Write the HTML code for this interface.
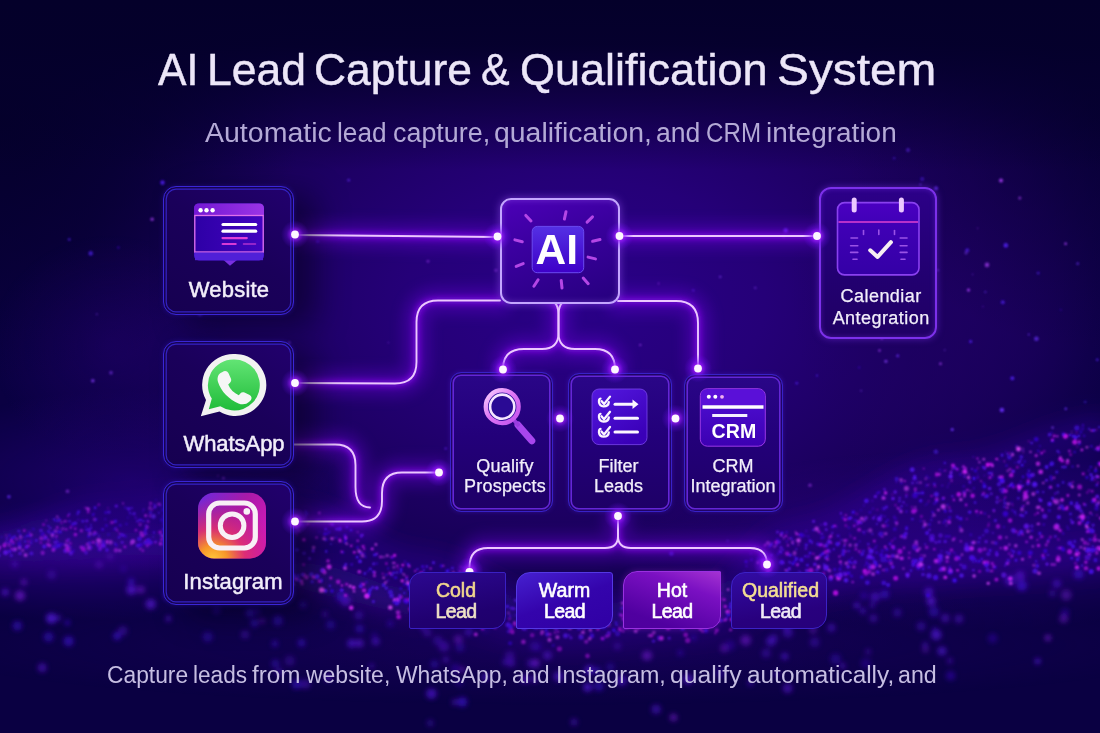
<!DOCTYPE html>
<html><head><meta charset="utf-8">
<style>
*{margin:0;padding:0;box-sizing:border-box}
html,body{width:1100px;height:733px;overflow:hidden;background:#0a0340}
body{position:relative;font-family:"Liberation Sans",sans-serif}
.bg{position:absolute;left:0;top:0;width:1100px;height:733px;
 background:
  linear-gradient(180deg, rgba(4,0,42,1) 0px, rgba(4,0,42,0.92) 45px, rgba(4,0,42,0.45) 110px, rgba(4,0,42,0) 170px),
  radial-gradient(ellipse 300px 260px at 0px 120px, rgba(4,0,40,0.85), rgba(4,0,40,0.5) 50%, rgba(4,0,40,0) 100%),
  radial-gradient(ellipse 260px 240px at 1100px 110px, rgba(6,0,44,0.6), rgba(6,0,44,0) 100%),
  radial-gradient(ellipse 170px 260px at 960px 270px, rgba(30,0,98,0.85), rgba(30,0,98,0.45) 55%, rgba(30,0,98,0) 100%),
  radial-gradient(ellipse 600px 400px at 585px 300px, #2a0088 0%, #250078 30%, #1b005e 58%, rgba(16,0,76,0.5) 85%, rgba(10,0,66,0) 100%),
  #0a0042;
}
.bottom{position:absolute;left:0;top:0;width:1100px;height:733px;background:radial-gradient(ellipse 120px 110px at 110px 345px, rgba(40,0,120,0.35), rgba(40,0,120,0) 100%), radial-gradient(ellipse 650px 60px at 560px 645px, rgba(34,0,110,0.45), rgba(34,0,110,0) 100%), radial-gradient(ellipse 240px 90px at 130px 480px, rgba(50,0,150,0.45), rgba(50,0,150,0) 100%), radial-gradient(ellipse 260px 60px at 90px 560px, rgba(60,0,170,0.45), rgba(60,0,170,0) 100%), radial-gradient(ellipse 330px 90px at 960px 540px, rgba(70,0,180,0.35), rgba(70,0,180,0) 100%)}
svg.layer{position:absolute;left:0;top:0}
.t{position:absolute;white-space:nowrap;line-height:1;transform-origin:0 0}
.title{top:47px;font-size:45px;color:#ece6f8;-webkit-text-stroke:0.45px #ece6f8}
.sub{top:119.7px;font-size:27px;color:#b4aad6}
.foot{top:664px;font-size:23.3px;color:#c6bee2}
.node{position:absolute;border-radius:13px}
.ln{border:1.2px solid #3a26d6;background:linear-gradient(215deg,#22006e 0%,#1a005a 45%,#160050 100%);
 box-shadow: inset 0 0 0 1.6px rgba(20,0,70,0.9), inset 0 0 0 2.8px #3422c4, 0 0 5px rgba(60,30,220,0.3), 22px 10px 30px rgba(6,0,34,0.6);}
.mn{border-radius:11px;border:1.2px solid #3822c8;background:linear-gradient(180deg,#2a0688 0%,#23007a 45%,#1e0066 100%);
 box-shadow: inset 0 0 0 1.4px rgba(24,0,90,0.9), inset 0 0 0 3px #6426d6, 0 0 5px rgba(90,40,230,0.3);}
.lbl{position:absolute;left:0;width:100%;text-align:center;color:#f2eefa;line-height:1;-webkit-text-stroke:0.5px #f2eefa}
.pill{position:absolute;top:572px;height:57px;text-align:center;font-size:19.5px;line-height:21.2px;padding-top:6.8px;color:#fff;-webkit-text-stroke:0.6px currentColor}
.pill span{letter-spacing:-0.6px}
</style></head><body>
<div class="bg"></div>
<svg class="layer" width="1100" height="733" viewBox="0 0 1100 733">
<defs>
 <filter id="b1" x="-50%" y="-50%" width="200%" height="200%"><feGaussianBlur stdDeviation="0.9"/></filter>
 <filter id="b3" x="-50%" y="-50%" width="200%" height="200%"><feGaussianBlur stdDeviation="2.5"/></filter>
 <filter id="b8" x="-10%" y="-50%" width="120%" height="200%"><feGaussianBlur stdDeviation="12"/></filter>
 <radialGradient id="wg" cx="0.5" cy="0.5" r="0.5"><stop offset="0" stop-color="#8a30ff" stop-opacity="0.25"/><stop offset="1" stop-color="#8a30ff" stop-opacity="0"/></radialGradient>
</defs>
<g filter="url(#b8)" stroke-linecap="round">
 <path d="M-10,538.0 L10,535.3806832917145 L30,528.3543477145312 L50,519.1518051684908 L70,510.6947978899028 L90,505.6683659353608 L110,504.8042260651806 L130,503.3511410091699 L150,501.0 L170,498.6488589908301 L190,497.1957739348194 L210,497.3181326440815 L230,499.6793958600989 L250,503.5 L270,507.3206041399011 L290,509.6818673559185 L310,510.85185434277327 L330,517.3223304703363 L350,528.529523872437 L370,541.470476127563 L390,552.6776695296637 L410,559.1481456572267 L430,560.6538091079138 L450,565.6585081661502 L470,574.521390041543 L490,585.2120753057447 L510,595.281456801451 L530,602.4227605771972 L550,605.0 L570,604.7838636441065 L590,604.1728265158971 L610,603.2725424859374 L630,602.2386788418308 L650,601.25 L670,600.4774575140626 L690,600.0546309981655 L710,597.8892417275068 L730,582.5 L750,558.9223137816574 L770,538.1884444908358 L790,530.0 L810,527.5260848066168 L830,520.4809703885628 L850,509.9372115518654 L870,497.5 L890,485.0627884481346 L910,474.5190296114372 L930,467.47391519338316 L950,465.0 L970,463.4395304164814 L990,458.9956890143242 L1010,452.34501036348433 L1030,444.5 L1050,436.65498963651567 L1070,430.0043109856758 L1090,425.5604695835186 L1110,424.0 L1110,558.0 L1090,558.6349858686752 L1070,560.3383399479925 L1050,562.5692593530931 L1030,564.6194429357812 L1010,565.837971894458 L990,566.171302192967 L970,567.4427516169764 L950,569.5 L930,571.5572483830236 L910,572.828697807033 L890,573.293660902229 L870,575.4732884862451 L850,579.0 L830,582.5267115137549 L810,584.7063390977709 L790,585.9788696740969 L770,593.2442949541505 L750,605.0 L730,616.7557050458495 L710,624.0211303259031 L690,625.1253604390909 L670,626.0908425876598 L650,627.8305813044122 L630,630.0 L610,632.1694186955878 L590,633.9091574123402 L570,634.8746395609091 L550,634.6239186827273 L530,631.7274722370205 L510,626.5082560867634 L490,620.0 L470,613.4917439132366 L450,608.2725277629795 L430,605.3760813172727 L410,604.5399986549024 L390,601.0459415460184 L370,594.994057108884 L350,588.005942891116 L330,581.9540584539816 L310,578.4600013450976 L290,577.5863105510001 L270,574.4002194607225 L250,568.6590816954397 L230,561.5 L210,554.3409183045603 L190,548.5997805392775 L170,545.4136894489999 L150,545.0425672507903 L130,545.374457160676 L110,545.9934134090519 L90,546.8158425248198 L70,547.7306708986582 L50,548.6143458894413 L30,549.3475222930516 L10,549.8311805735109 L-10,550.0 Z" fill="#3a10c8" opacity="0.18"/>
 <path d="M-10,550.0 L10,549.8311805735109 L30,549.3475222930516 L50,548.6143458894413 L70,547.7306708986582 L90,546.8158425248198 L110,545.9934134090519 L130,545.374457160676 L150,545.0425672507903 L170,545.4136894489999 L190,548.5997805392775 L210,554.3409183045603 L230,561.5 L250,568.6590816954397 L270,574.4002194607225 L290,577.5863105510001 L310,578.4600013450976 L330,581.9540584539816 L350,588.005942891116 L370,594.994057108884 L390,601.0459415460184 L410,604.5399986549024 L430,605.3760813172727 L450,608.2725277629795 L470,613.4917439132366 L490,620.0 L510,626.5082560867634 L530,631.7274722370205 L550,634.6239186827273 L570,634.8746395609091 L590,633.9091574123402 L610,632.1694186955878 L630,630.0 L650,627.8305813044122 L670,626.0908425876598 L690,625.1253604390909 L710,624.0211303259031 L730,616.7557050458495 L750,605.0 L770,593.2442949541505 L790,585.9788696740969 L810,584.7063390977709 L830,582.5267115137549 L850,579.0 L870,575.4732884862451 L890,573.293660902229 L910,572.828697807033 L930,571.5572483830236 L950,569.5 L970,567.4427516169764 L990,566.171302192967 L1010,565.837971894458 L1030,564.6194429357812 L1050,562.5692593530931 L1070,560.3383399479925 L1090,558.6349858686752 L1110,558.0" fill="none" stroke="#4a14d0" stroke-width="30" opacity="0.25"/>
 <path d="M-10,538.0 L10,535.3806832917145 L30,528.3543477145312 L50,519.1518051684908 L70,510.6947978899028 L90,505.6683659353608 L110,504.8042260651806 L130,503.3511410091699 L150,501.0 L170,498.6488589908301 L190,497.1957739348194 L210,497.3181326440815 L230,499.6793958600989 L250,503.5 L270,507.3206041399011 L290,509.6818673559185 L310,510.85185434277327 L330,517.3223304703363 L350,528.529523872437 L370,541.470476127563 L390,552.6776695296637 L410,559.1481456572267 L430,560.6538091079138 L450,565.6585081661502 L470,574.521390041543 L490,585.2120753057447 L510,595.281456801451 L530,602.4227605771972 L550,605.0 L570,604.7838636441065 L590,604.1728265158971 L610,603.2725424859374 L630,602.2386788418308 L650,601.25 L670,600.4774575140626 L690,600.0546309981655 L710,597.8892417275068 L730,582.5 L750,558.9223137816574 L770,538.1884444908358 L790,530.0 L810,527.5260848066168 L830,520.4809703885628 L850,509.9372115518654 L870,497.5 L890,485.0627884481346 L910,474.5190296114372 L930,467.47391519338316 L950,465.0 L970,463.4395304164814 L990,458.9956890143242 L1010,452.34501036348433 L1030,444.5 L1050,436.65498963651567 L1070,430.0043109856758 L1090,425.5604695835186 L1110,424.0" fill="none" stroke="#4a18d0" stroke-width="12" opacity="0.35"/>
 <path d="M-10,560 L80,556 L160,555 L240,565 L320,588 L420,612" fill="none" stroke="#8010d0" stroke-width="12" opacity="0.2"/>
</g>
<g filter="url(#b3)"><circle cx="1078.6" cy="574.0" r="5.1" fill="#3a0cc8" opacity="0.70"/>
<circle cx="511.1" cy="662.8" r="4.1" fill="#6018e0" opacity="0.61"/>
<circle cx="14.8" cy="564.2" r="3.1" fill="#6018e0" opacity="0.55"/>
<circle cx="168.4" cy="618.7" r="2.9" fill="#6018e0" opacity="0.63"/>
<circle cx="185.0" cy="590.1" r="5.1" fill="#5a18e8" opacity="0.67"/>
<circle cx="1010.0" cy="580.3" r="5.4" fill="#5a18e8" opacity="0.58"/>
<circle cx="617.4" cy="646.2" r="3.6" fill="#6018e0" opacity="0.51"/>
<circle cx="462.4" cy="669.6" r="2.6" fill="#8a20e8" opacity="0.64"/>
<circle cx="303.0" cy="604.7" r="3.6" fill="#3a0cc8" opacity="0.55"/>
<circle cx="256.8" cy="611.3" r="3.8" fill="#3a0cc8" opacity="0.37"/>
<circle cx="1063.7" cy="618.7" r="4.4" fill="#8a20e8" opacity="0.44"/>
<circle cx="646.2" cy="655.8" r="4.7" fill="#8a20e8" opacity="0.38"/>
<circle cx="454.7" cy="702.2" r="3.1" fill="#6018e0" opacity="0.47"/>
<circle cx="305.5" cy="683.9" r="5.0" fill="#6018e0" opacity="0.44"/>
<circle cx="109.9" cy="556.4" r="3.5" fill="#8a20e8" opacity="0.36"/>
<circle cx="589.3" cy="670.0" r="5.0" fill="#5a18e8" opacity="0.72"/>
<circle cx="131.1" cy="581.5" r="3.2" fill="#4010d8" opacity="0.70"/>
<circle cx="621.6" cy="680.4" r="5.4" fill="#5a18e8" opacity="0.59"/>
<circle cx="745.7" cy="640.3" r="5.4" fill="#8a20e8" opacity="0.63"/>
<circle cx="875.1" cy="597.1" r="4.8" fill="#5a18e8" opacity="0.54"/>
<circle cx="345.8" cy="600.8" r="5.4" fill="#6018e0" opacity="0.57"/>
<circle cx="245.0" cy="586.0" r="4.8" fill="#3a0cc8" opacity="0.50"/>
<circle cx="610.3" cy="667.0" r="4.3" fill="#4010d8" opacity="0.43"/>
<circle cx="934.8" cy="629.4" r="2.5" fill="#4010d8" opacity="0.47"/>
<circle cx="574.0" cy="722.0" r="3.5" fill="#6018e0" opacity="0.45"/>
<circle cx="835.6" cy="658.9" r="5.4" fill="#4010d8" opacity="0.42"/>
<circle cx="390.2" cy="623.8" r="3.2" fill="#3a0cc8" opacity="0.55"/>
<circle cx="597.0" cy="670.0" r="3.8" fill="#4010d8" opacity="0.57"/>
<circle cx="445.9" cy="659.8" r="3.2" fill="#6018e0" opacity="0.60"/>
<circle cx="359.6" cy="628.8" r="4.1" fill="#4010d8" opacity="0.62"/>
<circle cx="166.8" cy="596.5" r="2.7" fill="#5a18e8" opacity="0.49"/>
<circle cx="925.4" cy="649.6" r="3.5" fill="#8a20e8" opacity="0.37"/>
<circle cx="931.1" cy="601.3" r="4.6" fill="#6018e0" opacity="0.72"/>
<circle cx="773.4" cy="605.7" r="3.9" fill="#5a18e8" opacity="0.66"/>
<circle cx="783.3" cy="624.0" r="3.1" fill="#3a0cc8" opacity="0.53"/>
<circle cx="941.9" cy="651.0" r="4.6" fill="#5a18e8" opacity="0.65"/>
<circle cx="123.5" cy="568.8" r="2.9" fill="#4010d8" opacity="0.39"/>
<circle cx="117.1" cy="635.9" r="4.0" fill="#4010d8" opacity="0.68"/>
<circle cx="530.9" cy="663.0" r="4.1" fill="#6018e0" opacity="0.53"/>
<circle cx="203.8" cy="569.2" r="3.1" fill="#5a18e8" opacity="0.42"/>
<circle cx="872.2" cy="605.3" r="2.8" fill="#5a18e8" opacity="0.51"/>
<circle cx="1065.1" cy="612.5" r="4.1" fill="#3a0cc8" opacity="0.39"/>
<circle cx="509.8" cy="655.8" r="4.9" fill="#6018e0" opacity="0.49"/>
<circle cx="787.6" cy="688.3" r="4.9" fill="#6018e0" opacity="0.55"/>
<circle cx="786.8" cy="628.0" r="2.8" fill="#5a18e8" opacity="0.71"/>
<circle cx="770.3" cy="621.1" r="5.1" fill="#8a20e8" opacity="0.74"/>
<circle cx="928.7" cy="592.0" r="4.6" fill="#5a18e8" opacity="0.64"/>
<circle cx="534.3" cy="646.3" r="4.6" fill="#5a18e8" opacity="0.47"/>
<circle cx="296.6" cy="684.2" r="5.0" fill="#3a0cc8" opacity="0.67"/>
<circle cx="761.8" cy="624.6" r="2.8" fill="#8a20e8" opacity="0.42"/>
<circle cx="371.5" cy="666.1" r="2.5" fill="#5a18e8" opacity="0.60"/>
<circle cx="301.5" cy="642.9" r="3.8" fill="#4010d8" opacity="0.66"/>
<circle cx="884.7" cy="594.2" r="4.4" fill="#3a0cc8" opacity="0.68"/>
<circle cx="864.0" cy="595.8" r="3.9" fill="#3a0cc8" opacity="0.44"/>
<circle cx="647.5" cy="655.4" r="5.0" fill="#8a20e8" opacity="0.50"/>
<circle cx="330.5" cy="624.8" r="4.5" fill="#4010d8" opacity="0.47"/>
<circle cx="468.7" cy="632.3" r="3.5" fill="#5a18e8" opacity="0.69"/>
<circle cx="443.9" cy="646.5" r="5.4" fill="#6018e0" opacity="0.58"/>
<circle cx="175.0" cy="580.1" r="3.8" fill="#6018e0" opacity="0.67"/>
<circle cx="358.8" cy="615.4" r="4.3" fill="#5a18e8" opacity="0.42"/>
<circle cx="897.4" cy="612.7" r="4.2" fill="#5a18e8" opacity="0.40"/>
<circle cx="958.9" cy="618.9" r="4.5" fill="#6018e0" opacity="0.48"/>
<circle cx="814.6" cy="642.2" r="4.9" fill="#5a18e8" opacity="0.41"/>
<circle cx="680.3" cy="652.8" r="3.1" fill="#3a0cc8" opacity="0.62"/>
<circle cx="245.0" cy="634.4" r="4.0" fill="#6018e0" opacity="0.46"/>
<circle cx="23.9" cy="582.3" r="3.0" fill="#8a20e8" opacity="0.62"/>
<circle cx="693.5" cy="637.6" r="3.2" fill="#3a0cc8" opacity="0.62"/>
<circle cx="195.5" cy="568.1" r="2.8" fill="#4010d8" opacity="0.55"/>
<circle cx="921.1" cy="626.3" r="4.6" fill="#5a18e8" opacity="0.43"/>
<circle cx="587.6" cy="687.3" r="4.4" fill="#5a18e8" opacity="0.72"/>
<circle cx="341.0" cy="596.4" r="5.4" fill="#3a0cc8" opacity="0.61"/>
<circle cx="68.6" cy="641.1" r="5.2" fill="#3a0cc8" opacity="0.72"/>
<circle cx="813.7" cy="602.5" r="3.1" fill="#4010d8" opacity="0.47"/>
<circle cx="434.5" cy="664.3" r="4.0" fill="#3a0cc8" opacity="0.59"/>
<circle cx="20.0" cy="595.7" r="5.1" fill="#8a20e8" opacity="0.61"/>
<circle cx="925.2" cy="644.7" r="2.7" fill="#5a18e8" opacity="0.57"/>
<circle cx="351.5" cy="643.4" r="4.4" fill="#5a18e8" opacity="0.75"/>
<circle cx="262.4" cy="620.8" r="2.6" fill="#8a20e8" opacity="0.57"/>
<circle cx="1037.6" cy="661.2" r="2.9" fill="#5a18e8" opacity="0.71"/>
<circle cx="458.3" cy="639.5" r="4.5" fill="#8a20e8" opacity="0.58"/>
<circle cx="254.5" cy="623.0" r="4.2" fill="#3a0cc8" opacity="0.68"/>
<circle cx="766.1" cy="653.2" r="4.6" fill="#5a18e8" opacity="0.44"/>
<circle cx="273.4" cy="592.2" r="3.3" fill="#8a20e8" opacity="0.50"/>
<circle cx="724.3" cy="648.1" r="4.3" fill="#8a20e8" opacity="0.53"/>
<circle cx="868.1" cy="651.7" r="2.7" fill="#6018e0" opacity="0.53"/>
<circle cx="249.8" cy="612.8" r="4.3" fill="#3a0cc8" opacity="0.67"/>
<circle cx="207.7" cy="636.8" r="5.2" fill="#4010d8" opacity="0.45"/>
<circle cx="199.9" cy="567.6" r="2.8" fill="#5a18e8" opacity="0.65"/>
<circle cx="99.0" cy="564.4" r="3.5" fill="#8a20e8" opacity="0.46"/>
<circle cx="485.4" cy="630.0" r="3.0" fill="#4010d8" opacity="0.35"/>
<circle cx="437.8" cy="640.6" r="4.9" fill="#5a18e8" opacity="0.46"/>
<circle cx="1056.8" cy="583.8" r="4.3" fill="#5a18e8" opacity="0.51"/>
<circle cx="720.3" cy="673.1" r="4.8" fill="#3a0cc8" opacity="0.43"/>
<circle cx="873.3" cy="618.3" r="4.0" fill="#6018e0" opacity="0.48"/>
<circle cx="866.0" cy="663.3" r="5.4" fill="#3a0cc8" opacity="0.38"/>
<circle cx="275.5" cy="663.6" r="4.2" fill="#4010d8" opacity="0.51"/>
<circle cx="374.3" cy="635.2" r="3.0" fill="#4010d8" opacity="0.38"/>
<circle cx="216.5" cy="610.2" r="3.9" fill="#4010d8" opacity="0.37"/>
<circle cx="787.8" cy="632.4" r="5.3" fill="#5a18e8" opacity="0.51"/>
<circle cx="933.9" cy="611.6" r="5.4" fill="#3a0cc8" opacity="0.56"/>
<circle cx="279.2" cy="671.6" r="3.9" fill="#5a18e8" opacity="0.42"/>
<circle cx="547.4" cy="655.3" r="4.6" fill="#6018e0" opacity="0.72"/>
<circle cx="784.7" cy="656.2" r="3.5" fill="#5a18e8" opacity="0.69"/>
<circle cx="150.7" cy="604.0" r="5.3" fill="#6018e0" opacity="0.67"/>
<circle cx="813.0" cy="629.8" r="3.6" fill="#8a20e8" opacity="0.49"/>
<circle cx="430.2" cy="722.9" r="3.5" fill="#5a18e8" opacity="0.35"/>
<circle cx="558.5" cy="676.5" r="5.1" fill="#5a18e8" opacity="0.65"/>
<circle cx="535.2" cy="663.8" r="5.1" fill="#6018e0" opacity="0.37"/>
<circle cx="48.6" cy="636.9" r="5.2" fill="#3a0cc8" opacity="0.58"/>
<circle cx="949.8" cy="660.8" r="2.8" fill="#6018e0" opacity="0.56"/>
<circle cx="58.2" cy="618.0" r="3.4" fill="#5a18e8" opacity="0.38"/>
<circle cx="427.4" cy="632.7" r="4.0" fill="#6018e0" opacity="0.49"/>
<circle cx="17.3" cy="625.8" r="4.9" fill="#3a0cc8" opacity="0.60"/>
<circle cx="328.2" cy="677.6" r="3.8" fill="#6018e0" opacity="0.60"/>
<circle cx="1052.4" cy="593.2" r="3.2" fill="#6018e0" opacity="0.42"/>
<circle cx="768.8" cy="605.0" r="3.9" fill="#6018e0" opacity="0.66"/>
<circle cx="455.3" cy="668.4" r="5.1" fill="#3a0cc8" opacity="0.46"/>
<circle cx="1047.9" cy="637.8" r="2.9" fill="#8a20e8" opacity="0.73"/>
<circle cx="485.3" cy="677.1" r="3.4" fill="#5a18e8" opacity="0.74"/>
<circle cx="776.6" cy="674.1" r="2.8" fill="#5a18e8" opacity="0.51"/>
<circle cx="535.9" cy="662.5" r="3.2" fill="#8a20e8" opacity="0.74"/>
<circle cx="324.9" cy="614.3" r="2.7" fill="#6018e0" opacity="0.55"/>
<circle cx="202.0" cy="576.8" r="4.7" fill="#8a20e8" opacity="0.56"/>
<circle cx="140.8" cy="589.6" r="3.9" fill="#8a20e8" opacity="0.53"/>
<circle cx="431.4" cy="693.6" r="5.3" fill="#5a18e8" opacity="0.62"/>
<circle cx="862.9" cy="610.9" r="2.9" fill="#5a18e8" opacity="0.63"/>
<circle cx="773.9" cy="637.9" r="4.6" fill="#5a18e8" opacity="0.41"/>
<circle cx="856.8" cy="605.4" r="2.8" fill="#5a18e8" opacity="0.75"/>
<circle cx="1021.8" cy="585.6" r="5.3" fill="#4010d8" opacity="0.70"/>
<circle cx="375.7" cy="641.3" r="3.9" fill="#5a18e8" opacity="0.69"/>
<circle cx="51.6" cy="574.8" r="4.7" fill="#6018e0" opacity="0.36"/>
<circle cx="802.8" cy="604.5" r="5.0" fill="#4010d8" opacity="0.53"/>
<circle cx="831.3" cy="627.7" r="4.2" fill="#5a18e8" opacity="0.54"/>
<circle cx="950.6" cy="675.8" r="4.7" fill="#3a0cc8" opacity="0.51"/>
<circle cx="277.9" cy="620.6" r="5.1" fill="#3a0cc8" opacity="0.65"/>
<circle cx="673.5" cy="717.5" r="3.8" fill="#8a20e8" opacity="0.51"/>
<circle cx="750.4" cy="682.9" r="2.9" fill="#5a18e8" opacity="0.50"/>
<circle cx="936.2" cy="634.7" r="5.3" fill="#5a18e8" opacity="0.71"/>
<circle cx="246.0" cy="595.6" r="3.1" fill="#5a18e8" opacity="0.42"/>
<circle cx="67.4" cy="622.7" r="2.6" fill="#3a0cc8" opacity="0.74"/>
<circle cx="730.1" cy="645.2" r="5.3" fill="#4010d8" opacity="0.40"/>
<circle cx="992.6" cy="638.3" r="4.8" fill="#4010d8" opacity="0.38"/>
<circle cx="460.0" cy="647.3" r="4.6" fill="#3a0cc8" opacity="0.57"/>
<circle cx="462.3" cy="701.9" r="5.0" fill="#3a0cc8" opacity="0.72"/>
<circle cx="42.2" cy="667.7" r="4.6" fill="#6018e0" opacity="0.53"/>
<circle cx="945.3" cy="618.1" r="4.4" fill="#6018e0" opacity="0.52"/>
<circle cx="534.2" cy="679.2" r="3.4" fill="#6018e0" opacity="0.56"/>
<circle cx="289.7" cy="660.9" r="5.1" fill="#6018e0" opacity="0.36"/>
<circle cx="423.0" cy="627.6" r="2.8" fill="#6018e0" opacity="0.69"/>
<circle cx="688.1" cy="679.3" r="5.0" fill="#6018e0" opacity="0.72"/>
<circle cx="537.9" cy="646.9" r="4.1" fill="#3a0cc8" opacity="0.52"/>
<circle cx="459.1" cy="682.3" r="4.2" fill="#3a0cc8" opacity="0.35"/>
<circle cx="770.8" cy="641.4" r="4.9" fill="#5a18e8" opacity="0.65"/>
<circle cx="131.3" cy="589.8" r="4.9" fill="#6018e0" opacity="0.74"/>
<circle cx="51.3" cy="618.3" r="5.4" fill="#5a18e8" opacity="0.73"/>
<circle cx="274.9" cy="643.7" r="3.1" fill="#4010d8" opacity="0.66"/>
<circle cx="1020.1" cy="575.8" r="4.8" fill="#6018e0" opacity="0.63"/>
<circle cx="359.4" cy="643.3" r="4.3" fill="#6018e0" opacity="0.75"/>
<circle cx="1066.2" cy="594.9" r="5.3" fill="#8a20e8" opacity="0.40"/>
<circle cx="505.5" cy="661.9" r="3.5" fill="#5a18e8" opacity="0.50"/>
<circle cx="598.8" cy="686.0" r="5.3" fill="#3a0cc8" opacity="0.59"/>
<circle cx="122.8" cy="630.8" r="4.8" fill="#6018e0" opacity="0.40"/>
<circle cx="842.6" cy="666.0" r="3.0" fill="#6018e0" opacity="0.62"/>
<circle cx="656.1" cy="709.3" r="4.9" fill="#5a18e8" opacity="0.46"/>
<circle cx="5.2" cy="592.3" r="3.8" fill="#6018e0" opacity="0.63"/>
<circle cx="777.0" cy="625.0" r="3.6" fill="#4010d8" opacity="0.71"/>
<circle cx="525.2" cy="679.0" r="4.2" fill="#6018e0" opacity="0.67"/></g>
<g filter="url(#b1)"><circle cx="497.1" cy="608.1" r="1.41" fill="#5818ff" opacity="0.92"/>
<circle cx="523.1" cy="615.7" r="1.15" fill="#5818ff" opacity="0.64"/>
<circle cx="893.7" cy="547.9" r="1.89" fill="#4810f0" opacity="0.86"/>
<circle cx="686.7" cy="622.1" r="1.16" fill="#e028ff" opacity="0.84"/>
<circle cx="858.7" cy="522.2" r="1.04" fill="#d010f0" opacity="0.86"/>
<circle cx="502.6" cy="597.9" r="1.71" fill="#4a10f8" opacity="0.88"/>
<circle cx="345.0" cy="535.6" r="1.48" fill="#3c08f0" opacity="0.75"/>
<circle cx="1058.4" cy="539.5" r="1.11" fill="#d010f0" opacity="0.79"/>
<circle cx="1083.2" cy="473.7" r="1.57" fill="#d010f0" opacity="0.72"/>
<circle cx="11.8" cy="541.6" r="1.70" fill="#d010f0" opacity="0.60"/>
<circle cx="511.1" cy="608.2" r="1.37" fill="#5818ff" opacity="0.77"/>
<circle cx="421.0" cy="573.3" r="1.75" fill="#c010e8" opacity="1.00"/>
<circle cx="16.8" cy="539.0" r="1.29" fill="#e028ff" opacity="0.69"/>
<circle cx="281.7" cy="558.5" r="1.36" fill="#d010f0" opacity="0.63"/>
<circle cx="226.7" cy="537.1" r="1.55" fill="#e848ff" opacity="0.93"/>
<circle cx="145.7" cy="515.7" r="1.42" fill="#e028ff" opacity="0.93"/>
<circle cx="271.9" cy="516.4" r="0.94" fill="#6a18ff" opacity="0.84"/>
<circle cx="462.8" cy="567.8" r="0.77" fill="#5818ff" opacity="0.90"/>
<circle cx="429.7" cy="578.8" r="1.35" fill="#4a10f8" opacity="0.65"/>
<circle cx="527.0" cy="617.7" r="1.55" fill="#e028ff" opacity="0.97"/>
<circle cx="221.4" cy="498.5" r="0.76" fill="#c010e8" opacity="0.81"/>
<circle cx="1075.1" cy="438.8" r="0.85" fill="#3c08f0" opacity="0.86"/>
<circle cx="762.3" cy="573.1" r="0.98" fill="#3c08f0" opacity="0.99"/>
<circle cx="18.6" cy="543.1" r="1.42" fill="#3c08f0" opacity="0.65"/>
<circle cx="75.4" cy="523.3" r="1.74" fill="#5818ff" opacity="0.92"/>
<circle cx="1010.7" cy="485.1" r="1.46" fill="#6a18ff" opacity="0.98"/>
<circle cx="28.6" cy="541.5" r="1.26" fill="#d010f0" opacity="0.63"/>
<circle cx="704.7" cy="624.9" r="1.99" fill="#6a18ff" opacity="0.97"/>
<circle cx="765.5" cy="560.0" r="1.36" fill="#3c08f0" opacity="0.84"/>
<circle cx="528.9" cy="607.9" r="1.41" fill="#4810f0" opacity="0.86"/>
<circle cx="534.8" cy="628.1" r="1.69" fill="#3c08f0" opacity="0.86"/>
<circle cx="485.5" cy="614.9" r="1.43" fill="#5818ff" opacity="0.85"/>
<circle cx="887.1" cy="549.2" r="1.25" fill="#5818ff" opacity="0.65"/>
<circle cx="546.1" cy="630.3" r="1.87" fill="#3c08f0" opacity="0.93"/>
<circle cx="120.2" cy="525.2" r="1.25" fill="#3c08f0" opacity="0.89"/>
<circle cx="929.5" cy="524.6" r="1.27" fill="#3c08f0" opacity="0.95"/>
<circle cx="41.1" cy="538.4" r="1.74" fill="#e028ff" opacity="0.76"/>
<circle cx="205.8" cy="537.0" r="1.30" fill="#4a10f8" opacity="0.99"/>
<circle cx="123.0" cy="503.4" r="1.07" fill="#e028ff" opacity="0.68"/>
<circle cx="522.4" cy="603.2" r="0.77" fill="#4a10f8" opacity="0.67"/>
<circle cx="297.3" cy="528.0" r="1.39" fill="#6a18ff" opacity="0.94"/>
<circle cx="771.8" cy="543.2" r="1.15" fill="#6a18ff" opacity="0.65"/>
<circle cx="498.4" cy="610.6" r="1.50" fill="#3c08f0" opacity="0.79"/>
<circle cx="718.0" cy="596.3" r="1.42" fill="#4a10f8" opacity="0.69"/>
<circle cx="994.0" cy="566.6" r="1.90" fill="#d010f0" opacity="0.74"/>
<circle cx="86.9" cy="521.0" r="1.38" fill="#6a18ff" opacity="0.97"/>
<circle cx="237.3" cy="553.7" r="1.60" fill="#5818ff" opacity="0.79"/>
<circle cx="1104.8" cy="542.5" r="1.61" fill="#6a18ff" opacity="0.98"/>
<circle cx="541.8" cy="633.5" r="1.64" fill="#e028ff" opacity="0.81"/>
<circle cx="931.4" cy="520.1" r="1.23" fill="#4810f0" opacity="0.68"/>
<circle cx="939.4" cy="563.5" r="1.36" fill="#4810f0" opacity="0.60"/>
<circle cx="413.5" cy="580.6" r="0.98" fill="#4810f0" opacity="0.92"/>
<circle cx="619.8" cy="614.5" r="1.40" fill="#6a18ff" opacity="0.71"/>
<circle cx="520.2" cy="601.1" r="1.13" fill="#6a18ff" opacity="0.81"/>
<circle cx="115.6" cy="521.0" r="1.51" fill="#4a10f8" opacity="0.68"/>
<circle cx="247.3" cy="544.6" r="1.31" fill="#e848ff" opacity="0.64"/>
<circle cx="806.3" cy="531.0" r="0.92" fill="#6a18ff" opacity="0.61"/>
<circle cx="697.6" cy="619.7" r="1.65" fill="#4810f0" opacity="0.86"/>
<circle cx="582.9" cy="625.3" r="1.32" fill="#3c08f0" opacity="0.96"/>
<circle cx="345.6" cy="537.8" r="1.66" fill="#e028ff" opacity="0.96"/>
<circle cx="143.7" cy="509.3" r="0.88" fill="#6a18ff" opacity="0.82"/>
<circle cx="777.4" cy="539.7" r="1.34" fill="#4a10f8" opacity="0.68"/>
<circle cx="752.4" cy="599.7" r="1.60" fill="#4810f0" opacity="1.00"/>
<circle cx="919.6" cy="548.5" r="1.52" fill="#e848ff" opacity="0.66"/>
<circle cx="199.8" cy="509.1" r="1.61" fill="#d010f0" opacity="0.65"/>
<circle cx="750.9" cy="553.6" r="0.81" fill="#6a18ff" opacity="0.81"/>
<circle cx="472.4" cy="600.5" r="1.73" fill="#e848ff" opacity="0.74"/>
<circle cx="405.9" cy="600.2" r="1.70" fill="#d010f0" opacity="0.73"/>
<circle cx="89.2" cy="543.1" r="1.95" fill="#5818ff" opacity="0.80"/>
<circle cx="1085.8" cy="524.6" r="1.32" fill="#5818ff" opacity="0.93"/>
<circle cx="445.3" cy="604.8" r="1.83" fill="#6a18ff" opacity="0.68"/>
<circle cx="200.1" cy="535.7" r="1.35" fill="#c010e8" opacity="1.00"/>
<circle cx="997.0" cy="458.9" r="0.98" fill="#e848ff" opacity="0.83"/>
<circle cx="586.7" cy="620.2" r="1.76" fill="#4a10f8" opacity="0.90"/>
<circle cx="1082.9" cy="425.2" r="0.94" fill="#4a10f8" opacity="0.90"/>
<circle cx="714.3" cy="593.1" r="0.93" fill="#c010e8" opacity="0.82"/>
<circle cx="558.7" cy="626.4" r="1.75" fill="#4a10f8" opacity="0.82"/>
<circle cx="737.0" cy="607.5" r="1.52" fill="#6a18ff" opacity="0.79"/>
<circle cx="182.7" cy="518.2" r="1.77" fill="#4810f0" opacity="0.76"/>
<circle cx="341.8" cy="551.8" r="1.37" fill="#c010e8" opacity="0.87"/>
<circle cx="825.0" cy="523.9" r="1.28" fill="#6a18ff" opacity="0.62"/>
<circle cx="344.8" cy="542.2" r="1.39" fill="#3c08f0" opacity="0.63"/>
<circle cx="1000.2" cy="489.1" r="1.10" fill="#6a18ff" opacity="0.66"/>
<circle cx="1060.5" cy="457.6" r="1.43" fill="#e848ff" opacity="0.78"/>
<circle cx="221.1" cy="498.8" r="1.11" fill="#6a18ff" opacity="0.84"/>
<circle cx="704.9" cy="615.2" r="1.34" fill="#5818ff" opacity="0.98"/>
<circle cx="810.1" cy="541.7" r="1.50" fill="#3c08f0" opacity="0.71"/>
<circle cx="671.9" cy="621.3" r="1.67" fill="#c010e8" opacity="0.90"/>
<circle cx="205.7" cy="513.1" r="1.59" fill="#d010f0" opacity="0.60"/>
<circle cx="283.1" cy="509.3" r="0.74" fill="#c010e8" opacity="0.63"/>
<circle cx="91.0" cy="528.0" r="1.35" fill="#5818ff" opacity="0.74"/>
<circle cx="543.8" cy="606.3" r="1.53" fill="#6a18ff" opacity="0.92"/>
<circle cx="687.3" cy="619.0" r="1.30" fill="#3c08f0" opacity="0.66"/>
<circle cx="923.3" cy="527.2" r="1.23" fill="#5818ff" opacity="0.77"/>
<circle cx="404.9" cy="561.6" r="0.81" fill="#6a18ff" opacity="0.93"/>
<circle cx="509.5" cy="619.1" r="1.10" fill="#d010f0" opacity="0.88"/>
<circle cx="544.2" cy="623.6" r="1.26" fill="#3c08f0" opacity="0.75"/>
<circle cx="125.3" cy="536.0" r="1.54" fill="#3c08f0" opacity="0.78"/>
<circle cx="886.4" cy="506.9" r="1.66" fill="#5818ff" opacity="0.63"/>
<circle cx="914.7" cy="476.0" r="1.32" fill="#5818ff" opacity="0.90"/>
<circle cx="403.8" cy="574.5" r="1.02" fill="#e848ff" opacity="0.95"/>
<circle cx="307.4" cy="513.9" r="1.17" fill="#4810f0" opacity="0.72"/>
<circle cx="19.8" cy="543.5" r="1.38" fill="#3c08f0" opacity="0.63"/>
<circle cx="813.1" cy="579.1" r="1.22" fill="#5818ff" opacity="0.64"/>
<circle cx="901.0" cy="511.6" r="1.69" fill="#e848ff" opacity="0.76"/>
<circle cx="370.0" cy="590.1" r="1.79" fill="#4810f0" opacity="0.92"/>
<circle cx="75.4" cy="534.6" r="1.87" fill="#d010f0" opacity="0.92"/>
<circle cx="920.5" cy="560.0" r="2.00" fill="#4810f0" opacity="0.74"/>
<circle cx="6.3" cy="542.1" r="0.96" fill="#e848ff" opacity="0.87"/>
<circle cx="351.2" cy="545.8" r="1.34" fill="#d010f0" opacity="0.79"/>
<circle cx="806.2" cy="545.0" r="1.64" fill="#4a10f8" opacity="0.83"/>
<circle cx="1004.3" cy="461.2" r="0.81" fill="#e028ff" opacity="0.84"/>
<circle cx="661.0" cy="608.7" r="1.71" fill="#3c08f0" opacity="0.85"/>
<circle cx="1040.6" cy="500.4" r="1.71" fill="#6a18ff" opacity="0.97"/>
<circle cx="374.7" cy="572.5" r="1.14" fill="#e028ff" opacity="0.92"/>
<circle cx="422.3" cy="580.2" r="1.40" fill="#d010f0" opacity="0.86"/>
<circle cx="258.8" cy="503.2" r="1.42" fill="#4810f0" opacity="0.95"/>
<circle cx="456.5" cy="599.1" r="1.20" fill="#4810f0" opacity="0.65"/>
<circle cx="818.3" cy="557.5" r="1.50" fill="#e028ff" opacity="0.93"/>
<circle cx="934.3" cy="549.2" r="1.17" fill="#d010f0" opacity="0.96"/>
<circle cx="765.0" cy="545.2" r="1.18" fill="#e028ff" opacity="0.77"/>
<circle cx="1012.6" cy="454.7" r="1.47" fill="#e848ff" opacity="0.81"/>
<circle cx="169.9" cy="535.3" r="1.17" fill="#e848ff" opacity="0.87"/>
<circle cx="69.4" cy="514.5" r="0.85" fill="#6a18ff" opacity="0.90"/>
<circle cx="865.7" cy="501.6" r="1.38" fill="#3c08f0" opacity="0.83"/>
<circle cx="503.5" cy="594.0" r="1.59" fill="#5818ff" opacity="0.96"/>
<circle cx="163.9" cy="529.3" r="1.84" fill="#4810f0" opacity="0.87"/>
<circle cx="279.7" cy="516.9" r="1.43" fill="#3c08f0" opacity="0.83"/>
<circle cx="798.4" cy="544.8" r="0.96" fill="#e028ff" opacity="0.67"/>
<circle cx="441.5" cy="597.3" r="1.64" fill="#e028ff" opacity="0.61"/>
<circle cx="1091.0" cy="474.6" r="1.62" fill="#5818ff" opacity="0.86"/>
<circle cx="846.2" cy="563.2" r="1.44" fill="#e848ff" opacity="0.85"/>
<circle cx="801.9" cy="558.4" r="1.20" fill="#4810f0" opacity="0.61"/>
<circle cx="362.4" cy="556.0" r="1.42" fill="#e848ff" opacity="0.68"/>
<circle cx="364.4" cy="553.7" r="1.04" fill="#3c08f0" opacity="0.82"/>
<circle cx="386.3" cy="574.7" r="1.05" fill="#4810f0" opacity="1.00"/>
<circle cx="779.6" cy="584.1" r="1.76" fill="#5818ff" opacity="0.70"/>
<circle cx="634.9" cy="619.6" r="1.32" fill="#3c08f0" opacity="0.71"/>
<circle cx="975.1" cy="502.6" r="1.41" fill="#4a10f8" opacity="0.82"/>
<circle cx="288.4" cy="568.3" r="2.04" fill="#4810f0" opacity="0.66"/>
<circle cx="1031.7" cy="443.0" r="1.38" fill="#5818ff" opacity="0.67"/>
<circle cx="603.1" cy="602.8" r="0.75" fill="#e028ff" opacity="0.72"/>
<circle cx="740.1" cy="596.4" r="1.77" fill="#e028ff" opacity="0.76"/>
<circle cx="31.7" cy="540.0" r="1.04" fill="#3c08f0" opacity="0.81"/>
<circle cx="287.7" cy="542.2" r="0.99" fill="#5818ff" opacity="0.76"/>
<circle cx="547.3" cy="610.0" r="1.04" fill="#4810f0" opacity="0.90"/>
<circle cx="829.4" cy="551.5" r="1.68" fill="#6a18ff" opacity="0.65"/>
<circle cx="122.2" cy="542.4" r="1.46" fill="#6a18ff" opacity="0.96"/>
<circle cx="351.0" cy="530.1" r="1.37" fill="#3c08f0" opacity="0.95"/>
<circle cx="968.5" cy="477.5" r="1.55" fill="#e848ff" opacity="0.99"/>
<circle cx="523.0" cy="605.0" r="1.32" fill="#4a10f8" opacity="1.00"/>
<circle cx="806.2" cy="574.6" r="1.46" fill="#4810f0" opacity="0.92"/>
<circle cx="241.2" cy="541.8" r="1.14" fill="#4a10f8" opacity="0.95"/>
<circle cx="634.2" cy="610.5" r="1.16" fill="#4a10f8" opacity="0.73"/>
<circle cx="64.5" cy="544.6" r="1.46" fill="#4a10f8" opacity="0.72"/>
<circle cx="499.9" cy="596.3" r="1.12" fill="#e848ff" opacity="0.95"/>
<circle cx="220.0" cy="547.6" r="1.40" fill="#6a18ff" opacity="0.61"/>
<circle cx="700.3" cy="615.4" r="1.53" fill="#5818ff" opacity="0.68"/>
<circle cx="972.0" cy="469.1" r="1.00" fill="#6a18ff" opacity="0.89"/>
<circle cx="144.7" cy="532.3" r="1.87" fill="#4a10f8" opacity="0.67"/>
<circle cx="951.3" cy="472.5" r="1.39" fill="#3c08f0" opacity="0.92"/>
<circle cx="408.5" cy="584.8" r="1.80" fill="#5818ff" opacity="0.99"/>
<circle cx="989.0" cy="473.2" r="1.37" fill="#4a10f8" opacity="0.78"/>
<circle cx="581.4" cy="619.8" r="0.97" fill="#3c08f0" opacity="0.81"/>
<circle cx="465.0" cy="596.2" r="1.12" fill="#d010f0" opacity="0.67"/>
<circle cx="990.7" cy="571.0" r="1.22" fill="#e848ff" opacity="0.60"/>
<circle cx="984.6" cy="468.1" r="1.54" fill="#6a18ff" opacity="0.91"/>
<circle cx="568.6" cy="619.8" r="1.68" fill="#4810f0" opacity="0.90"/>
<circle cx="585.2" cy="620.5" r="1.36" fill="#4810f0" opacity="0.91"/>
<circle cx="868.1" cy="555.7" r="1.29" fill="#5818ff" opacity="0.94"/>
<circle cx="664.7" cy="607.8" r="0.85" fill="#5818ff" opacity="0.73"/>
<circle cx="670.2" cy="620.9" r="1.70" fill="#3c08f0" opacity="0.94"/>
<circle cx="29.3" cy="531.7" r="1.26" fill="#4810f0" opacity="0.66"/>
<circle cx="340.2" cy="527.2" r="0.99" fill="#4810f0" opacity="0.91"/>
<circle cx="844.5" cy="540.4" r="1.26" fill="#e848ff" opacity="0.88"/>
<circle cx="917.3" cy="544.8" r="1.13" fill="#c010e8" opacity="0.88"/>
<circle cx="776.2" cy="590.4" r="1.72" fill="#e848ff" opacity="0.81"/>
<circle cx="1089.1" cy="428.9" r="1.07" fill="#4a10f8" opacity="0.76"/>
<circle cx="325.9" cy="539.5" r="1.78" fill="#4810f0" opacity="0.69"/>
<circle cx="276.1" cy="541.6" r="1.16" fill="#5818ff" opacity="0.75"/>
<circle cx="369.1" cy="592.9" r="1.55" fill="#4a10f8" opacity="0.89"/>
<circle cx="624.8" cy="627.2" r="1.94" fill="#5818ff" opacity="0.79"/>
<circle cx="431.2" cy="594.0" r="1.30" fill="#e028ff" opacity="0.92"/>
<circle cx="887.6" cy="525.5" r="1.27" fill="#3c08f0" opacity="0.79"/>
<circle cx="539.1" cy="622.1" r="1.47" fill="#4a10f8" opacity="0.88"/>
<circle cx="397.7" cy="568.4" r="0.82" fill="#c010e8" opacity="0.80"/>
<circle cx="624.8" cy="619.5" r="1.05" fill="#3c08f0" opacity="0.65"/>
<circle cx="262.4" cy="561.0" r="1.21" fill="#6a18ff" opacity="0.78"/>
<circle cx="943.5" cy="498.1" r="1.46" fill="#e028ff" opacity="0.80"/>
<circle cx="203.4" cy="527.0" r="1.04" fill="#e848ff" opacity="0.77"/>
<circle cx="598.8" cy="606.0" r="1.40" fill="#5818ff" opacity="0.95"/>
<circle cx="921.4" cy="516.4" r="1.34" fill="#c010e8" opacity="0.69"/>
<circle cx="319.2" cy="531.8" r="0.86" fill="#4810f0" opacity="0.60"/>
<circle cx="840.4" cy="561.9" r="1.64" fill="#e028ff" opacity="0.82"/>
<circle cx="387.2" cy="555.7" r="1.45" fill="#e848ff" opacity="0.65"/>
<circle cx="542.1" cy="614.6" r="1.75" fill="#c010e8" opacity="0.69"/>
<circle cx="1022.3" cy="465.1" r="1.41" fill="#3c08f0" opacity="0.96"/>
<circle cx="887.7" cy="520.1" r="1.14" fill="#3c08f0" opacity="0.88"/>
<circle cx="20.6" cy="537.2" r="1.23" fill="#e848ff" opacity="0.94"/>
<circle cx="328.0" cy="560.9" r="1.83" fill="#d010f0" opacity="0.74"/>
<circle cx="984.9" cy="513.6" r="1.12" fill="#4810f0" opacity="0.74"/>
<circle cx="991.4" cy="463.9" r="1.34" fill="#d010f0" opacity="0.85"/>
<circle cx="684.1" cy="607.1" r="1.62" fill="#6a18ff" opacity="0.99"/>
<circle cx="422.3" cy="595.7" r="1.70" fill="#e848ff" opacity="0.74"/>
<circle cx="1079.4" cy="441.7" r="1.36" fill="#d010f0" opacity="0.97"/>
<circle cx="1082.6" cy="428.7" r="1.19" fill="#4810f0" opacity="0.63"/>
<circle cx="909.1" cy="557.8" r="1.37" fill="#d010f0" opacity="0.73"/>
<circle cx="789.7" cy="562.1" r="1.64" fill="#5818ff" opacity="0.66"/>
<circle cx="685.0" cy="608.6" r="1.17" fill="#4810f0" opacity="0.80"/>
<circle cx="712.3" cy="603.8" r="1.48" fill="#5818ff" opacity="0.95"/>
<circle cx="1093.0" cy="531.5" r="1.86" fill="#6a18ff" opacity="0.62"/>
<circle cx="685.0" cy="607.4" r="1.31" fill="#e848ff" opacity="0.80"/>
<circle cx="879.1" cy="518.2" r="1.51" fill="#c010e8" opacity="0.94"/>
<circle cx="222.4" cy="526.9" r="1.07" fill="#5818ff" opacity="0.85"/>
<circle cx="917.4" cy="550.6" r="1.69" fill="#e028ff" opacity="0.99"/>
<circle cx="518.7" cy="620.0" r="1.73" fill="#3c08f0" opacity="0.88"/>
<circle cx="460.4" cy="588.8" r="1.88" fill="#d010f0" opacity="0.95"/>
<circle cx="210.1" cy="517.4" r="1.33" fill="#6a18ff" opacity="0.73"/>
<circle cx="24.4" cy="537.3" r="1.22" fill="#3c08f0" opacity="0.69"/>
<circle cx="796.3" cy="548.9" r="1.00" fill="#5818ff" opacity="0.82"/>
<circle cx="883.2" cy="498.2" r="1.59" fill="#e848ff" opacity="0.77"/>
<circle cx="163.6" cy="539.9" r="1.37" fill="#3c08f0" opacity="0.85"/>
<circle cx="299.2" cy="519.1" r="1.02" fill="#d010f0" opacity="0.60"/>
<circle cx="839.3" cy="556.5" r="1.01" fill="#e028ff" opacity="1.00"/>
<circle cx="219.4" cy="545.7" r="1.85" fill="#d010f0" opacity="0.69"/>
<circle cx="679.5" cy="620.6" r="1.33" fill="#c010e8" opacity="0.95"/>
<circle cx="1098.7" cy="476.9" r="1.05" fill="#e028ff" opacity="0.82"/>
<circle cx="744.1" cy="571.6" r="0.83" fill="#4a10f8" opacity="0.81"/>
<circle cx="6.6" cy="538.6" r="1.25" fill="#6a18ff" opacity="0.76"/>
<circle cx="886.4" cy="555.9" r="1.79" fill="#4a10f8" opacity="0.97"/>
<circle cx="530.1" cy="621.7" r="1.67" fill="#e028ff" opacity="0.69"/>
<circle cx="426.1" cy="576.7" r="1.44" fill="#3c08f0" opacity="0.85"/>
<circle cx="494.3" cy="599.2" r="1.36" fill="#e028ff" opacity="0.90"/>
<circle cx="229.6" cy="544.3" r="1.54" fill="#5818ff" opacity="0.74"/>
<circle cx="167.7" cy="513.3" r="1.21" fill="#d010f0" opacity="0.73"/>
<circle cx="591.2" cy="632.6" r="1.36" fill="#3c08f0" opacity="0.63"/>
<circle cx="648.9" cy="613.9" r="1.80" fill="#5818ff" opacity="0.93"/>
<circle cx="72.6" cy="524.6" r="1.69" fill="#3c08f0" opacity="0.81"/>
<circle cx="6.2" cy="542.7" r="1.09" fill="#3c08f0" opacity="0.96"/>
<circle cx="945.6" cy="520.5" r="1.44" fill="#4a10f8" opacity="0.65"/>
<circle cx="814.9" cy="564.4" r="1.80" fill="#6a18ff" opacity="0.84"/>
<circle cx="630.8" cy="615.8" r="0.95" fill="#6a18ff" opacity="0.71"/>
<circle cx="46.2" cy="520.4" r="1.01" fill="#c010e8" opacity="0.68"/>
<circle cx="515.5" cy="615.3" r="0.99" fill="#6a18ff" opacity="0.64"/>
<circle cx="202.5" cy="547.3" r="1.26" fill="#c010e8" opacity="1.00"/>
<circle cx="67.0" cy="541.0" r="1.76" fill="#c010e8" opacity="0.78"/>
<circle cx="590.3" cy="629.8" r="1.70" fill="#e848ff" opacity="0.91"/>
<circle cx="539.7" cy="611.5" r="1.51" fill="#4810f0" opacity="0.99"/>
<circle cx="68.0" cy="545.9" r="1.47" fill="#5818ff" opacity="0.93"/>
<circle cx="125.3" cy="507.7" r="1.11" fill="#4810f0" opacity="0.79"/>
<circle cx="538.0" cy="603.8" r="1.01" fill="#5818ff" opacity="0.82"/>
<circle cx="1098.8" cy="463.6" r="1.59" fill="#3c08f0" opacity="0.86"/>
<circle cx="226.5" cy="508.7" r="1.30" fill="#c010e8" opacity="0.65"/>
<circle cx="1039.5" cy="507.1" r="1.30" fill="#d010f0" opacity="0.88"/>
<circle cx="812.2" cy="542.9" r="0.98" fill="#6a18ff" opacity="0.75"/>
<circle cx="675.1" cy="608.2" r="0.93" fill="#d010f0" opacity="0.74"/>
<circle cx="776.0" cy="542.2" r="1.57" fill="#d010f0" opacity="0.87"/>
<circle cx="500.0" cy="619.8" r="1.51" fill="#4810f0" opacity="0.69"/>
<circle cx="705.0" cy="605.4" r="1.44" fill="#d010f0" opacity="0.87"/>
<circle cx="266.6" cy="532.6" r="0.99" fill="#3c08f0" opacity="0.76"/>
<circle cx="303.9" cy="517.6" r="0.83" fill="#6a18ff" opacity="0.96"/>
<circle cx="93.1" cy="514.7" r="1.19" fill="#3c08f0" opacity="1.00"/>
<circle cx="900.4" cy="558.2" r="1.19" fill="#c010e8" opacity="0.79"/>
<circle cx="718.6" cy="592.6" r="0.92" fill="#e848ff" opacity="0.77"/>
<circle cx="250.2" cy="535.4" r="1.84" fill="#5818ff" opacity="0.81"/>
<circle cx="643.6" cy="613.8" r="1.66" fill="#4a10f8" opacity="0.90"/>
<circle cx="87.7" cy="508.7" r="1.43" fill="#e848ff" opacity="0.91"/>
<circle cx="127.9" cy="517.6" r="0.92" fill="#4a10f8" opacity="0.64"/>
<circle cx="453.4" cy="592.2" r="1.03" fill="#4810f0" opacity="0.65"/>
<circle cx="625.3" cy="604.2" r="0.82" fill="#3c08f0" opacity="0.74"/>
<circle cx="268.0" cy="535.2" r="1.50" fill="#d010f0" opacity="0.78"/>
<circle cx="939.3" cy="474.3" r="1.50" fill="#e028ff" opacity="0.76"/>
<circle cx="674.5" cy="624.2" r="1.13" fill="#d010f0" opacity="0.89"/>
<circle cx="786.0" cy="535.9" r="1.23" fill="#d010f0" opacity="0.80"/>
<circle cx="1007.4" cy="507.8" r="1.29" fill="#e028ff" opacity="0.70"/>
<circle cx="119.0" cy="537.4" r="1.45" fill="#4810f0" opacity="0.98"/>
<circle cx="625.4" cy="616.8" r="1.19" fill="#3c08f0" opacity="0.69"/>
<circle cx="88.7" cy="535.4" r="1.42" fill="#3c08f0" opacity="0.78"/>
<circle cx="50.0" cy="545.7" r="1.60" fill="#e028ff" opacity="0.87"/>
<circle cx="786.6" cy="532.3" r="1.03" fill="#4810f0" opacity="0.90"/>
<circle cx="536.0" cy="598.4" r="0.71" fill="#5818ff" opacity="0.75"/>
<circle cx="658.8" cy="612.4" r="1.12" fill="#4810f0" opacity="0.62"/>
<circle cx="198.9" cy="501.3" r="1.51" fill="#c010e8" opacity="0.92"/>
<circle cx="1042.5" cy="510.7" r="1.33" fill="#d010f0" opacity="0.63"/>
<circle cx="1087.4" cy="531.4" r="1.84" fill="#3c08f0" opacity="0.62"/>
<circle cx="842.6" cy="517.8" r="1.28" fill="#3c08f0" opacity="0.86"/>
<circle cx="19.8" cy="548.3" r="1.17" fill="#6a18ff" opacity="0.73"/>
<circle cx="689.2" cy="619.3" r="1.89" fill="#d010f0" opacity="0.78"/>
<circle cx="829.2" cy="537.5" r="0.96" fill="#d010f0" opacity="0.93"/>
<circle cx="1056.8" cy="472.0" r="1.59" fill="#4a10f8" opacity="0.76"/>
<circle cx="761.9" cy="580.6" r="1.09" fill="#e028ff" opacity="0.94"/>
<circle cx="131.9" cy="542.3" r="1.55" fill="#e848ff" opacity="0.97"/>
<circle cx="217.3" cy="533.9" r="1.75" fill="#6a18ff" opacity="0.64"/>
<circle cx="819.0" cy="531.8" r="1.29" fill="#c010e8" opacity="0.93"/>
<circle cx="718.0" cy="603.4" r="1.26" fill="#6a18ff" opacity="0.74"/>
<circle cx="643.0" cy="609.2" r="1.79" fill="#e848ff" opacity="0.69"/>
<circle cx="285.0" cy="554.1" r="1.10" fill="#6a18ff" opacity="0.70"/>
<circle cx="231.8" cy="554.5" r="1.20" fill="#e848ff" opacity="0.96"/>
<circle cx="500.9" cy="605.2" r="1.00" fill="#e028ff" opacity="0.61"/>
<circle cx="770.3" cy="570.1" r="1.45" fill="#e028ff" opacity="0.78"/>
<circle cx="1072.6" cy="466.6" r="0.99" fill="#4810f0" opacity="0.90"/>
<circle cx="377.0" cy="553.4" r="0.93" fill="#c010e8" opacity="0.88"/>
<circle cx="399.1" cy="599.9" r="1.94" fill="#3c08f0" opacity="0.64"/>
<circle cx="392.4" cy="557.5" r="1.56" fill="#3c08f0" opacity="0.70"/>
<circle cx="141.0" cy="519.9" r="1.16" fill="#6a18ff" opacity="0.66"/>
<circle cx="949.2" cy="553.7" r="1.66" fill="#5818ff" opacity="0.81"/>
<circle cx="727.5" cy="615.1" r="1.20" fill="#3c08f0" opacity="0.86"/>
<circle cx="597.2" cy="614.2" r="1.53" fill="#e028ff" opacity="0.98"/>
<circle cx="556.3" cy="619.1" r="1.81" fill="#d010f0" opacity="0.72"/>
<circle cx="-2.0" cy="550.5" r="2.03" fill="#c010e8" opacity="0.72"/>
<circle cx="963.0" cy="467.5" r="0.74" fill="#4810f0" opacity="0.82"/>
<circle cx="479.8" cy="602.1" r="1.09" fill="#4810f0" opacity="0.80"/>
<circle cx="214.2" cy="533.4" r="1.10" fill="#4810f0" opacity="0.98"/>
<circle cx="992.4" cy="465.6" r="1.54" fill="#e028ff" opacity="0.88"/>
<circle cx="1037.2" cy="565.9" r="1.96" fill="#4a10f8" opacity="0.84"/>
<circle cx="878.0" cy="572.3" r="1.71" fill="#3c08f0" opacity="0.97"/>
<circle cx="90.9" cy="524.9" r="1.03" fill="#4a10f8" opacity="0.77"/>
<circle cx="160.5" cy="505.6" r="1.31" fill="#4a10f8" opacity="0.60"/>
<circle cx="70.4" cy="543.4" r="1.45" fill="#c010e8" opacity="0.76"/>
<circle cx="992.4" cy="477.2" r="0.83" fill="#3c08f0" opacity="0.81"/>
<circle cx="385.6" cy="582.4" r="1.18" fill="#e848ff" opacity="0.79"/>
<circle cx="864.9" cy="519.9" r="1.05" fill="#3c08f0" opacity="0.84"/>
<circle cx="632.4" cy="618.4" r="1.02" fill="#5818ff" opacity="0.87"/>
<circle cx="872.3" cy="534.1" r="1.01" fill="#5818ff" opacity="0.78"/>
<circle cx="44.9" cy="537.5" r="1.01" fill="#e848ff" opacity="1.00"/>
<circle cx="460.2" cy="598.0" r="1.22" fill="#5818ff" opacity="0.75"/>
<circle cx="313.6" cy="547.4" r="1.70" fill="#e848ff" opacity="0.61"/>
<circle cx="1054.2" cy="477.7" r="1.02" fill="#e028ff" opacity="0.95"/>
<circle cx="1061.1" cy="547.7" r="1.29" fill="#4a10f8" opacity="0.68"/>
<circle cx="145.6" cy="533.7" r="1.81" fill="#6a18ff" opacity="0.75"/>
<circle cx="801.8" cy="583.0" r="2.04" fill="#4a10f8" opacity="0.65"/>
<circle cx="351.6" cy="564.4" r="1.21" fill="#4810f0" opacity="0.78"/>
<circle cx="886.9" cy="507.3" r="0.81" fill="#4810f0" opacity="0.67"/>
<circle cx="1066.3" cy="508.7" r="1.09" fill="#4810f0" opacity="0.78"/>
<circle cx="664.4" cy="620.2" r="1.96" fill="#4a10f8" opacity="0.78"/>
<circle cx="643.7" cy="614.9" r="1.19" fill="#e848ff" opacity="0.89"/>
<circle cx="229.9" cy="501.1" r="1.15" fill="#6a18ff" opacity="0.61"/>
<circle cx="374.6" cy="554.8" r="1.63" fill="#4810f0" opacity="0.82"/>
<circle cx="758.4" cy="558.8" r="0.92" fill="#4810f0" opacity="0.77"/>
<circle cx="594.5" cy="614.1" r="1.20" fill="#5818ff" opacity="0.87"/>
<circle cx="685.3" cy="620.5" r="1.64" fill="#5818ff" opacity="0.97"/>
<circle cx="343.0" cy="552.2" r="1.31" fill="#3c08f0" opacity="0.71"/>
<circle cx="102.6" cy="529.5" r="1.47" fill="#4810f0" opacity="0.86"/>
<circle cx="756.0" cy="584.6" r="1.37" fill="#4810f0" opacity="0.78"/>
<circle cx="94.8" cy="519.5" r="1.79" fill="#e848ff" opacity="0.62"/>
<circle cx="306.1" cy="512.6" r="1.24" fill="#4a10f8" opacity="0.70"/>
<circle cx="997.1" cy="502.0" r="1.77" fill="#6a18ff" opacity="0.66"/>
<circle cx="345.8" cy="564.6" r="1.46" fill="#5818ff" opacity="0.88"/>
<circle cx="490.2" cy="592.8" r="1.04" fill="#3c08f0" opacity="0.92"/>
<circle cx="884.4" cy="497.9" r="1.50" fill="#e028ff" opacity="0.62"/>
<circle cx="892.7" cy="566.9" r="1.75" fill="#6a18ff" opacity="0.97"/>
<circle cx="710.1" cy="596.4" r="1.32" fill="#c010e8" opacity="0.95"/>
<circle cx="339.8" cy="529.2" r="1.65" fill="#5818ff" opacity="0.90"/>
<circle cx="737.7" cy="584.1" r="1.25" fill="#4a10f8" opacity="0.83"/>
<circle cx="1042.2" cy="509.5" r="1.31" fill="#e028ff" opacity="0.80"/>
<circle cx="1081.9" cy="449.9" r="1.34" fill="#e028ff" opacity="0.81"/>
<circle cx="345.7" cy="540.0" r="1.42" fill="#3c08f0" opacity="0.73"/>
<circle cx="55.3" cy="520.5" r="1.19" fill="#3c08f0" opacity="0.99"/>
<circle cx="854.3" cy="525.8" r="1.27" fill="#d010f0" opacity="0.79"/>
<circle cx="821.5" cy="538.3" r="0.97" fill="#5818ff" opacity="0.77"/>
<circle cx="437.1" cy="576.0" r="1.61" fill="#4810f0" opacity="0.77"/>
<circle cx="446.5" cy="571.5" r="1.21" fill="#4a10f8" opacity="0.77"/>
<circle cx="523.3" cy="607.7" r="1.71" fill="#3c08f0" opacity="0.83"/>
<circle cx="460.8" cy="567.0" r="0.78" fill="#d010f0" opacity="0.85"/>
<circle cx="198.9" cy="549.6" r="2.02" fill="#d010f0" opacity="0.88"/>
<circle cx="501.9" cy="600.1" r="0.98" fill="#3c08f0" opacity="0.96"/>
<circle cx="57.3" cy="516.7" r="1.11" fill="#e848ff" opacity="0.80"/>
<circle cx="866.0" cy="517.9" r="1.53" fill="#e848ff" opacity="0.62"/>
<circle cx="783.7" cy="538.4" r="0.76" fill="#e848ff" opacity="0.89"/>
<circle cx="682.2" cy="605.0" r="1.00" fill="#4810f0" opacity="0.95"/>
<circle cx="1023.0" cy="515.8" r="1.74" fill="#4810f0" opacity="0.76"/>
<circle cx="437.7" cy="600.7" r="1.36" fill="#3c08f0" opacity="0.78"/>
<circle cx="401.0" cy="572.1" r="1.45" fill="#3c08f0" opacity="0.85"/>
<circle cx="93.8" cy="534.5" r="1.61" fill="#6a18ff" opacity="0.87"/>
<circle cx="555.0" cy="632.6" r="1.15" fill="#e028ff" opacity="0.89"/>
<circle cx="1049.3" cy="510.5" r="1.60" fill="#3c08f0" opacity="0.69"/>
<circle cx="850.1" cy="545.1" r="1.58" fill="#e848ff" opacity="0.74"/>
<circle cx="468.6" cy="575.7" r="1.07" fill="#3c08f0" opacity="1.00"/>
<circle cx="213.3" cy="552.5" r="1.89" fill="#6a18ff" opacity="0.63"/>
<circle cx="1080.2" cy="516.4" r="1.34" fill="#e848ff" opacity="0.70"/>
<circle cx="777.8" cy="554.3" r="1.07" fill="#3c08f0" opacity="0.92"/>
<circle cx="560.0" cy="603.2" r="1.39" fill="#6a18ff" opacity="0.73"/>
<circle cx="1018.9" cy="534.3" r="1.89" fill="#5818ff" opacity="0.64"/>
<circle cx="48.5" cy="531.4" r="1.40" fill="#4a10f8" opacity="0.98"/>
<circle cx="386.4" cy="588.1" r="1.68" fill="#5818ff" opacity="0.75"/>
<circle cx="298.7" cy="530.8" r="1.33" fill="#c010e8" opacity="0.76"/>
<circle cx="444.1" cy="593.0" r="1.63" fill="#d010f0" opacity="0.65"/>
<circle cx="90.1" cy="533.5" r="1.74" fill="#e848ff" opacity="0.62"/>
<circle cx="641.5" cy="617.7" r="1.57" fill="#c010e8" opacity="0.73"/>
<circle cx="970.0" cy="482.4" r="1.21" fill="#6a18ff" opacity="0.97"/>
<circle cx="869.9" cy="512.2" r="1.30" fill="#3c08f0" opacity="0.66"/>
<circle cx="1065.3" cy="466.9" r="1.23" fill="#5818ff" opacity="0.97"/>
<circle cx="746.5" cy="566.1" r="0.95" fill="#5818ff" opacity="0.79"/>
<circle cx="60.6" cy="531.9" r="1.52" fill="#4a10f8" opacity="0.91"/>
<circle cx="750.1" cy="603.8" r="1.70" fill="#6a18ff" opacity="0.84"/>
<circle cx="952.1" cy="469.1" r="0.81" fill="#e028ff" opacity="0.82"/>
<circle cx="43.6" cy="524.6" r="1.45" fill="#d010f0" opacity="0.74"/>
<circle cx="394.6" cy="562.9" r="1.06" fill="#d010f0" opacity="0.75"/>
<circle cx="457.3" cy="574.2" r="0.85" fill="#5818ff" opacity="0.72"/>
<circle cx="979.7" cy="537.8" r="1.62" fill="#4810f0" opacity="0.70"/>
<circle cx="901.6" cy="506.3" r="1.37" fill="#5818ff" opacity="0.71"/>
<circle cx="323.8" cy="538.8" r="1.45" fill="#e848ff" opacity="0.71"/>
<circle cx="207.3" cy="546.7" r="1.74" fill="#6a18ff" opacity="0.64"/>
<circle cx="551.3" cy="606.8" r="1.31" fill="#5818ff" opacity="0.63"/>
<circle cx="269.1" cy="569.0" r="1.46" fill="#4810f0" opacity="0.74"/>
<circle cx="1055.2" cy="493.6" r="1.04" fill="#6a18ff" opacity="0.89"/>
<circle cx="828.4" cy="550.0" r="1.42" fill="#4a10f8" opacity="0.83"/>
<circle cx="187.3" cy="517.1" r="1.71" fill="#5818ff" opacity="0.97"/>
<circle cx="719.1" cy="620.8" r="1.64" fill="#e028ff" opacity="0.84"/>
<circle cx="264.5" cy="522.4" r="0.98" fill="#4810f0" opacity="0.64"/>
<circle cx="701.9" cy="606.5" r="1.48" fill="#d010f0" opacity="0.89"/>
<circle cx="789.3" cy="568.7" r="1.65" fill="#6a18ff" opacity="0.86"/>
<circle cx="1087.7" cy="531.7" r="1.37" fill="#d010f0" opacity="0.97"/>
<circle cx="43.5" cy="533.2" r="1.30" fill="#3c08f0" opacity="0.76"/>
<circle cx="714.1" cy="604.9" r="1.41" fill="#e028ff" opacity="0.87"/>
<circle cx="68.1" cy="515.7" r="0.98" fill="#d010f0" opacity="0.99"/>
<circle cx="738.3" cy="592.5" r="1.43" fill="#e848ff" opacity="0.84"/>
<circle cx="130.4" cy="514.1" r="0.90" fill="#4810f0" opacity="0.75"/>
<circle cx="361.3" cy="536.9" r="0.91" fill="#6a18ff" opacity="0.86"/>
<circle cx="710.1" cy="609.7" r="1.39" fill="#4a10f8" opacity="0.63"/>
<circle cx="954.8" cy="467.7" r="1.47" fill="#5818ff" opacity="0.90"/>
<circle cx="796.8" cy="533.9" r="1.46" fill="#e028ff" opacity="0.85"/>
<circle cx="989.8" cy="477.7" r="1.43" fill="#c010e8" opacity="0.84"/>
<circle cx="1012.1" cy="452.6" r="0.81" fill="#5818ff" opacity="0.78"/>
<circle cx="480.1" cy="580.5" r="1.47" fill="#6a18ff" opacity="0.66"/>
<circle cx="625.6" cy="614.8" r="1.27" fill="#4a10f8" opacity="1.00"/>
<circle cx="26.2" cy="547.4" r="1.80" fill="#3c08f0" opacity="0.82"/>
<circle cx="1038.3" cy="451.0" r="1.09" fill="#3c08f0" opacity="0.97"/>
<circle cx="114.5" cy="529.1" r="1.22" fill="#4a10f8" opacity="0.88"/>
<circle cx="1021.5" cy="465.6" r="1.12" fill="#3c08f0" opacity="0.65"/>
<circle cx="1082.5" cy="520.7" r="1.59" fill="#4810f0" opacity="0.96"/>
<circle cx="302.9" cy="520.2" r="1.22" fill="#e028ff" opacity="0.70"/>
<circle cx="546.3" cy="607.2" r="1.12" fill="#5818ff" opacity="0.73"/>
<circle cx="668.6" cy="600.5" r="1.17" fill="#4a10f8" opacity="0.71"/>
<circle cx="400.8" cy="588.6" r="1.20" fill="#3c08f0" opacity="0.89"/>
<circle cx="122.8" cy="535.0" r="1.58" fill="#6a18ff" opacity="1.00"/>
<circle cx="702.8" cy="600.4" r="1.15" fill="#6a18ff" opacity="0.97"/>
<circle cx="462.2" cy="579.2" r="1.18" fill="#e848ff" opacity="0.82"/>
<circle cx="681.8" cy="619.3" r="1.26" fill="#4a10f8" opacity="0.77"/>
<circle cx="932.5" cy="512.1" r="1.12" fill="#3c08f0" opacity="0.99"/>
<circle cx="59.7" cy="519.6" r="1.47" fill="#4810f0" opacity="0.78"/>
<circle cx="923.5" cy="565.5" r="1.22" fill="#6a18ff" opacity="0.69"/>
<circle cx="28.1" cy="534.3" r="0.87" fill="#3c08f0" opacity="0.97"/>
<circle cx="408.8" cy="587.3" r="1.33" fill="#4810f0" opacity="0.70"/>
<circle cx="54.7" cy="530.7" r="1.20" fill="#5818ff" opacity="0.60"/>
<circle cx="523.8" cy="609.0" r="1.34" fill="#4810f0" opacity="0.71"/>
<circle cx="593.2" cy="612.0" r="1.71" fill="#4a10f8" opacity="0.78"/>
<circle cx="556.4" cy="628.9" r="1.44" fill="#6a18ff" opacity="0.97"/>
<circle cx="752.2" cy="596.6" r="1.75" fill="#5818ff" opacity="0.78"/>
<circle cx="626.4" cy="604.8" r="0.94" fill="#c010e8" opacity="0.72"/>
<circle cx="421.0" cy="600.3" r="1.30" fill="#e028ff" opacity="0.65"/>
<circle cx="983.3" cy="535.3" r="1.11" fill="#5818ff" opacity="0.73"/>
<circle cx="198.3" cy="549.4" r="1.82" fill="#d010f0" opacity="0.64"/>
<circle cx="36.3" cy="540.5" r="1.42" fill="#5818ff" opacity="0.93"/>
<circle cx="1006.5" cy="465.7" r="1.14" fill="#4a10f8" opacity="0.77"/>
<circle cx="169.6" cy="517.0" r="1.06" fill="#e848ff" opacity="0.96"/>
<circle cx="877.4" cy="493.2" r="1.20" fill="#3c08f0" opacity="0.70"/>
<circle cx="607.6" cy="610.7" r="0.98" fill="#5818ff" opacity="0.73"/>
<circle cx="461.4" cy="596.3" r="1.13" fill="#e028ff" opacity="0.70"/>
<circle cx="462.4" cy="601.2" r="1.55" fill="#d010f0" opacity="0.67"/>
<circle cx="1076.8" cy="502.9" r="1.51" fill="#4810f0" opacity="0.92"/>
<circle cx="863.4" cy="531.9" r="1.10" fill="#6a18ff" opacity="0.91"/>
<circle cx="131.9" cy="508.0" r="1.04" fill="#5818ff" opacity="0.94"/>
<circle cx="423.5" cy="587.2" r="1.22" fill="#d010f0" opacity="0.99"/>
<circle cx="187.8" cy="539.8" r="1.78" fill="#4810f0" opacity="0.96"/>
<circle cx="88.2" cy="511.9" r="1.48" fill="#d010f0" opacity="0.74"/>
<circle cx="520.5" cy="603.2" r="1.02" fill="#4a10f8" opacity="0.68"/>
<circle cx="627.3" cy="625.6" r="1.52" fill="#e848ff" opacity="0.63"/>
<circle cx="874.3" cy="541.1" r="1.51" fill="#d010f0" opacity="0.81"/>
<circle cx="481.5" cy="588.1" r="0.92" fill="#4810f0" opacity="0.65"/>
<circle cx="374.4" cy="575.8" r="1.44" fill="#e028ff" opacity="0.72"/>
<circle cx="346.8" cy="543.8" r="1.08" fill="#e848ff" opacity="0.86"/>
<circle cx="520.0" cy="620.8" r="1.55" fill="#e848ff" opacity="0.64"/>
<circle cx="156.0" cy="500.1" r="0.86" fill="#3c08f0" opacity="0.65"/>
<circle cx="150.5" cy="503.0" r="1.31" fill="#c010e8" opacity="0.92"/>
<circle cx="-3.7" cy="542.1" r="1.03" fill="#4a10f8" opacity="0.74"/>
<circle cx="714.3" cy="612.6" r="1.30" fill="#6a18ff" opacity="0.78"/>
<circle cx="280.6" cy="549.5" r="1.11" fill="#e028ff" opacity="0.83"/>
<circle cx="593.6" cy="618.3" r="1.50" fill="#6a18ff" opacity="0.93"/>
<circle cx="1079.4" cy="443.8" r="1.44" fill="#4810f0" opacity="0.68"/>
<circle cx="128.7" cy="508.9" r="1.58" fill="#5818ff" opacity="0.96"/>
<circle cx="95.8" cy="519.6" r="1.57" fill="#3c08f0" opacity="0.77"/>
<circle cx="502.1" cy="602.7" r="1.52" fill="#3c08f0" opacity="0.99"/>
<circle cx="769.5" cy="546.4" r="1.23" fill="#4a10f8" opacity="0.82"/>
<circle cx="988.4" cy="525.7" r="1.08" fill="#d010f0" opacity="0.72"/>
<circle cx="147.2" cy="526.9" r="1.72" fill="#e028ff" opacity="0.67"/>
<circle cx="373.7" cy="563.8" r="1.62" fill="#5818ff" opacity="0.68"/>
<circle cx="345.1" cy="568.3" r="1.73" fill="#e848ff" opacity="0.80"/>
<circle cx="93.9" cy="513.6" r="0.79" fill="#3c08f0" opacity="0.98"/>
<circle cx="1036.2" cy="455.6" r="1.65" fill="#e028ff" opacity="0.65"/>
<circle cx="331.0" cy="544.0" r="1.07" fill="#4810f0" opacity="0.61"/>
<circle cx="323.3" cy="570.4" r="1.87" fill="#d010f0" opacity="0.84"/>
<circle cx="904.8" cy="481.1" r="1.03" fill="#d010f0" opacity="0.91"/>
<circle cx="336.1" cy="537.6" r="1.07" fill="#4810f0" opacity="0.72"/>
<circle cx="13.7" cy="542.5" r="1.35" fill="#d010f0" opacity="0.60"/>
<circle cx="836.7" cy="526.7" r="0.97" fill="#4810f0" opacity="0.61"/>
<circle cx="970.6" cy="491.0" r="0.87" fill="#e848ff" opacity="0.64"/>
<circle cx="423.7" cy="570.5" r="1.16" fill="#5818ff" opacity="0.87"/>
<circle cx="507.4" cy="606.3" r="1.67" fill="#4a10f8" opacity="0.93"/>
<circle cx="912.3" cy="519.1" r="1.44" fill="#4810f0" opacity="0.79"/>
<circle cx="411.7" cy="603.5" r="1.30" fill="#6a18ff" opacity="0.64"/>
<circle cx="698.5" cy="622.5" r="1.48" fill="#e848ff" opacity="0.95"/>
<circle cx="857.8" cy="524.0" r="1.46" fill="#d010f0" opacity="0.61"/>
<circle cx="527.3" cy="611.6" r="0.93" fill="#6a18ff" opacity="0.65"/>
<circle cx="489.6" cy="591.8" r="1.11" fill="#6a18ff" opacity="0.81"/>
<circle cx="142.8" cy="511.5" r="0.84" fill="#4810f0" opacity="0.69"/>
<circle cx="266.3" cy="530.9" r="1.21" fill="#3c08f0" opacity="0.86"/>
<circle cx="138.8" cy="539.1" r="2.05" fill="#4a10f8" opacity="0.86"/>
<circle cx="105.7" cy="512.6" r="1.23" fill="#3c08f0" opacity="0.99"/>
<circle cx="790.4" cy="555.2" r="1.58" fill="#4810f0" opacity="0.91"/>
<circle cx="1055.9" cy="502.6" r="1.09" fill="#e028ff" opacity="0.67"/>
<circle cx="821.0" cy="524.7" r="0.77" fill="#6a18ff" opacity="0.94"/>
<circle cx="906.5" cy="528.7" r="1.71" fill="#4a10f8" opacity="0.76"/>
<circle cx="563.2" cy="628.1" r="1.10" fill="#6a18ff" opacity="0.94"/>
<circle cx="216.3" cy="511.8" r="1.71" fill="#6a18ff" opacity="0.89"/>
<circle cx="885.9" cy="522.0" r="1.08" fill="#4810f0" opacity="0.89"/>
<circle cx="168.5" cy="548.7" r="1.32" fill="#4810f0" opacity="0.97"/>
<circle cx="746.1" cy="561.7" r="1.49" fill="#3c08f0" opacity="0.85"/>
<circle cx="388.2" cy="568.5" r="0.89" fill="#4a10f8" opacity="0.87"/>
<circle cx="667.9" cy="622.0" r="1.95" fill="#6a18ff" opacity="0.78"/>
<circle cx="11.2" cy="540.1" r="1.53" fill="#d010f0" opacity="0.86"/>
<circle cx="354.3" cy="552.3" r="1.35" fill="#d010f0" opacity="0.91"/>
<circle cx="1094.8" cy="479.8" r="0.91" fill="#c010e8" opacity="0.62"/>
<circle cx="627.5" cy="607.9" r="0.88" fill="#4810f0" opacity="0.72"/>
<circle cx="433.5" cy="562.7" r="1.46" fill="#5818ff" opacity="0.83"/>
<circle cx="329.0" cy="532.1" r="1.30" fill="#3c08f0" opacity="0.74"/>
<circle cx="943.8" cy="522.6" r="1.34" fill="#4810f0" opacity="0.65"/>
<circle cx="339.8" cy="539.5" r="1.17" fill="#d010f0" opacity="0.94"/>
<circle cx="1093.1" cy="525.1" r="1.63" fill="#5818ff" opacity="0.75"/>
<circle cx="341.9" cy="585.4" r="1.23" fill="#d010f0" opacity="0.89"/>
<circle cx="20.3" cy="534.5" r="1.11" fill="#4810f0" opacity="1.00"/>
<circle cx="981.8" cy="559.1" r="1.38" fill="#4a10f8" opacity="0.84"/>
<circle cx="894.4" cy="516.5" r="1.11" fill="#4810f0" opacity="0.60"/>
<circle cx="875.4" cy="496.5" r="1.52" fill="#6a18ff" opacity="0.94"/>
<circle cx="544.8" cy="615.6" r="0.89" fill="#4a10f8" opacity="0.73"/>
<circle cx="190.7" cy="518.7" r="1.52" fill="#5818ff" opacity="0.77"/>
<circle cx="578.7" cy="609.7" r="1.12" fill="#3c08f0" opacity="0.68"/>
<circle cx="1015.0" cy="462.8" r="0.81" fill="#4810f0" opacity="0.80"/>
<circle cx="519.5" cy="625.2" r="1.50" fill="#3c08f0" opacity="0.69"/>
<circle cx="240.5" cy="505.8" r="0.78" fill="#6a18ff" opacity="0.77"/>
<circle cx="603.3" cy="628.1" r="1.52" fill="#3c08f0" opacity="0.84"/>
<circle cx="965.5" cy="468.4" r="1.35" fill="#e028ff" opacity="0.70"/>
<circle cx="168.2" cy="548.3" r="1.67" fill="#c010e8" opacity="0.94"/>
<circle cx="234.9" cy="505.2" r="1.37" fill="#c010e8" opacity="0.95"/>
<circle cx="957.2" cy="469.2" r="1.48" fill="#c010e8" opacity="0.81"/>
<circle cx="57.3" cy="527.4" r="1.61" fill="#d010f0" opacity="0.70"/>
<circle cx="431.5" cy="597.8" r="1.56" fill="#5818ff" opacity="0.88"/>
<circle cx="243.1" cy="511.4" r="1.21" fill="#d010f0" opacity="0.80"/>
<circle cx="376.7" cy="587.9" r="1.69" fill="#6a18ff" opacity="0.99"/>
<circle cx="257.2" cy="507.2" r="1.12" fill="#4a10f8" opacity="0.70"/>
<circle cx="517.6" cy="609.6" r="1.21" fill="#4a10f8" opacity="0.65"/>
<circle cx="143.4" cy="521.1" r="1.55" fill="#4810f0" opacity="0.65"/>
<circle cx="332.5" cy="524.2" r="1.53" fill="#6a18ff" opacity="0.95"/>
<circle cx="202.7" cy="520.6" r="1.57" fill="#3c08f0" opacity="0.74"/>
<circle cx="57.5" cy="532.1" r="1.32" fill="#3c08f0" opacity="0.90"/>
<circle cx="974.6" cy="558.8" r="1.40" fill="#4a10f8" opacity="1.00"/>
<circle cx="981.0" cy="512.6" r="1.44" fill="#d010f0" opacity="0.90"/>
<circle cx="527.7" cy="604.1" r="0.85" fill="#4810f0" opacity="0.78"/>
<circle cx="56.1" cy="538.1" r="1.21" fill="#4a10f8" opacity="0.65"/>
<circle cx="559.6" cy="621.9" r="1.10" fill="#d010f0" opacity="0.84"/>
<circle cx="957.3" cy="517.0" r="1.70" fill="#4810f0" opacity="0.85"/>
<circle cx="48.3" cy="525.8" r="1.16" fill="#5818ff" opacity="0.84"/>
<circle cx="283.0" cy="508.4" r="1.55" fill="#e028ff" opacity="0.68"/>
<circle cx="452.4" cy="568.1" r="1.47" fill="#4a10f8" opacity="0.74"/>
<circle cx="376.5" cy="554.5" r="1.24" fill="#4810f0" opacity="0.72"/>
<circle cx="838.1" cy="535.8" r="1.58" fill="#4810f0" opacity="0.74"/>
<circle cx="1054.1" cy="501.3" r="1.24" fill="#d010f0" opacity="0.83"/>
<circle cx="270.0" cy="513.5" r="0.89" fill="#6a18ff" opacity="0.71"/>
<circle cx="398.4" cy="601.4" r="2.04" fill="#5818ff" opacity="0.85"/>
<circle cx="641.2" cy="604.5" r="1.17" fill="#5818ff" opacity="1.00"/>
<circle cx="430.7" cy="568.5" r="0.98" fill="#e028ff" opacity="0.94"/>
<circle cx="602.2" cy="614.3" r="1.47" fill="#5818ff" opacity="0.82"/>
<circle cx="608.5" cy="610.4" r="1.59" fill="#3c08f0" opacity="0.61"/>
<circle cx="435.1" cy="603.9" r="1.58" fill="#4810f0" opacity="0.63"/>
<circle cx="248.0" cy="517.6" r="0.88" fill="#5818ff" opacity="0.83"/>
<circle cx="754.7" cy="591.9" r="1.79" fill="#5818ff" opacity="0.72"/>
<circle cx="510.0" cy="616.1" r="1.55" fill="#4810f0" opacity="0.71"/>
<circle cx="832.2" cy="533.0" r="1.05" fill="#6a18ff" opacity="0.89"/>
<circle cx="793.3" cy="544.1" r="1.21" fill="#4810f0" opacity="0.66"/>
<circle cx="482.0" cy="581.7" r="1.02" fill="#4810f0" opacity="0.69"/>
<circle cx="845.7" cy="574.5" r="1.80" fill="#c010e8" opacity="0.64"/>
<circle cx="744.2" cy="594.3" r="1.41" fill="#6a18ff" opacity="0.90"/>
<circle cx="429.7" cy="585.7" r="1.12" fill="#5818ff" opacity="0.67"/>
<circle cx="568.9" cy="635.3" r="1.28" fill="#4a10f8" opacity="0.82"/>
<circle cx="216.9" cy="554.1" r="2.02" fill="#3c08f0" opacity="0.78"/>
<circle cx="960.4" cy="474.3" r="1.22" fill="#4810f0" opacity="0.60"/>
<circle cx="621.6" cy="615.6" r="1.49" fill="#d010f0" opacity="0.97"/>
<circle cx="259.0" cy="530.6" r="1.28" fill="#5818ff" opacity="0.78"/>
<circle cx="463.4" cy="592.7" r="1.40" fill="#5818ff" opacity="0.69"/>
<circle cx="1079.3" cy="494.9" r="1.24" fill="#e848ff" opacity="0.80"/>
<circle cx="1097.2" cy="496.4" r="1.87" fill="#6a18ff" opacity="0.83"/>
<circle cx="575.4" cy="617.5" r="1.45" fill="#5818ff" opacity="0.64"/>
<circle cx="1091.5" cy="430.6" r="0.95" fill="#e028ff" opacity="0.97"/>
<circle cx="111.9" cy="522.5" r="1.76" fill="#d010f0" opacity="0.76"/>
<circle cx="521.0" cy="620.3" r="1.31" fill="#d010f0" opacity="0.87"/>
<circle cx="261.4" cy="523.4" r="1.28" fill="#e848ff" opacity="0.79"/>
<circle cx="217.3" cy="523.7" r="1.44" fill="#e028ff" opacity="0.62"/>
<circle cx="362.2" cy="553.0" r="0.96" fill="#c010e8" opacity="0.90"/>
<circle cx="1100.1" cy="462.9" r="1.29" fill="#d010f0" opacity="0.90"/>
<circle cx="1095.1" cy="535.5" r="1.21" fill="#d010f0" opacity="0.68"/>
<circle cx="287.3" cy="557.5" r="1.68" fill="#4810f0" opacity="0.69"/>
<circle cx="791.2" cy="538.5" r="1.45" fill="#4810f0" opacity="0.70"/>
<circle cx="860.9" cy="510.2" r="0.90" fill="#3c08f0" opacity="0.60"/>
<circle cx="406.7" cy="602.0" r="1.81" fill="#3c08f0" opacity="0.91"/>
<circle cx="541.4" cy="616.8" r="1.70" fill="#3c08f0" opacity="0.63"/>
<circle cx="924.5" cy="555.8" r="1.31" fill="#e848ff" opacity="0.72"/>
<circle cx="915.3" cy="507.1" r="0.91" fill="#e848ff" opacity="0.89"/>
<circle cx="595.9" cy="614.8" r="1.26" fill="#6a18ff" opacity="0.80"/>
<circle cx="275.8" cy="526.7" r="1.48" fill="#d010f0" opacity="0.76"/>
<circle cx="933.6" cy="539.8" r="1.18" fill="#3c08f0" opacity="0.75"/>
<circle cx="9.1" cy="545.0" r="1.73" fill="#e028ff" opacity="0.61"/>
<circle cx="554.9" cy="627.5" r="1.51" fill="#e028ff" opacity="0.81"/>
<circle cx="200.2" cy="500.3" r="1.26" fill="#4810f0" opacity="0.83"/>
<circle cx="526.2" cy="615.9" r="1.64" fill="#5818ff" opacity="0.99"/>
<circle cx="913.9" cy="544.9" r="1.29" fill="#c010e8" opacity="0.70"/>
<circle cx="674.7" cy="609.8" r="1.49" fill="#5818ff" opacity="0.67"/>
<circle cx="996.3" cy="459.2" r="1.16" fill="#d010f0" opacity="0.91"/>
<circle cx="893.0" cy="546.6" r="1.91" fill="#6a18ff" opacity="0.81"/>
<circle cx="309.5" cy="520.9" r="1.50" fill="#3c08f0" opacity="0.60"/>
<circle cx="303.9" cy="539.8" r="1.76" fill="#d010f0" opacity="0.92"/>
<circle cx="305.2" cy="511.5" r="0.97" fill="#4810f0" opacity="0.93"/>
<circle cx="920.4" cy="482.6" r="1.22" fill="#e848ff" opacity="0.69"/>
<circle cx="364.8" cy="573.5" r="1.45" fill="#4810f0" opacity="0.84"/>
<circle cx="724.4" cy="599.7" r="1.40" fill="#d010f0" opacity="0.83"/>
<circle cx="964.6" cy="476.6" r="1.30" fill="#6a18ff" opacity="0.62"/>
<circle cx="1043.2" cy="492.1" r="1.09" fill="#5818ff" opacity="0.94"/>
<circle cx="606.9" cy="606.3" r="1.11" fill="#5818ff" opacity="0.90"/>
<circle cx="206.8" cy="515.7" r="1.44" fill="#6a18ff" opacity="0.93"/>
<circle cx="150.5" cy="512.8" r="1.75" fill="#5818ff" opacity="0.68"/>
<circle cx="475.7" cy="593.5" r="0.95" fill="#c010e8" opacity="0.75"/>
<circle cx="415.2" cy="571.0" r="1.19" fill="#c010e8" opacity="0.71"/>
<circle cx="191.0" cy="545.2" r="1.34" fill="#e848ff" opacity="0.94"/>
<circle cx="1009.1" cy="553.6" r="1.22" fill="#c010e8" opacity="0.76"/>
<circle cx="394.0" cy="602.0" r="1.62" fill="#4a10f8" opacity="0.79"/>
<circle cx="929.6" cy="529.8" r="1.20" fill="#6a18ff" opacity="0.83"/>
<circle cx="823.2" cy="537.3" r="1.27" fill="#3c08f0" opacity="0.74"/>
<circle cx="264.5" cy="535.0" r="1.01" fill="#e848ff" opacity="0.93"/>
<circle cx="787.1" cy="571.1" r="1.67" fill="#6a18ff" opacity="0.72"/>
<circle cx="197.3" cy="509.4" r="1.28" fill="#5818ff" opacity="0.87"/>
<circle cx="1018.3" cy="498.3" r="1.39" fill="#5818ff" opacity="0.72"/>
<circle cx="866.3" cy="531.1" r="0.95" fill="#6a18ff" opacity="0.68"/>
<circle cx="1063.5" cy="509.2" r="1.48" fill="#4a10f8" opacity="0.78"/>
<circle cx="934.9" cy="486.2" r="1.04" fill="#d010f0" opacity="0.67"/>
<circle cx="707.6" cy="609.0" r="1.50" fill="#c010e8" opacity="0.83"/>
<circle cx="878.8" cy="517.7" r="1.15" fill="#3c08f0" opacity="0.76"/>
<circle cx="-2.9" cy="539.8" r="0.75" fill="#3c08f0" opacity="0.82"/>
<circle cx="1039.5" cy="498.9" r="1.33" fill="#6a18ff" opacity="0.64"/>
<circle cx="997.3" cy="497.5" r="1.50" fill="#6a18ff" opacity="0.77"/>
<circle cx="579.0" cy="605.7" r="0.86" fill="#4810f0" opacity="0.73"/>
<circle cx="565.5" cy="622.3" r="1.60" fill="#6a18ff" opacity="0.61"/>
<circle cx="515.3" cy="600.1" r="1.58" fill="#6a18ff" opacity="0.63"/>
<circle cx="727.2" cy="614.0" r="1.71" fill="#4810f0" opacity="0.62"/>
<circle cx="989.6" cy="488.5" r="1.69" fill="#6a18ff" opacity="0.86"/>
<circle cx="195.1" cy="545.3" r="1.34" fill="#6a18ff" opacity="0.68"/>
<circle cx="502.8" cy="607.3" r="1.73" fill="#e028ff" opacity="0.70"/>
<circle cx="1051.4" cy="479.6" r="1.29" fill="#4810f0" opacity="0.79"/>
<circle cx="824.2" cy="564.7" r="1.71" fill="#4810f0" opacity="0.62"/>
<circle cx="198.7" cy="510.5" r="0.85" fill="#5818ff" opacity="0.85"/>
<circle cx="78.3" cy="519.7" r="0.88" fill="#5818ff" opacity="0.70"/>
<circle cx="848.5" cy="567.0" r="1.47" fill="#6a18ff" opacity="0.90"/>
<circle cx="5.9" cy="535.3" r="0.79" fill="#e028ff" opacity="0.90"/>
<circle cx="292.5" cy="518.6" r="1.49" fill="#4a10f8" opacity="0.83"/>
<circle cx="89.4" cy="531.6" r="1.73" fill="#4a10f8" opacity="0.78"/>
<circle cx="490.1" cy="601.7" r="1.70" fill="#5818ff" opacity="0.71"/>
<circle cx="990.0" cy="550.4" r="1.67" fill="#4810f0" opacity="0.98"/>
<circle cx="579.0" cy="609.9" r="1.67" fill="#5818ff" opacity="0.94"/>
<circle cx="1073.0" cy="546.6" r="2.00" fill="#5818ff" opacity="0.91"/>
<circle cx="65.2" cy="521.2" r="1.23" fill="#e028ff" opacity="0.85"/>
<circle cx="393.7" cy="572.7" r="1.44" fill="#4a10f8" opacity="0.80"/>
<circle cx="482.1" cy="586.4" r="0.84" fill="#4810f0" opacity="0.79"/>
<circle cx="402.2" cy="580.7" r="1.51" fill="#e028ff" opacity="0.98"/>
<circle cx="556.4" cy="612.5" r="1.42" fill="#3c08f0" opacity="0.92"/>
<circle cx="393.2" cy="562.9" r="0.96" fill="#e848ff" opacity="0.90"/>
<circle cx="584.3" cy="627.9" r="1.55" fill="#d010f0" opacity="0.70"/>
<circle cx="417.5" cy="569.2" r="1.11" fill="#5818ff" opacity="0.78"/>
<circle cx="1070.0" cy="435.1" r="1.15" fill="#4a10f8" opacity="0.98"/>
<circle cx="1093.8" cy="430.4" r="1.39" fill="#5818ff" opacity="0.98"/>
<circle cx="1011.7" cy="502.7" r="1.02" fill="#4810f0" opacity="0.63"/>
<circle cx="233.6" cy="528.2" r="1.43" fill="#6a18ff" opacity="0.72"/>
<circle cx="1054.2" cy="436.0" r="1.40" fill="#d010f0" opacity="0.79"/>
<circle cx="462.5" cy="576.5" r="0.92" fill="#4810f0" opacity="0.88"/>
<circle cx="407.9" cy="582.7" r="1.71" fill="#e848ff" opacity="0.85"/>
<circle cx="59.6" cy="530.2" r="1.09" fill="#3c08f0" opacity="0.63"/>
<circle cx="148.2" cy="521.6" r="1.41" fill="#c010e8" opacity="0.76"/>
<circle cx="1004.2" cy="499.7" r="1.27" fill="#4a10f8" opacity="0.64"/>
<circle cx="1007.7" cy="470.8" r="1.15" fill="#e848ff" opacity="0.67"/>
<circle cx="673.7" cy="612.7" r="1.48" fill="#4a10f8" opacity="0.84"/>
<circle cx="260.7" cy="505.6" r="1.33" fill="#5818ff" opacity="0.92"/>
<circle cx="750.9" cy="579.2" r="1.80" fill="#6a18ff" opacity="0.63"/>
<circle cx="58.8" cy="532.3" r="1.04" fill="#3c08f0" opacity="0.66"/>
<circle cx="1067.2" cy="507.0" r="1.31" fill="#d010f0" opacity="0.93"/>
<circle cx="528.1" cy="602.1" r="1.25" fill="#6a18ff" opacity="0.95"/>
<circle cx="549.5" cy="625.2" r="1.78" fill="#e028ff" opacity="0.74"/>
<circle cx="187.2" cy="518.5" r="0.98" fill="#3c08f0" opacity="0.79"/>
<circle cx="879.2" cy="492.2" r="1.05" fill="#4a10f8" opacity="0.88"/>
<circle cx="1014.8" cy="512.0" r="1.56" fill="#4810f0" opacity="0.75"/>
<circle cx="580.7" cy="612.9" r="0.99" fill="#6a18ff" opacity="0.60"/>
<circle cx="226.9" cy="534.8" r="1.34" fill="#6a18ff" opacity="0.74"/>
<circle cx="1028.6" cy="482.3" r="1.26" fill="#5818ff" opacity="0.80"/>
<circle cx="557.4" cy="637.3" r="1.98" fill="#e848ff" opacity="0.92"/>
<circle cx="1102.7" cy="430.3" r="1.46" fill="#5818ff" opacity="0.84"/>
<circle cx="992.0" cy="472.4" r="0.96" fill="#4a10f8" opacity="0.63"/>
<circle cx="58.3" cy="521.1" r="1.20" fill="#5818ff" opacity="0.92"/>
<circle cx="1079.0" cy="435.9" r="1.29" fill="#4810f0" opacity="0.89"/>
<circle cx="306.0" cy="515.5" r="1.25" fill="#5818ff" opacity="0.62"/>
<circle cx="424.0" cy="579.6" r="1.09" fill="#4a10f8" opacity="0.99"/>
<circle cx="395.6" cy="577.6" r="1.72" fill="#3c08f0" opacity="0.66"/>
<circle cx="1005.0" cy="503.2" r="1.38" fill="#5818ff" opacity="0.82"/>
<circle cx="1099.3" cy="427.1" r="1.19" fill="#4a10f8" opacity="0.83"/>
<circle cx="799.3" cy="534.7" r="0.81" fill="#6a18ff" opacity="0.97"/>
<circle cx="632.8" cy="617.5" r="1.70" fill="#5818ff" opacity="0.81"/>
<circle cx="771.0" cy="544.9" r="1.44" fill="#5818ff" opacity="0.98"/>
<circle cx="147.4" cy="520.3" r="1.09" fill="#3c08f0" opacity="0.86"/>
<circle cx="460.5" cy="592.6" r="1.06" fill="#e848ff" opacity="0.62"/>
<circle cx="852.1" cy="558.1" r="1.15" fill="#4a10f8" opacity="0.62"/>
<circle cx="993.8" cy="510.2" r="1.33" fill="#6a18ff" opacity="0.73"/>
<circle cx="383.6" cy="556.9" r="0.97" fill="#e848ff" opacity="0.79"/>
<circle cx="706.5" cy="611.0" r="1.18" fill="#c010e8" opacity="0.93"/>
<circle cx="491.0" cy="592.1" r="0.89" fill="#d010f0" opacity="0.68"/>
<circle cx="634.8" cy="600.9" r="0.93" fill="#e028ff" opacity="0.90"/>
<circle cx="166.7" cy="541.5" r="1.16" fill="#6a18ff" opacity="0.93"/>
<circle cx="921.3" cy="555.4" r="1.13" fill="#c010e8" opacity="0.67"/>
<circle cx="357.6" cy="547.7" r="1.34" fill="#4a10f8" opacity="0.67"/>
<circle cx="936.6" cy="473.5" r="1.13" fill="#e028ff" opacity="0.64"/>
<circle cx="134.1" cy="513.7" r="1.69" fill="#5818ff" opacity="0.81"/>
<circle cx="443.6" cy="565.7" r="0.99" fill="#e028ff" opacity="0.62"/>
<circle cx="11.9" cy="538.6" r="1.61" fill="#3c08f0" opacity="0.86"/>
<circle cx="20.6" cy="546.0" r="1.43" fill="#4810f0" opacity="0.80"/>
<circle cx="93.3" cy="542.2" r="1.70" fill="#c010e8" opacity="0.89"/>
<circle cx="806.7" cy="570.6" r="1.65" fill="#6a18ff" opacity="0.93"/>
<circle cx="527.0" cy="602.3" r="0.98" fill="#e848ff" opacity="0.98"/>
<circle cx="685.7" cy="615.4" r="1.66" fill="#e848ff" opacity="0.78"/>
<circle cx="960.0" cy="526.9" r="1.26" fill="#3c08f0" opacity="0.93"/>
<circle cx="975.5" cy="470.7" r="1.54" fill="#3c08f0" opacity="0.80"/>
<circle cx="489.5" cy="613.8" r="1.49" fill="#e028ff" opacity="0.98"/>
<circle cx="70.7" cy="527.6" r="1.59" fill="#d010f0" opacity="0.63"/>
<circle cx="325.7" cy="529.1" r="1.66" fill="#4a10f8" opacity="0.89"/>
<circle cx="780.1" cy="551.4" r="1.76" fill="#6a18ff" opacity="0.68"/>
<circle cx="448.0" cy="570.6" r="1.71" fill="#3c08f0" opacity="0.89"/>
<circle cx="813.2" cy="530.0" r="1.09" fill="#4a10f8" opacity="0.97"/>
<circle cx="153.5" cy="503.8" r="0.92" fill="#4a10f8" opacity="0.85"/>
<circle cx="472.2" cy="579.4" r="0.80" fill="#4810f0" opacity="0.92"/>
<circle cx="193.3" cy="506.6" r="1.43" fill="#3c08f0" opacity="0.92"/>
<circle cx="88.9" cy="536.4" r="1.49" fill="#3c08f0" opacity="0.82"/>
<circle cx="788.0" cy="545.4" r="1.40" fill="#c010e8" opacity="0.67"/>
<circle cx="418.5" cy="589.4" r="1.64" fill="#c010e8" opacity="0.93"/>
<circle cx="608.8" cy="632.9" r="2.01" fill="#6a18ff" opacity="0.91"/>
<circle cx="649.6" cy="623.8" r="1.89" fill="#e848ff" opacity="0.63"/>
<circle cx="429.2" cy="581.7" r="1.77" fill="#4a10f8" opacity="0.69"/>
<circle cx="696.4" cy="619.1" r="1.57" fill="#4a10f8" opacity="0.63"/>
<circle cx="581.3" cy="610.3" r="1.34" fill="#3c08f0" opacity="0.66"/>
<circle cx="963.7" cy="486.4" r="1.12" fill="#4a10f8" opacity="0.61"/>
<circle cx="394.8" cy="599.9" r="2.09" fill="#4a10f8" opacity="0.79"/>
<circle cx="686.9" cy="609.6" r="1.11" fill="#e028ff" opacity="0.94"/>
<circle cx="360.0" cy="561.4" r="1.80" fill="#5818ff" opacity="0.90"/>
<circle cx="224.1" cy="523.9" r="0.94" fill="#4a10f8" opacity="0.93"/>
<circle cx="501.5" cy="591.9" r="1.19" fill="#d010f0" opacity="0.98"/>
<circle cx="1088.2" cy="544.1" r="1.27" fill="#e028ff" opacity="0.61"/>
<circle cx="160.1" cy="532.2" r="1.76" fill="#c010e8" opacity="0.96"/>
<circle cx="1072.5" cy="522.4" r="1.77" fill="#6a18ff" opacity="0.90"/>
<circle cx="1086.9" cy="477.5" r="1.47" fill="#3c08f0" opacity="0.79"/>
<circle cx="1031.9" cy="530.5" r="1.26" fill="#4a10f8" opacity="0.78"/>
<circle cx="88.6" cy="509.2" r="1.30" fill="#e028ff" opacity="0.92"/>
<circle cx="716.3" cy="620.2" r="1.25" fill="#e848ff" opacity="0.82"/>
<circle cx="826.7" cy="546.3" r="1.31" fill="#4810f0" opacity="0.88"/>
<circle cx="70.5" cy="547.6" r="1.49" fill="#5818ff" opacity="0.68"/>
<circle cx="939.5" cy="541.6" r="1.65" fill="#5818ff" opacity="0.79"/>
<circle cx="1072.4" cy="486.8" r="1.50" fill="#e848ff" opacity="0.88"/>
<circle cx="605.2" cy="627.3" r="1.36" fill="#3c08f0" opacity="0.85"/>
<circle cx="676.9" cy="621.5" r="1.15" fill="#d010f0" opacity="0.73"/>
<circle cx="651.1" cy="614.8" r="1.32" fill="#4a10f8" opacity="0.78"/>
<circle cx="69.3" cy="513.4" r="0.85" fill="#6a18ff" opacity="0.75"/>
<circle cx="424.1" cy="598.1" r="1.78" fill="#e848ff" opacity="0.86"/>
<circle cx="73.0" cy="523.6" r="1.28" fill="#4810f0" opacity="0.79"/>
<circle cx="346.6" cy="584.2" r="1.54" fill="#d010f0" opacity="0.71"/>
<circle cx="1050.9" cy="476.9" r="1.65" fill="#3c08f0" opacity="0.66"/>
<circle cx="427.8" cy="586.5" r="1.81" fill="#5818ff" opacity="0.94"/>
<circle cx="225.1" cy="525.9" r="1.46" fill="#3c08f0" opacity="0.61"/>
<circle cx="620.0" cy="629.7" r="1.98" fill="#e028ff" opacity="0.80"/>
<circle cx="135.7" cy="517.8" r="0.93" fill="#6a18ff" opacity="0.91"/>
<circle cx="440.0" cy="576.4" r="1.48" fill="#6a18ff" opacity="0.93"/>
<circle cx="1023.8" cy="500.1" r="1.15" fill="#e028ff" opacity="0.80"/>
<circle cx="272.6" cy="538.8" r="1.83" fill="#4810f0" opacity="0.74"/>
<circle cx="146.1" cy="525.8" r="1.38" fill="#6a18ff" opacity="0.83"/>
<circle cx="288.9" cy="560.1" r="1.14" fill="#3c08f0" opacity="0.82"/>
<circle cx="140.4" cy="539.2" r="1.57" fill="#4a10f8" opacity="0.75"/>
<circle cx="827.2" cy="551.2" r="1.15" fill="#d010f0" opacity="0.94"/>
<circle cx="901.1" cy="536.5" r="1.44" fill="#e028ff" opacity="0.63"/>
<circle cx="359.2" cy="551.2" r="1.65" fill="#e848ff" opacity="0.74"/>
<circle cx="847.9" cy="566.5" r="1.75" fill="#6a18ff" opacity="0.74"/>
<circle cx="821.7" cy="544.1" r="1.45" fill="#3c08f0" opacity="0.79"/>
<circle cx="424.8" cy="587.4" r="1.63" fill="#c010e8" opacity="0.77"/>
<circle cx="106.4" cy="525.5" r="1.35" fill="#3c08f0" opacity="0.86"/>
<circle cx="712.6" cy="614.6" r="1.41" fill="#4a10f8" opacity="0.68"/>
<circle cx="831.0" cy="577.2" r="1.98" fill="#e028ff" opacity="0.87"/>
<circle cx="482.1" cy="588.6" r="0.89" fill="#3c08f0" opacity="0.81"/>
<circle cx="562.7" cy="622.4" r="1.62" fill="#6a18ff" opacity="0.72"/>
<circle cx="296.9" cy="534.7" r="0.98" fill="#d010f0" opacity="0.69"/>
<circle cx="1060.0" cy="459.3" r="1.69" fill="#c010e8" opacity="0.92"/>
<circle cx="607.9" cy="606.7" r="1.18" fill="#6a18ff" opacity="0.71"/>
<circle cx="45.4" cy="536.6" r="1.51" fill="#e028ff" opacity="0.73"/>
<circle cx="1050.5" cy="487.2" r="1.64" fill="#e028ff" opacity="0.80"/>
<circle cx="426.7" cy="566.6" r="1.44" fill="#5818ff" opacity="0.72"/>
<circle cx="521.6" cy="613.2" r="1.07" fill="#4810f0" opacity="0.97"/>
<circle cx="154.9" cy="506.9" r="1.59" fill="#6a18ff" opacity="0.96"/>
<circle cx="187.8" cy="530.5" r="1.53" fill="#4a10f8" opacity="0.84"/>
<circle cx="139.9" cy="520.0" r="1.54" fill="#4a10f8" opacity="0.98"/>
<circle cx="27.1" cy="536.0" r="1.33" fill="#3c08f0" opacity="0.95"/>
<circle cx="69.5" cy="521.2" r="1.31" fill="#5818ff" opacity="0.77"/>
<circle cx="781.5" cy="552.7" r="1.03" fill="#4a10f8" opacity="0.96"/>
<circle cx="256.0" cy="556.2" r="1.34" fill="#6a18ff" opacity="0.77"/>
<circle cx="108.5" cy="534.6" r="1.24" fill="#3c08f0" opacity="0.68"/>
<circle cx="258.8" cy="519.9" r="1.52" fill="#3c08f0" opacity="0.73"/>
<circle cx="428.0" cy="593.7" r="1.89" fill="#6a18ff" opacity="0.84"/>
<circle cx="646.6" cy="612.0" r="0.87" fill="#e028ff" opacity="0.75"/>
<circle cx="1053.1" cy="440.5" r="1.27" fill="#4a10f8" opacity="0.69"/>
<circle cx="629.0" cy="615.9" r="1.75" fill="#4810f0" opacity="0.87"/>
<circle cx="521.0" cy="604.1" r="1.57" fill="#3c08f0" opacity="0.72"/>
<circle cx="277.9" cy="557.1" r="1.70" fill="#4a10f8" opacity="0.66"/>
<circle cx="809.2" cy="577.5" r="1.34" fill="#e848ff" opacity="0.70"/>
<circle cx="846.3" cy="540.3" r="1.67" fill="#c010e8" opacity="0.64"/>
<circle cx="855.7" cy="545.2" r="1.61" fill="#e848ff" opacity="0.60"/>
<circle cx="478.2" cy="579.1" r="0.93" fill="#4810f0" opacity="0.95"/>
<circle cx="368.2" cy="571.2" r="0.99" fill="#3c08f0" opacity="0.79"/>
<circle cx="14.4" cy="550.8" r="1.36" fill="#6a18ff" opacity="0.64"/>
<circle cx="999.7" cy="481.1" r="1.07" fill="#3c08f0" opacity="0.72"/>
<circle cx="31.0" cy="535.0" r="1.64" fill="#e028ff" opacity="0.71"/>
<circle cx="708.5" cy="605.7" r="1.30" fill="#c010e8" opacity="0.86"/>
<circle cx="934.3" cy="484.0" r="1.58" fill="#4810f0" opacity="0.76"/>
<circle cx="445.5" cy="604.4" r="1.70" fill="#4810f0" opacity="0.77"/>
<circle cx="845.2" cy="519.6" r="1.62" fill="#d010f0" opacity="0.90"/>
<circle cx="161.2" cy="535.4" r="1.45" fill="#5818ff" opacity="0.83"/>
<circle cx="798.1" cy="564.1" r="1.25" fill="#3c08f0" opacity="0.81"/>
<circle cx="9.7" cy="542.4" r="0.87" fill="#4a10f8" opacity="0.89"/>
<circle cx="-2.4" cy="548.7" r="1.85" fill="#4a10f8" opacity="0.89"/>
<circle cx="753.0" cy="596.3" r="1.81" fill="#3c08f0" opacity="0.76"/>
<circle cx="164.2" cy="524.0" r="1.33" fill="#6a18ff" opacity="0.67"/>
<circle cx="601.9" cy="618.3" r="1.00" fill="#3c08f0" opacity="0.82"/>
<circle cx="652.1" cy="609.2" r="1.49" fill="#e028ff" opacity="0.79"/>
<circle cx="520.4" cy="607.6" r="0.92" fill="#4810f0" opacity="0.75"/>
<circle cx="636.2" cy="617.3" r="1.77" fill="#3c08f0" opacity="0.77"/>
<circle cx="290.6" cy="566.8" r="1.67" fill="#e848ff" opacity="0.99"/>
<circle cx="56.5" cy="536.1" r="1.61" fill="#c010e8" opacity="0.70"/>
<circle cx="672.8" cy="605.2" r="0.86" fill="#d010f0" opacity="0.70"/>
<circle cx="848.8" cy="527.6" r="1.21" fill="#3c08f0" opacity="0.68"/>
<circle cx="287.3" cy="555.5" r="1.29" fill="#4810f0" opacity="0.74"/>
<circle cx="794.5" cy="556.7" r="1.08" fill="#3c08f0" opacity="0.79"/>
<circle cx="826.2" cy="529.6" r="1.32" fill="#6a18ff" opacity="0.88"/>
<circle cx="557.6" cy="611.7" r="1.07" fill="#e848ff" opacity="0.90"/>
<circle cx="177.4" cy="517.5" r="1.65" fill="#c010e8" opacity="0.93"/>
<circle cx="633.3" cy="614.2" r="1.77" fill="#4a10f8" opacity="0.89"/>
<circle cx="767.7" cy="571.5" r="1.84" fill="#e028ff" opacity="0.66"/>
<circle cx="1048.6" cy="539.8" r="1.66" fill="#4810f0" opacity="0.63"/>
<circle cx="519.4" cy="611.5" r="1.37" fill="#4a10f8" opacity="0.61"/>
<circle cx="493.2" cy="614.2" r="1.44" fill="#e028ff" opacity="0.76"/>
<circle cx="360.7" cy="553.0" r="1.64" fill="#5818ff" opacity="0.65"/>
<circle cx="1040.8" cy="454.5" r="0.79" fill="#3c08f0" opacity="0.65"/>
<circle cx="284.7" cy="536.4" r="1.59" fill="#c010e8" opacity="0.90"/>
<circle cx="18.8" cy="545.8" r="1.31" fill="#4810f0" opacity="0.73"/>
<circle cx="223.9" cy="542.6" r="1.06" fill="#5818ff" opacity="0.94"/>
<circle cx="769.4" cy="582.2" r="1.22" fill="#3c08f0" opacity="0.75"/>
<circle cx="171.4" cy="528.6" r="1.25" fill="#3c08f0" opacity="0.81"/>
<circle cx="731.8" cy="607.1" r="1.16" fill="#6a18ff" opacity="0.78"/>
<circle cx="1050.5" cy="464.7" r="1.29" fill="#4810f0" opacity="0.74"/>
<circle cx="956.4" cy="556.6" r="1.62" fill="#4810f0" opacity="0.63"/>
<circle cx="364.2" cy="549.0" r="1.17" fill="#c010e8" opacity="0.75"/>
<circle cx="453.4" cy="572.8" r="1.22" fill="#e848ff" opacity="0.85"/>
<circle cx="372.2" cy="548.9" r="1.44" fill="#e028ff" opacity="0.85"/>
<circle cx="1060.1" cy="530.5" r="1.71" fill="#d010f0" opacity="0.92"/>
<circle cx="1009.0" cy="453.0" r="0.85" fill="#d010f0" opacity="0.77"/>
<circle cx="421.0" cy="580.6" r="1.19" fill="#c010e8" opacity="0.80"/>
<circle cx="61.8" cy="521.5" r="0.79" fill="#e028ff" opacity="0.72"/>
<circle cx="783.7" cy="536.6" r="0.83" fill="#d010f0" opacity="0.89"/>
<circle cx="968.0" cy="550.0" r="1.46" fill="#3c08f0" opacity="0.80"/>
<circle cx="547.6" cy="620.8" r="1.87" fill="#4810f0" opacity="0.87"/>
<circle cx="882.8" cy="496.1" r="0.95" fill="#6a18ff" opacity="0.82"/>
<circle cx="967.4" cy="490.1" r="1.39" fill="#c010e8" opacity="0.83"/>
<circle cx="365.3" cy="556.9" r="1.16" fill="#4810f0" opacity="0.68"/>
<circle cx="740.0" cy="575.9" r="0.90" fill="#4a10f8" opacity="0.76"/>
<circle cx="877.0" cy="571.9" r="1.34" fill="#6a18ff" opacity="0.80"/>
<circle cx="30.8" cy="535.0" r="0.94" fill="#e028ff" opacity="0.72"/>
<circle cx="986.1" cy="541.7" r="1.61" fill="#6a18ff" opacity="0.82"/>
<circle cx="627.3" cy="606.9" r="1.00" fill="#5818ff" opacity="0.94"/>
<circle cx="406.6" cy="576.8" r="1.24" fill="#c010e8" opacity="0.74"/>
<circle cx="696.0" cy="604.2" r="1.25" fill="#5818ff" opacity="0.83"/>
<circle cx="1100.0" cy="540.7" r="1.23" fill="#e848ff" opacity="0.86"/>
<circle cx="20.6" cy="535.1" r="0.96" fill="#5818ff" opacity="0.64"/>
<circle cx="977.5" cy="458.4" r="0.99" fill="#e028ff" opacity="0.92"/>
<circle cx="211.6" cy="519.0" r="1.33" fill="#4a10f8" opacity="0.82"/>
<circle cx="545.7" cy="626.6" r="1.57" fill="#5818ff" opacity="0.75"/>
<circle cx="1088.0" cy="522.3" r="1.61" fill="#3c08f0" opacity="0.92"/>
<circle cx="854.6" cy="538.3" r="1.38" fill="#c010e8" opacity="0.80"/>
<circle cx="1016.5" cy="531.7" r="1.41" fill="#c010e8" opacity="0.67"/>
<circle cx="578.1" cy="621.5" r="1.76" fill="#e028ff" opacity="0.74"/>
<circle cx="418.6" cy="603.2" r="1.31" fill="#d010f0" opacity="0.79"/>
<circle cx="573.4" cy="606.0" r="1.36" fill="#4a10f8" opacity="0.91"/>
<circle cx="1097.1" cy="540.1" r="1.30" fill="#e028ff" opacity="0.62"/>
<circle cx="1066.5" cy="508.6" r="1.89" fill="#c010e8" opacity="0.89"/>
<circle cx="559.9" cy="606.6" r="0.93" fill="#4a10f8" opacity="0.71"/>
<circle cx="97.0" cy="543.9" r="1.66" fill="#5818ff" opacity="0.81"/>
<circle cx="45.6" cy="537.0" r="1.24" fill="#6a18ff" opacity="0.99"/>
<circle cx="284.3" cy="516.7" r="1.12" fill="#6a18ff" opacity="0.88"/>
<circle cx="386.4" cy="563.6" r="1.05" fill="#d010f0" opacity="0.99"/>
<circle cx="606.1" cy="605.7" r="1.47" fill="#4a10f8" opacity="0.67"/>
<circle cx="578.5" cy="614.1" r="1.38" fill="#6a18ff" opacity="0.88"/>
<circle cx="1090.4" cy="512.9" r="1.05" fill="#e028ff" opacity="0.86"/>
<circle cx="13.2" cy="549.6" r="1.40" fill="#3c08f0" opacity="0.84"/>
<circle cx="608.1" cy="617.9" r="1.62" fill="#4810f0" opacity="0.88"/>
<circle cx="353.6" cy="587.6" r="1.84" fill="#e028ff" opacity="0.89"/>
<circle cx="394.6" cy="555.3" r="1.60" fill="#d010f0" opacity="0.94"/>
<circle cx="363.1" cy="546.3" r="1.67" fill="#c010e8" opacity="0.74"/>
<circle cx="293.6" cy="575.3" r="2.03" fill="#5818ff" opacity="0.89"/>
<circle cx="155.6" cy="504.6" r="0.78" fill="#6a18ff" opacity="0.92"/>
<circle cx="845.3" cy="551.4" r="1.06" fill="#e028ff" opacity="0.74"/>
<circle cx="162.5" cy="509.8" r="1.25" fill="#3c08f0" opacity="0.74"/>
<circle cx="220.6" cy="525.7" r="1.29" fill="#4810f0" opacity="0.94"/>
<circle cx="196.3" cy="518.1" r="1.44" fill="#e848ff" opacity="0.96"/>
<circle cx="238.5" cy="539.8" r="1.61" fill="#6a18ff" opacity="0.96"/>
<circle cx="255.1" cy="542.3" r="1.26" fill="#5818ff" opacity="0.67"/>
<circle cx="726.3" cy="618.5" r="1.55" fill="#6a18ff" opacity="0.89"/>
<circle cx="428.5" cy="576.1" r="1.15" fill="#4a10f8" opacity="0.61"/>
<circle cx="900.4" cy="510.4" r="1.60" fill="#6a18ff" opacity="0.64"/>
<circle cx="228.6" cy="513.3" r="0.80" fill="#e848ff" opacity="0.80"/>
<circle cx="1047.8" cy="542.0" r="1.26" fill="#e028ff" opacity="0.78"/>
<circle cx="516.8" cy="601.4" r="1.00" fill="#3c08f0" opacity="0.94"/>
<circle cx="580.3" cy="609.5" r="1.42" fill="#e028ff" opacity="0.78"/>
<circle cx="140.2" cy="548.7" r="1.23" fill="#e848ff" opacity="0.74"/>
<circle cx="126.5" cy="524.0" r="1.21" fill="#3c08f0" opacity="0.67"/>
<circle cx="893.0" cy="498.6" r="1.57" fill="#6a18ff" opacity="0.99"/>
<circle cx="653.8" cy="603.1" r="1.32" fill="#3c08f0" opacity="0.80"/>
<circle cx="471.1" cy="601.3" r="1.69" fill="#5818ff" opacity="0.89"/>
<circle cx="538.8" cy="611.2" r="1.12" fill="#3c08f0" opacity="0.81"/>
<circle cx="953.1" cy="539.9" r="1.39" fill="#e848ff" opacity="0.72"/>
<circle cx="897.2" cy="522.5" r="1.04" fill="#d010f0" opacity="0.97"/>
<circle cx="201.3" cy="540.1" r="1.50" fill="#6a18ff" opacity="0.65"/>
<circle cx="844.3" cy="546.4" r="1.11" fill="#5818ff" opacity="0.96"/>
<circle cx="942.9" cy="498.9" r="1.46" fill="#4810f0" opacity="0.86"/>
<circle cx="522.8" cy="628.4" r="1.48" fill="#6a18ff" opacity="0.89"/>
<circle cx="899.5" cy="501.2" r="1.34" fill="#5818ff" opacity="0.70"/>
<circle cx="344.6" cy="537.7" r="1.07" fill="#3c08f0" opacity="0.97"/>
<circle cx="917.0" cy="482.6" r="1.16" fill="#6a18ff" opacity="0.72"/>
<circle cx="11.9" cy="549.1" r="1.96" fill="#d010f0" opacity="0.60"/>
<circle cx="1037.8" cy="513.0" r="1.30" fill="#c010e8" opacity="0.95"/>
<circle cx="587.9" cy="617.9" r="1.14" fill="#e028ff" opacity="0.75"/>
<circle cx="664.3" cy="611.1" r="1.08" fill="#e028ff" opacity="0.73"/>
<circle cx="219.2" cy="547.8" r="1.92" fill="#d010f0" opacity="0.70"/>
<circle cx="254.1" cy="551.8" r="1.68" fill="#3c08f0" opacity="0.99"/>
<circle cx="119.4" cy="533.5" r="1.07" fill="#c010e8" opacity="0.82"/>
<circle cx="357.7" cy="532.1" r="0.77" fill="#e848ff" opacity="0.90"/>
<circle cx="650.8" cy="604.2" r="1.14" fill="#e848ff" opacity="0.76"/>
<circle cx="776.4" cy="544.9" r="1.20" fill="#6a18ff" opacity="0.79"/>
<circle cx="643.5" cy="617.5" r="1.69" fill="#e848ff" opacity="0.72"/>
<circle cx="20.5" cy="540.2" r="1.03" fill="#6a18ff" opacity="0.82"/>
<circle cx="737.7" cy="595.5" r="1.18" fill="#6a18ff" opacity="0.75"/>
<circle cx="394.5" cy="599.5" r="1.57" fill="#e848ff" opacity="0.81"/>
<circle cx="313.1" cy="551.0" r="1.48" fill="#6a18ff" opacity="0.95"/>
<circle cx="14.7" cy="536.7" r="1.62" fill="#4a10f8" opacity="0.71"/>
<circle cx="220.2" cy="532.9" r="1.38" fill="#e848ff" opacity="0.82"/>
<circle cx="805.4" cy="556.3" r="1.37" fill="#4a10f8" opacity="0.78"/>
<circle cx="594.8" cy="622.9" r="1.82" fill="#6a18ff" opacity="0.85"/>
<circle cx="658.3" cy="608.4" r="1.21" fill="#4810f0" opacity="0.68"/>
<circle cx="340.1" cy="541.1" r="1.44" fill="#e028ff" opacity="0.88"/>
<circle cx="47.8" cy="544.7" r="1.93" fill="#e028ff" opacity="0.78"/>
<circle cx="964.4" cy="496.3" r="1.28" fill="#e028ff" opacity="0.81"/>
<circle cx="780.4" cy="581.9" r="1.26" fill="#c010e8" opacity="0.70"/>
<circle cx="1071.3" cy="503.5" r="1.68" fill="#3c08f0" opacity="0.70"/>
<circle cx="1084.8" cy="548.6" r="1.72" fill="#e848ff" opacity="0.75"/>
<circle cx="729.9" cy="611.4" r="1.43" fill="#c010e8" opacity="0.79"/>
<circle cx="116.0" cy="527.7" r="1.05" fill="#5818ff" opacity="0.88"/>
<circle cx="57.0" cy="541.6" r="1.72" fill="#5818ff" opacity="0.73"/>
<circle cx="52.6" cy="533.6" r="1.16" fill="#6a18ff" opacity="0.81"/>
<circle cx="484.2" cy="588.0" r="1.70" fill="#e028ff" opacity="0.74"/>
<circle cx="1002.1" cy="455.1" r="1.55" fill="#4810f0" opacity="0.87"/>
<circle cx="77.8" cy="514.4" r="0.90" fill="#5818ff" opacity="0.81"/>
<circle cx="1074.6" cy="452.1" r="0.99" fill="#4a10f8" opacity="0.95"/>
<circle cx="62.8" cy="528.7" r="1.35" fill="#e028ff" opacity="0.69"/>
<circle cx="189.5" cy="545.3" r="1.74" fill="#4810f0" opacity="0.77"/>
<circle cx="670.8" cy="615.9" r="1.61" fill="#4810f0" opacity="0.68"/>
<circle cx="214.2" cy="549.2" r="1.90" fill="#d010f0" opacity="0.80"/>
<circle cx="1046.5" cy="480.2" r="1.30" fill="#6a18ff" opacity="0.99"/>
<circle cx="146.8" cy="540.4" r="1.15" fill="#4a10f8" opacity="0.69"/>
<circle cx="307.9" cy="523.6" r="1.68" fill="#e028ff" opacity="0.94"/>
<circle cx="297.0" cy="549.8" r="1.87" fill="#4810f0" opacity="0.82"/>
<circle cx="326.2" cy="551.4" r="1.28" fill="#4810f0" opacity="0.99"/>
<circle cx="901.8" cy="558.3" r="1.85" fill="#e028ff" opacity="0.93"/>
<circle cx="1011.8" cy="556.2" r="1.22" fill="#e028ff" opacity="0.89"/>
<circle cx="528.3" cy="605.5" r="1.42" fill="#4a10f8" opacity="0.74"/>
<circle cx="261.5" cy="514.6" r="1.32" fill="#5818ff" opacity="0.83"/>
<circle cx="1047.0" cy="564.1" r="1.57" fill="#6a18ff" opacity="0.96"/>
<circle cx="1074.9" cy="505.8" r="1.14" fill="#6a18ff" opacity="0.85"/>
<circle cx="616.0" cy="622.6" r="1.45" fill="#4810f0" opacity="0.91"/>
<circle cx="303.2" cy="524.6" r="1.40" fill="#4810f0" opacity="0.69"/>
<circle cx="121.4" cy="534.7" r="1.79" fill="#4a10f8" opacity="0.79"/>
<circle cx="183.3" cy="501.4" r="1.41" fill="#4a10f8" opacity="0.77"/>
<circle cx="1052.2" cy="440.7" r="1.56" fill="#3c08f0" opacity="0.90"/>
<circle cx="550.8" cy="624.5" r="1.80" fill="#6a18ff" opacity="0.99"/>
<circle cx="116.3" cy="506.0" r="1.59" fill="#6a18ff" opacity="0.91"/>
<circle cx="833.9" cy="525.9" r="1.18" fill="#5818ff" opacity="0.99"/>
<circle cx="370.3" cy="568.8" r="1.54" fill="#4810f0" opacity="0.75"/>
<circle cx="543.7" cy="617.6" r="1.78" fill="#4a10f8" opacity="0.99"/>
<circle cx="26.9" cy="546.4" r="1.63" fill="#c010e8" opacity="0.67"/>
<circle cx="513.6" cy="608.6" r="1.70" fill="#6a18ff" opacity="0.82"/>
<circle cx="889.0" cy="556.5" r="1.59" fill="#d010f0" opacity="0.87"/>
<circle cx="820.6" cy="555.3" r="1.59" fill="#4810f0" opacity="0.96"/>
<circle cx="18.8" cy="531.1" r="1.47" fill="#5818ff" opacity="0.77"/>
<circle cx="624.2" cy="607.5" r="1.54" fill="#4a10f8" opacity="0.68"/>
<circle cx="1098.0" cy="547.5" r="1.85" fill="#e028ff" opacity="0.68"/>
<circle cx="303.6" cy="564.6" r="1.22" fill="#d010f0" opacity="0.96"/>
<circle cx="876.9" cy="524.0" r="1.13" fill="#5818ff" opacity="0.70"/>
<circle cx="402.8" cy="565.1" r="1.45" fill="#d010f0" opacity="0.93"/>
<circle cx="1062.5" cy="467.0" r="1.19" fill="#6a18ff" opacity="0.90"/>
<circle cx="268.3" cy="564.3" r="1.25" fill="#3c08f0" opacity="0.93"/>
<circle cx="950.7" cy="472.4" r="0.95" fill="#e848ff" opacity="0.78"/>
<circle cx="563.8" cy="621.0" r="1.23" fill="#e848ff" opacity="0.73"/>
<circle cx="675.1" cy="612.1" r="1.64" fill="#5818ff" opacity="0.92"/>
<circle cx="404.8" cy="584.0" r="1.60" fill="#3c08f0" opacity="0.71"/>
<circle cx="866.1" cy="517.9" r="1.19" fill="#4a10f8" opacity="0.62"/>
<circle cx="1049.7" cy="487.9" r="1.18" fill="#4810f0" opacity="0.84"/>
<circle cx="165.5" cy="521.2" r="1.40" fill="#6a18ff" opacity="0.69"/>
<circle cx="53.7" cy="534.3" r="1.12" fill="#3c08f0" opacity="0.87"/>
<circle cx="316.5" cy="521.3" r="1.61" fill="#3c08f0" opacity="0.93"/>
<circle cx="257.4" cy="566.2" r="1.76" fill="#c010e8" opacity="0.72"/>
<circle cx="669.9" cy="602.1" r="1.50" fill="#4810f0" opacity="0.90"/>
<circle cx="202.2" cy="524.0" r="1.01" fill="#4a10f8" opacity="0.68"/>
<circle cx="486.4" cy="583.3" r="0.78" fill="#5818ff" opacity="0.84"/>
<circle cx="1000.8" cy="548.1" r="1.34" fill="#d010f0" opacity="0.68"/>
<circle cx="949.2" cy="507.6" r="1.18" fill="#d010f0" opacity="0.74"/>
<circle cx="778.9" cy="591.0" r="1.77" fill="#4a10f8" opacity="0.62"/>
<circle cx="150.1" cy="516.1" r="1.39" fill="#e028ff" opacity="0.66"/>
<circle cx="96.1" cy="533.3" r="1.51" fill="#6a18ff" opacity="0.72"/>
<circle cx="393.9" cy="567.2" r="1.23" fill="#e848ff" opacity="0.63"/>
<circle cx="915.2" cy="490.3" r="1.00" fill="#c010e8" opacity="0.73"/>
<circle cx="281.0" cy="564.4" r="1.20" fill="#3c08f0" opacity="0.62"/>
<circle cx="862.3" cy="554.3" r="1.79" fill="#4a10f8" opacity="0.85"/>
<circle cx="372.7" cy="587.5" r="1.32" fill="#5818ff" opacity="0.96"/>
<circle cx="1094.5" cy="540.9" r="1.37" fill="#c010e8" opacity="0.78"/>
<circle cx="82.8" cy="521.2" r="1.64" fill="#4810f0" opacity="0.87"/>
<circle cx="9.4" cy="535.6" r="1.49" fill="#3c08f0" opacity="0.71"/>
<circle cx="366.5" cy="582.1" r="1.19" fill="#4810f0" opacity="0.65"/>
<circle cx="174.8" cy="495.3" r="1.19" fill="#e848ff" opacity="0.80"/>
<circle cx="94.6" cy="532.1" r="1.18" fill="#e028ff" opacity="0.88"/>
<circle cx="597.1" cy="618.6" r="1.20" fill="#3c08f0" opacity="0.64"/>
<circle cx="934.5" cy="503.6" r="1.21" fill="#4a10f8" opacity="0.72"/>
<circle cx="850.6" cy="536.6" r="0.99" fill="#c010e8" opacity="0.64"/>
<circle cx="163.1" cy="536.1" r="1.89" fill="#e848ff" opacity="0.67"/>
<circle cx="42.0" cy="535.1" r="1.77" fill="#3c08f0" opacity="0.68"/>
<circle cx="98.8" cy="504.6" r="1.20" fill="#c010e8" opacity="0.87"/>
<circle cx="983.7" cy="483.3" r="1.12" fill="#3c08f0" opacity="0.97"/>
<circle cx="939.2" cy="560.0" r="1.57" fill="#d010f0" opacity="0.77"/>
<circle cx="319.2" cy="513.1" r="1.42" fill="#e028ff" opacity="0.74"/>
<circle cx="878.9" cy="519.3" r="0.86" fill="#4810f0" opacity="0.92"/>
<circle cx="885.2" cy="546.8" r="1.18" fill="#e028ff" opacity="0.96"/>
<circle cx="483.7" cy="583.8" r="1.20" fill="#4a10f8" opacity="0.79"/>
<circle cx="4.7" cy="544.6" r="1.80" fill="#e028ff" opacity="0.69"/>
<circle cx="1063.1" cy="482.4" r="1.47" fill="#4a10f8" opacity="0.72"/>
<circle cx="575.8" cy="617.2" r="1.35" fill="#e028ff" opacity="0.66"/>
<circle cx="609.5" cy="602.9" r="0.92" fill="#e848ff" opacity="0.80"/>
<circle cx="1003.3" cy="489.0" r="1.51" fill="#5818ff" opacity="0.97"/>
<circle cx="210.2" cy="511.9" r="1.38" fill="#5818ff" opacity="0.71"/>
<circle cx="1097.1" cy="476.3" r="1.28" fill="#e028ff" opacity="0.84"/>
<circle cx="128.7" cy="508.8" r="1.45" fill="#5818ff" opacity="0.94"/>
<circle cx="140.1" cy="524.6" r="1.61" fill="#e028ff" opacity="0.60"/>
<circle cx="61.5" cy="544.2" r="1.52" fill="#3c08f0" opacity="0.71"/>
<circle cx="849.2" cy="518.6" r="1.65" fill="#5818ff" opacity="0.99"/>
<circle cx="928.7" cy="478.0" r="0.89" fill="#4a10f8" opacity="0.62"/>
<circle cx="318.5" cy="520.8" r="1.49" fill="#4810f0" opacity="0.68"/>
<circle cx="155.5" cy="542.2" r="1.26" fill="#d010f0" opacity="0.98"/>
<circle cx="883.0" cy="525.8" r="1.57" fill="#e848ff" opacity="0.68"/>
<circle cx="654.6" cy="620.8" r="1.17" fill="#c010e8" opacity="0.79"/>
<circle cx="476.4" cy="598.0" r="1.70" fill="#4810f0" opacity="0.71"/>
<circle cx="637.0" cy="625.2" r="1.62" fill="#4a10f8" opacity="0.89"/>
<circle cx="273.2" cy="559.5" r="1.20" fill="#4810f0" opacity="0.83"/>
<circle cx="859.1" cy="521.3" r="1.52" fill="#c010e8" opacity="0.82"/>
<circle cx="231.2" cy="555.6" r="1.73" fill="#c010e8" opacity="0.66"/>
<circle cx="230.6" cy="503.3" r="1.58" fill="#e848ff" opacity="0.68"/>
<circle cx="565.6" cy="620.3" r="1.61" fill="#4a10f8" opacity="0.74"/>
<circle cx="1044.3" cy="451.2" r="1.05" fill="#d010f0" opacity="0.73"/>
<circle cx="409.2" cy="566.3" r="1.25" fill="#e028ff" opacity="0.74"/>
<circle cx="401.2" cy="569.4" r="1.29" fill="#4a10f8" opacity="0.99"/>
<circle cx="670.6" cy="608.1" r="1.43" fill="#4810f0" opacity="0.71"/>
<circle cx="192.2" cy="534.8" r="1.07" fill="#6a18ff" opacity="0.79"/>
<circle cx="161.8" cy="519.9" r="1.75" fill="#3c08f0" opacity="0.66"/>
<circle cx="78.9" cy="511.2" r="0.97" fill="#4810f0" opacity="0.99"/>
<circle cx="801.2" cy="573.5" r="1.57" fill="#6a18ff" opacity="0.68"/>
<circle cx="776.7" cy="587.4" r="1.86" fill="#e848ff" opacity="0.66"/>
<circle cx="570.9" cy="637.8" r="1.66" fill="#6a18ff" opacity="0.88"/>
<circle cx="518.2" cy="615.0" r="1.47" fill="#4a10f8" opacity="0.86"/>
<circle cx="876.6" cy="552.6" r="1.21" fill="#4a10f8" opacity="1.00"/>
<circle cx="422.6" cy="566.6" r="1.33" fill="#4810f0" opacity="0.94"/>
<circle cx="1085.2" cy="505.1" r="1.49" fill="#5818ff" opacity="0.71"/>
<circle cx="556.5" cy="622.9" r="1.61" fill="#3c08f0" opacity="0.85"/>
<circle cx="592.1" cy="603.9" r="1.45" fill="#6a18ff" opacity="0.88"/>
<circle cx="158.8" cy="512.7" r="1.00" fill="#5818ff" opacity="0.85"/>
<circle cx="189.7" cy="503.2" r="1.55" fill="#5818ff" opacity="0.74"/>
<circle cx="150.3" cy="505.7" r="1.03" fill="#d010f0" opacity="0.80"/>
<circle cx="140.6" cy="536.3" r="1.48" fill="#6a18ff" opacity="0.63"/>
<circle cx="211.8" cy="504.8" r="1.44" fill="#5818ff" opacity="0.77"/>
<circle cx="458.8" cy="580.3" r="1.43" fill="#6a18ff" opacity="0.98"/>
<circle cx="756.7" cy="598.1" r="1.63" fill="#c010e8" opacity="0.76"/>
<circle cx="471.6" cy="591.8" r="1.07" fill="#5818ff" opacity="0.87"/>
<circle cx="742.8" cy="598.2" r="1.91" fill="#6a18ff" opacity="0.84"/>
<circle cx="603.0" cy="618.5" r="1.38" fill="#e028ff" opacity="0.78"/>
<circle cx="196.1" cy="538.2" r="1.19" fill="#5818ff" opacity="0.99"/>
<circle cx="600.2" cy="611.5" r="1.14" fill="#4a10f8" opacity="0.77"/>
<circle cx="81.3" cy="530.8" r="1.78" fill="#e028ff" opacity="0.71"/>
<circle cx="1037.5" cy="492.1" r="1.73" fill="#4810f0" opacity="0.84"/>
<circle cx="474.6" cy="612.4" r="1.12" fill="#4810f0" opacity="0.88"/>
<circle cx="802.3" cy="560.5" r="1.19" fill="#5818ff" opacity="0.98"/>
<circle cx="595.6" cy="604.7" r="0.78" fill="#4810f0" opacity="0.69"/>
<circle cx="582.9" cy="632.4" r="1.86" fill="#e848ff" opacity="0.92"/>
<circle cx="164.2" cy="516.5" r="1.34" fill="#5818ff" opacity="0.71"/>
<circle cx="817.8" cy="544.1" r="1.78" fill="#4a10f8" opacity="0.72"/>
<circle cx="9.4" cy="541.9" r="1.40" fill="#3c08f0" opacity="0.71"/>
<circle cx="473.3" cy="578.4" r="1.34" fill="#6a18ff" opacity="0.89"/>
<circle cx="141.0" cy="532.7" r="1.57" fill="#e028ff" opacity="0.93"/>
<circle cx="1039.8" cy="533.4" r="1.60" fill="#4810f0" opacity="0.98"/>
<circle cx="357.2" cy="557.2" r="1.48" fill="#4a10f8" opacity="0.87"/>
<circle cx="373.2" cy="571.7" r="1.18" fill="#5818ff" opacity="0.96"/>
<circle cx="117.1" cy="530.4" r="1.13" fill="#e028ff" opacity="0.80"/>
<circle cx="330.8" cy="523.4" r="1.19" fill="#d010f0" opacity="0.73"/>
<circle cx="627.6" cy="607.4" r="1.69" fill="#e848ff" opacity="0.85"/>
<circle cx="824.3" cy="546.1" r="1.54" fill="#c010e8" opacity="0.69"/>
<circle cx="616.7" cy="625.0" r="1.48" fill="#4810f0" opacity="0.79"/>
<circle cx="708.9" cy="608.7" r="1.16" fill="#4a10f8" opacity="0.63"/>
<circle cx="895.5" cy="505.3" r="0.98" fill="#c010e8" opacity="0.87"/>
<circle cx="683.7" cy="619.3" r="1.50" fill="#d010f0" opacity="0.88"/>
<circle cx="946.7" cy="552.2" r="1.32" fill="#5818ff" opacity="0.68"/>
<circle cx="408.0" cy="564.2" r="1.50" fill="#4810f0" opacity="0.97"/>
<circle cx="86.5" cy="529.7" r="1.65" fill="#4810f0" opacity="0.74"/>
<circle cx="382.7" cy="573.8" r="1.01" fill="#d010f0" opacity="0.70"/>
<circle cx="210.9" cy="517.4" r="1.11" fill="#e848ff" opacity="0.90"/>
<circle cx="327.4" cy="533.9" r="0.82" fill="#3c08f0" opacity="0.87"/>
<circle cx="721.0" cy="593.5" r="0.80" fill="#4810f0" opacity="0.73"/>
<circle cx="816.1" cy="583.6" r="1.66" fill="#4810f0" opacity="0.96"/>
<circle cx="1023.1" cy="448.6" r="0.73" fill="#e848ff" opacity="0.71"/>
<circle cx="571.8" cy="614.0" r="1.53" fill="#5818ff" opacity="0.70"/>
<circle cx="137.2" cy="521.3" r="1.19" fill="#6a18ff" opacity="0.81"/>
<circle cx="98.0" cy="546.3" r="1.23" fill="#3c08f0" opacity="0.87"/>
<circle cx="447.7" cy="587.7" r="1.79" fill="#4a10f8" opacity="0.86"/>
<circle cx="781.9" cy="533.0" r="1.54" fill="#5818ff" opacity="0.97"/>
<circle cx="375.9" cy="544.5" r="1.35" fill="#e848ff" opacity="0.78"/>
<circle cx="714.9" cy="621.0" r="1.51" fill="#4810f0" opacity="0.82"/>
<circle cx="58.5" cy="519.1" r="1.17" fill="#4a10f8" opacity="0.68"/>
<circle cx="631.2" cy="606.7" r="1.49" fill="#6a18ff" opacity="0.84"/>
<circle cx="24.3" cy="530.6" r="1.39" fill="#d010f0" opacity="0.85"/>
<circle cx="1030.5" cy="452.0" r="1.16" fill="#e848ff" opacity="0.66"/>
<circle cx="488.8" cy="603.9" r="1.09" fill="#5818ff" opacity="0.76"/>
<circle cx="145.8" cy="529.2" r="1.56" fill="#4a10f8" opacity="0.94"/>
<circle cx="537.1" cy="606.6" r="0.74" fill="#e848ff" opacity="0.93"/>
<circle cx="332.0" cy="538.6" r="1.69" fill="#e848ff" opacity="0.79"/>
<circle cx="441.4" cy="565.9" r="1.49" fill="#3c08f0" opacity="0.84"/>
<circle cx="224.0" cy="525.3" r="1.16" fill="#4a10f8" opacity="0.66"/>
<circle cx="717.7" cy="609.5" r="1.56" fill="#4810f0" opacity="0.74"/>
<circle cx="389.8" cy="573.2" r="1.33" fill="#d010f0" opacity="0.79"/>
<circle cx="655.3" cy="617.5" r="1.26" fill="#4a10f8" opacity="0.78"/>
<circle cx="508.4" cy="612.9" r="1.13" fill="#e848ff" opacity="0.68"/>
<circle cx="85.4" cy="507.9" r="1.15" fill="#c010e8" opacity="0.69"/>
<circle cx="626.3" cy="606.2" r="1.47" fill="#4a10f8" opacity="0.97"/>
<circle cx="427.5" cy="591.7" r="1.38" fill="#e028ff" opacity="0.77"/>
<circle cx="527.7" cy="602.6" r="0.99" fill="#e028ff" opacity="0.91"/>
<circle cx="472.7" cy="598.1" r="1.46" fill="#6a18ff" opacity="0.81"/>
<circle cx="463.1" cy="597.8" r="1.78" fill="#c010e8" opacity="0.85"/>
<circle cx="800.4" cy="534.0" r="1.02" fill="#3c08f0" opacity="0.73"/>
<circle cx="1096.8" cy="552.9" r="1.68" fill="#e028ff" opacity="0.69"/>
<circle cx="624.5" cy="620.3" r="1.37" fill="#4810f0" opacity="0.70"/>
<circle cx="731.1" cy="603.8" r="1.88" fill="#5818ff" opacity="0.85"/>
<circle cx="55.6" cy="531.1" r="1.55" fill="#e848ff" opacity="0.62"/>
<circle cx="155.7" cy="541.5" r="1.35" fill="#4810f0" opacity="0.78"/>
<circle cx="470.6" cy="590.3" r="1.34" fill="#6a18ff" opacity="0.91"/>
<circle cx="700.5" cy="608.2" r="1.29" fill="#3c08f0" opacity="0.75"/>
<circle cx="1078.0" cy="466.0" r="1.10" fill="#e848ff" opacity="0.82"/>
<circle cx="44.4" cy="538.7" r="1.56" fill="#6a18ff" opacity="0.84"/>
<circle cx="1028.2" cy="481.0" r="1.58" fill="#c010e8" opacity="0.99"/>
<circle cx="969.7" cy="512.1" r="1.67" fill="#5818ff" opacity="0.98"/>
<circle cx="949.0" cy="483.5" r="0.84" fill="#3c08f0" opacity="0.79"/>
<circle cx="262.0" cy="555.8" r="1.11" fill="#d010f0" opacity="0.93"/>
<circle cx="1015.8" cy="545.8" r="1.70" fill="#e848ff" opacity="0.82"/>
<circle cx="107.2" cy="541.4" r="1.93" fill="#c010e8" opacity="0.83"/>
<circle cx="942.3" cy="485.5" r="0.85" fill="#5818ff" opacity="0.88"/>
<circle cx="207.3" cy="549.2" r="1.19" fill="#6a18ff" opacity="0.72"/>
<circle cx="567.7" cy="622.6" r="1.59" fill="#c010e8" opacity="0.86"/>
<circle cx="925.7" cy="478.8" r="1.01" fill="#e848ff" opacity="0.70"/>
<circle cx="991.1" cy="473.2" r="1.06" fill="#6a18ff" opacity="0.89"/>
<circle cx="254.0" cy="527.4" r="1.52" fill="#4810f0" opacity="0.97"/>
<circle cx="1024.7" cy="461.5" r="0.99" fill="#3c08f0" opacity="1.00"/>
<circle cx="639.5" cy="626.1" r="1.96" fill="#4a10f8" opacity="0.81"/>
<circle cx="814.6" cy="582.0" r="1.64" fill="#e028ff" opacity="0.62"/>
<circle cx="54.0" cy="519.2" r="1.10" fill="#4810f0" opacity="0.92"/>
<circle cx="467.4" cy="591.7" r="1.09" fill="#e848ff" opacity="0.89"/>
<circle cx="200.3" cy="542.2" r="1.53" fill="#d010f0" opacity="0.71"/>
<circle cx="397.4" cy="565.8" r="1.45" fill="#d010f0" opacity="0.61"/>
<circle cx="904.0" cy="547.9" r="1.28" fill="#d010f0" opacity="0.84"/>
<circle cx="484.5" cy="611.0" r="1.64" fill="#e848ff" opacity="0.98"/>
<circle cx="781.0" cy="535.1" r="1.10" fill="#c010e8" opacity="0.76"/>
<circle cx="1069.4" cy="451.1" r="1.51" fill="#c010e8" opacity="0.64"/>
<circle cx="257.8" cy="533.7" r="1.62" fill="#e028ff" opacity="0.80"/>
<circle cx="796.8" cy="585.7" r="1.49" fill="#3c08f0" opacity="0.99"/>
<circle cx="935.9" cy="542.3" r="1.62" fill="#6a18ff" opacity="0.67"/>
<circle cx="245.9" cy="526.7" r="1.60" fill="#d010f0" opacity="1.00"/>
<circle cx="629.3" cy="616.7" r="1.12" fill="#5818ff" opacity="0.65"/>
<circle cx="833.7" cy="549.4" r="1.12" fill="#5818ff" opacity="0.95"/>
<circle cx="428.2" cy="578.6" r="1.37" fill="#d010f0" opacity="0.88"/>
<circle cx="29.9" cy="536.0" r="1.50" fill="#3c08f0" opacity="0.83"/>
<circle cx="734.4" cy="581.8" r="1.22" fill="#e848ff" opacity="0.81"/>
<circle cx="99.0" cy="536.1" r="1.30" fill="#4810f0" opacity="0.63"/>
<circle cx="885.8" cy="533.7" r="1.61" fill="#e848ff" opacity="0.71"/>
<circle cx="564.7" cy="617.8" r="1.61" fill="#d010f0" opacity="0.99"/>
<circle cx="423.8" cy="575.7" r="0.89" fill="#e028ff" opacity="0.85"/>
<circle cx="632.0" cy="621.5" r="1.58" fill="#e848ff" opacity="0.74"/>
<circle cx="52.0" cy="532.3" r="1.15" fill="#3c08f0" opacity="0.68"/>
<circle cx="999.9" cy="477.1" r="1.63" fill="#e848ff" opacity="0.78"/>
<circle cx="294.8" cy="520.2" r="1.59" fill="#6a18ff" opacity="0.95"/>
<circle cx="630.1" cy="620.6" r="1.10" fill="#d010f0" opacity="0.69"/>
<circle cx="409.8" cy="589.2" r="1.81" fill="#4a10f8" opacity="0.85"/>
<circle cx="193.8" cy="516.6" r="1.22" fill="#e028ff" opacity="0.72"/>
<circle cx="546.3" cy="618.9" r="1.65" fill="#e848ff" opacity="0.88"/>
<circle cx="399.4" cy="597.2" r="1.29" fill="#3c08f0" opacity="0.94"/>
<circle cx="444.5" cy="593.7" r="1.49" fill="#5818ff" opacity="0.62"/>
<circle cx="593.0" cy="617.2" r="1.01" fill="#5818ff" opacity="0.90"/>
<circle cx="1.5" cy="537.0" r="1.00" fill="#3c08f0" opacity="0.66"/>
<circle cx="108.9" cy="512.1" r="1.53" fill="#5818ff" opacity="0.88"/>
<circle cx="996.6" cy="552.5" r="1.49" fill="#4a10f8" opacity="0.85"/>
<circle cx="748.6" cy="584.7" r="1.63" fill="#c010e8" opacity="0.95"/>
<circle cx="1082.2" cy="539.6" r="1.45" fill="#e848ff" opacity="0.81"/>
<circle cx="702.9" cy="618.5" r="1.50" fill="#6a18ff" opacity="0.99"/>
<circle cx="973.9" cy="488.2" r="0.99" fill="#4810f0" opacity="0.76"/>
<circle cx="905.9" cy="533.5" r="1.75" fill="#5818ff" opacity="0.92"/>
<circle cx="468.0" cy="587.8" r="1.65" fill="#d010f0" opacity="0.90"/>
<circle cx="53.8" cy="532.2" r="1.36" fill="#3c08f0" opacity="0.67"/>
<circle cx="859.6" cy="541.4" r="0.96" fill="#5818ff" opacity="0.71"/>
<circle cx="430.2" cy="606.3" r="2.03" fill="#e028ff" opacity="0.94"/>
<circle cx="1034.8" cy="483.2" r="1.51" fill="#3c08f0" opacity="0.84"/>
<circle cx="926.7" cy="547.3" r="1.84" fill="#c010e8" opacity="0.67"/>
<circle cx="805.8" cy="548.5" r="1.27" fill="#6a18ff" opacity="0.77"/>
<circle cx="108.0" cy="508.0" r="0.83" fill="#c010e8" opacity="0.78"/>
<circle cx="474.5" cy="600.0" r="1.19" fill="#e028ff" opacity="0.82"/>
<circle cx="892.8" cy="546.9" r="1.92" fill="#c010e8" opacity="0.69"/>
<circle cx="892.9" cy="555.9" r="1.87" fill="#6a18ff" opacity="0.88"/>
<circle cx="367.3" cy="596.1" r="1.81" fill="#e028ff" opacity="0.93"/>
<circle cx="546.3" cy="610.1" r="1.41" fill="#5818ff" opacity="0.97"/>
<circle cx="969.5" cy="481.1" r="0.98" fill="#5818ff" opacity="0.75"/>
<circle cx="845.8" cy="525.4" r="1.24" fill="#c010e8" opacity="0.66"/>
<circle cx="467.5" cy="577.2" r="1.01" fill="#e028ff" opacity="0.80"/>
<circle cx="623.4" cy="602.7" r="1.04" fill="#3c08f0" opacity="0.68"/>
<circle cx="49.7" cy="533.4" r="1.04" fill="#6a18ff" opacity="0.68"/>
<circle cx="1057.8" cy="525.6" r="1.57" fill="#3c08f0" opacity="0.70"/>
<circle cx="1067.7" cy="460.2" r="1.30" fill="#e848ff" opacity="0.91"/>
<circle cx="1023.1" cy="476.8" r="1.27" fill="#3c08f0" opacity="0.90"/>
<circle cx="746.2" cy="578.1" r="1.12" fill="#c010e8" opacity="0.84"/>
<circle cx="89.2" cy="529.2" r="1.24" fill="#6a18ff" opacity="0.94"/>
<circle cx="832.6" cy="527.0" r="1.46" fill="#4810f0" opacity="0.90"/>
<circle cx="675.1" cy="605.9" r="1.77" fill="#d010f0" opacity="0.96"/>
<circle cx="715.3" cy="620.4" r="1.34" fill="#3c08f0" opacity="0.91"/>
<circle cx="153.3" cy="537.0" r="1.10" fill="#5818ff" opacity="0.63"/>
<circle cx="493.2" cy="589.5" r="1.48" fill="#4a10f8" opacity="0.94"/>
<circle cx="1092.6" cy="477.2" r="1.32" fill="#6a18ff" opacity="0.94"/>
<circle cx="362.1" cy="535.0" r="1.57" fill="#6a18ff" opacity="0.81"/>
<circle cx="960.8" cy="541.3" r="1.11" fill="#e028ff" opacity="0.85"/>
<circle cx="176.7" cy="527.7" r="1.46" fill="#c010e8" opacity="0.61"/>
<circle cx="503.9" cy="596.5" r="1.38" fill="#4810f0" opacity="0.71"/>
<circle cx="493.9" cy="617.6" r="1.50" fill="#4a10f8" opacity="0.66"/>
<circle cx="1095.8" cy="549.5" r="1.86" fill="#6a18ff" opacity="0.73"/>
<circle cx="732.7" cy="583.3" r="0.76" fill="#3c08f0" opacity="0.71"/>
<circle cx="487.5" cy="601.1" r="0.98" fill="#6a18ff" opacity="0.83"/>
<circle cx="754.7" cy="595.3" r="1.13" fill="#6a18ff" opacity="0.65"/>
<circle cx="464.1" cy="596.1" r="1.46" fill="#e848ff" opacity="0.77"/>
<circle cx="397.1" cy="572.5" r="1.40" fill="#5818ff" opacity="0.63"/>
<circle cx="346.9" cy="527.0" r="1.50" fill="#4a10f8" opacity="0.70"/>
<circle cx="229.5" cy="507.2" r="1.55" fill="#3c08f0" opacity="0.74"/>
<circle cx="589.5" cy="601.6" r="1.52" fill="#6a18ff" opacity="0.84"/>
<circle cx="295.6" cy="531.5" r="1.51" fill="#5818ff" opacity="0.68"/>
<circle cx="552.1" cy="605.1" r="1.29" fill="#3c08f0" opacity="0.67"/>
<circle cx="751.5" cy="559.8" r="1.26" fill="#4810f0" opacity="0.70"/>
<circle cx="50.3" cy="528.1" r="1.38" fill="#6a18ff" opacity="0.73"/>
<circle cx="890.0" cy="543.9" r="1.44" fill="#4810f0" opacity="0.97"/>
<circle cx="448.2" cy="572.5" r="0.84" fill="#5818ff" opacity="0.81"/>
<circle cx="619.8" cy="628.6" r="1.97" fill="#c010e8" opacity="0.63"/>
<circle cx="903.6" cy="502.4" r="1.11" fill="#6a18ff" opacity="0.99"/>
<circle cx="1009.3" cy="544.7" r="1.17" fill="#e848ff" opacity="0.78"/>
<circle cx="290.8" cy="551.5" r="1.19" fill="#e028ff" opacity="0.70"/>
<circle cx="600.0" cy="610.8" r="1.43" fill="#3c08f0" opacity="0.80"/>
<circle cx="225.7" cy="522.7" r="1.09" fill="#3c08f0" opacity="0.90"/>
<circle cx="66.1" cy="545.1" r="1.65" fill="#e848ff" opacity="0.87"/>
<circle cx="906.6" cy="527.1" r="1.22" fill="#3c08f0" opacity="0.95"/>
<circle cx="86.0" cy="526.3" r="1.09" fill="#4a10f8" opacity="0.75"/>
<circle cx="231.2" cy="521.9" r="1.58" fill="#e028ff" opacity="0.93"/>
<circle cx="105.3" cy="519.3" r="1.10" fill="#4a10f8" opacity="0.66"/>
<circle cx="753.9" cy="575.4" r="1.45" fill="#d010f0" opacity="0.69"/>
<circle cx="502.5" cy="597.3" r="1.58" fill="#d010f0" opacity="0.72"/>
<circle cx="540.9" cy="628.1" r="1.41" fill="#4a10f8" opacity="0.88"/>
<circle cx="321.3" cy="579.7" r="1.75" fill="#4810f0" opacity="0.74"/>
<circle cx="388.0" cy="580.6" r="1.06" fill="#6a18ff" opacity="0.60"/>
<circle cx="499.2" cy="618.0" r="1.92" fill="#c010e8" opacity="0.77"/>
<circle cx="33.4" cy="529.1" r="1.13" fill="#3c08f0" opacity="0.79"/>
<circle cx="361.2" cy="583.6" r="1.12" fill="#6a18ff" opacity="0.68"/>
<circle cx="899.7" cy="497.9" r="1.12" fill="#6a18ff" opacity="0.84"/>
<circle cx="465.9" cy="603.9" r="1.18" fill="#4810f0" opacity="0.78"/>
<circle cx="376.9" cy="563.5" r="0.99" fill="#3c08f0" opacity="0.80"/>
<circle cx="662.7" cy="607.4" r="1.26" fill="#6a18ff" opacity="0.68"/>
<circle cx="1080.9" cy="432.0" r="1.19" fill="#3c08f0" opacity="0.74"/>
<circle cx="52.3" cy="535.5" r="1.47" fill="#e848ff" opacity="0.99"/>
<circle cx="696.0" cy="623.0" r="1.89" fill="#e028ff" opacity="0.60"/>
<circle cx="780.7" cy="535.3" r="0.87" fill="#e848ff" opacity="0.92"/>
<circle cx="624.7" cy="619.8" r="1.35" fill="#6a18ff" opacity="0.65"/>
<circle cx="391.7" cy="575.1" r="1.50" fill="#6a18ff" opacity="0.73"/>
<circle cx="368.7" cy="594.8" r="1.93" fill="#4a10f8" opacity="0.85"/>
<circle cx="75.3" cy="528.8" r="1.48" fill="#d010f0" opacity="0.76"/>
<circle cx="316.5" cy="537.5" r="1.25" fill="#e028ff" opacity="0.68"/>
<circle cx="210.4" cy="524.1" r="1.39" fill="#4810f0" opacity="0.90"/>
<circle cx="466.7" cy="596.3" r="1.73" fill="#e028ff" opacity="0.98"/>
<circle cx="808.5" cy="556.5" r="1.26" fill="#6a18ff" opacity="0.71"/>
<circle cx="549.6" cy="618.4" r="1.37" fill="#e848ff" opacity="0.98"/>
<circle cx="304.1" cy="575.0" r="1.63" fill="#e028ff" opacity="0.71"/>
<circle cx="1002.1" cy="477.0" r="1.68" fill="#c010e8" opacity="0.90"/>
<circle cx="926.7" cy="476.3" r="0.85" fill="#3c08f0" opacity="0.87"/>
<circle cx="61.6" cy="523.2" r="0.99" fill="#c010e8" opacity="0.92"/>
<circle cx="270.1" cy="561.8" r="1.28" fill="#5818ff" opacity="0.78"/>
<circle cx="953.9" cy="499.9" r="1.29" fill="#c010e8" opacity="0.89"/>
<circle cx="256.0" cy="536.1" r="1.02" fill="#4a10f8" opacity="0.75"/>
<circle cx="440.2" cy="593.8" r="1.57" fill="#3c08f0" opacity="0.99"/>
<circle cx="52.8" cy="538.6" r="1.04" fill="#4a10f8" opacity="0.62"/>
<circle cx="1074.7" cy="541.5" r="1.39" fill="#4a10f8" opacity="0.86"/>
<circle cx="455.9" cy="599.5" r="1.30" fill="#5818ff" opacity="0.62"/>
<circle cx="146.1" cy="541.2" r="1.49" fill="#e028ff" opacity="0.67"/>
<circle cx="243.5" cy="505.1" r="1.23" fill="#4a10f8" opacity="0.96"/>
<circle cx="884.3" cy="526.1" r="1.56" fill="#d010f0" opacity="0.60"/>
<circle cx="915.7" cy="510.2" r="1.79" fill="#c010e8" opacity="0.73"/>
<circle cx="383.6" cy="585.1" r="1.86" fill="#4810f0" opacity="0.85"/>
<circle cx="267.7" cy="567.6" r="1.19" fill="#5818ff" opacity="0.72"/>
<circle cx="268.8" cy="519.2" r="1.54" fill="#5818ff" opacity="0.72"/>
<circle cx="13.0" cy="544.3" r="1.36" fill="#4a10f8" opacity="0.71"/>
<circle cx="758.0" cy="562.6" r="1.37" fill="#e848ff" opacity="0.79"/>
<circle cx="721.6" cy="599.2" r="1.07" fill="#c010e8" opacity="0.69"/>
<circle cx="922.5" cy="492.9" r="1.68" fill="#4810f0" opacity="0.96"/>
<circle cx="611.3" cy="612.9" r="0.93" fill="#d010f0" opacity="0.78"/>
<circle cx="600.7" cy="624.9" r="1.61" fill="#3c08f0" opacity="0.63"/>
<circle cx="326.1" cy="533.8" r="0.96" fill="#3c08f0" opacity="0.98"/>
<circle cx="797.4" cy="565.0" r="1.43" fill="#c010e8" opacity="0.91"/>
<circle cx="363.4" cy="584.5" r="1.69" fill="#d010f0" opacity="0.76"/>
<circle cx="1090.9" cy="467.0" r="1.10" fill="#3c08f0" opacity="0.95"/>
<circle cx="760.0" cy="554.3" r="0.82" fill="#3c08f0" opacity="0.94"/>
<circle cx="1028.9" cy="470.9" r="1.39" fill="#4810f0" opacity="0.74"/>
<circle cx="599.5" cy="623.7" r="1.26" fill="#d010f0" opacity="0.75"/>
<circle cx="876.7" cy="565.0" r="1.84" fill="#3c08f0" opacity="0.83"/>
<circle cx="415.5" cy="592.1" r="1.23" fill="#4a10f8" opacity="0.91"/>
<circle cx="609.8" cy="619.7" r="1.63" fill="#e848ff" opacity="0.85"/>
<circle cx="391.2" cy="556.7" r="1.00" fill="#d010f0" opacity="0.79"/>
<circle cx="779.6" cy="541.0" r="1.02" fill="#4a10f8" opacity="0.64"/>
<circle cx="170.1" cy="520.3" r="1.17" fill="#3c08f0" opacity="0.72"/>
<circle cx="992.8" cy="532.9" r="1.11" fill="#6a18ff" opacity="0.60"/>
<circle cx="678.8" cy="602.5" r="0.90" fill="#3c08f0" opacity="0.67"/>
<circle cx="979.2" cy="561.3" r="1.57" fill="#3c08f0" opacity="0.95"/>
<circle cx="474.6" cy="579.2" r="0.91" fill="#4a10f8" opacity="0.82"/>
<circle cx="132.6" cy="540.8" r="1.49" fill="#6a18ff" opacity="0.65"/>
<circle cx="560.8" cy="623.6" r="1.23" fill="#4a10f8" opacity="0.86"/>
<circle cx="732.8" cy="596.3" r="1.58" fill="#4a10f8" opacity="0.92"/>
<circle cx="979.4" cy="462.3" r="0.98" fill="#e848ff" opacity="0.94"/>
<circle cx="236.5" cy="502.6" r="1.05" fill="#4a10f8" opacity="0.73"/>
<circle cx="336.6" cy="529.0" r="1.41" fill="#5818ff" opacity="0.90"/>
<circle cx="600.3" cy="613.0" r="1.48" fill="#5818ff" opacity="0.81"/>
<circle cx="499.6" cy="615.8" r="1.52" fill="#5818ff" opacity="0.72"/>
<circle cx="223.3" cy="509.7" r="1.28" fill="#3c08f0" opacity="0.99"/>
<circle cx="542.4" cy="614.7" r="1.60" fill="#3c08f0" opacity="0.94"/>
<circle cx="31.1" cy="542.9" r="1.62" fill="#4a10f8" opacity="0.65"/>
<circle cx="253.4" cy="525.7" r="1.14" fill="#e848ff" opacity="0.82"/>
<circle cx="154.0" cy="532.7" r="1.42" fill="#4810f0" opacity="0.82"/>
<circle cx="991.6" cy="475.3" r="0.93" fill="#4a10f8" opacity="0.73"/>
<circle cx="863.9" cy="505.4" r="0.91" fill="#4a10f8" opacity="0.62"/>
<circle cx="404.4" cy="592.9" r="1.26" fill="#4810f0" opacity="0.81"/>
<circle cx="683.8" cy="624.9" r="1.68" fill="#d010f0" opacity="0.95"/>
<circle cx="1018.9" cy="484.8" r="1.27" fill="#3c08f0" opacity="0.93"/>
<circle cx="729.3" cy="614.9" r="1.72" fill="#3c08f0" opacity="0.92"/>
<circle cx="873.0" cy="508.7" r="0.83" fill="#5818ff" opacity="0.86"/>
<circle cx="572.7" cy="603.2" r="1.06" fill="#d010f0" opacity="0.99"/>
<circle cx="283.8" cy="572.6" r="1.95" fill="#5818ff" opacity="0.78"/>
<circle cx="47.2" cy="538.4" r="1.05" fill="#6a18ff" opacity="0.86"/>
<circle cx="136.0" cy="530.3" r="1.44" fill="#d010f0" opacity="0.72"/>
<circle cx="441.5" cy="580.5" r="1.06" fill="#c010e8" opacity="0.62"/>
<circle cx="406.6" cy="579.2" r="1.64" fill="#4a10f8" opacity="0.68"/>
<circle cx="728.1" cy="589.7" r="1.15" fill="#e848ff" opacity="0.95"/>
<circle cx="777.5" cy="532.1" r="1.60" fill="#6a18ff" opacity="0.68"/>
<circle cx="1078.9" cy="557.0" r="1.33" fill="#4810f0" opacity="0.67"/>
<circle cx="924.2" cy="521.3" r="1.16" fill="#e028ff" opacity="0.70"/>
<circle cx="224.4" cy="536.1" r="1.42" fill="#3c08f0" opacity="0.99"/>
<circle cx="359.3" cy="571.7" r="1.80" fill="#e028ff" opacity="0.78"/>
<circle cx="595.4" cy="622.5" r="1.71" fill="#e848ff" opacity="0.77"/>
<circle cx="501.3" cy="593.4" r="1.27" fill="#5818ff" opacity="0.73"/>
<circle cx="725.3" cy="606.5" r="1.74" fill="#c010e8" opacity="0.97"/>
<circle cx="129.9" cy="512.6" r="1.31" fill="#4810f0" opacity="0.68"/>
<circle cx="498.0" cy="592.5" r="0.96" fill="#6a18ff" opacity="0.93"/>
<circle cx="1098.9" cy="502.4" r="1.51" fill="#e848ff" opacity="0.67"/>
<circle cx="301.6" cy="524.3" r="1.29" fill="#4810f0" opacity="0.93"/>
<circle cx="827.7" cy="559.6" r="1.32" fill="#e028ff" opacity="0.71"/>
<circle cx="1043.6" cy="558.0" r="2.06" fill="#4a10f8" opacity="0.81"/>
<circle cx="637.6" cy="604.1" r="0.98" fill="#3c08f0" opacity="0.84"/>
<circle cx="1070.6" cy="454.7" r="1.32" fill="#d010f0" opacity="0.62"/>
<circle cx="469.6" cy="584.2" r="1.01" fill="#3c08f0" opacity="0.99"/>
<circle cx="454.0" cy="574.4" r="1.08" fill="#e028ff" opacity="0.72"/>
<circle cx="813.6" cy="521.2" r="1.50" fill="#6a18ff" opacity="0.82"/>
<circle cx="694.8" cy="618.3" r="1.24" fill="#e848ff" opacity="0.77"/>
<circle cx="1077.5" cy="559.6" r="1.97" fill="#4a10f8" opacity="0.79"/>
<circle cx="460.1" cy="571.5" r="1.01" fill="#e028ff" opacity="0.78"/>
<circle cx="515.2" cy="624.8" r="1.85" fill="#d010f0" opacity="0.61"/>
<circle cx="527.1" cy="625.5" r="1.89" fill="#e028ff" opacity="0.69"/>
<circle cx="477.6" cy="608.8" r="1.84" fill="#d010f0" opacity="0.75"/>
<circle cx="115.0" cy="543.6" r="1.57" fill="#4a10f8" opacity="0.64"/>
<circle cx="25.2" cy="541.5" r="1.40" fill="#4810f0" opacity="0.81"/>
<circle cx="778.8" cy="542.3" r="1.64" fill="#6a18ff" opacity="0.83"/>
<circle cx="1007.3" cy="454.0" r="1.25" fill="#4810f0" opacity="0.62"/>
<circle cx="798.8" cy="534.9" r="0.77" fill="#6a18ff" opacity="0.64"/>
<circle cx="733.0" cy="591.7" r="0.96" fill="#e848ff" opacity="0.65"/>
<circle cx="48.7" cy="540.5" r="1.31" fill="#d010f0" opacity="0.76"/>
<circle cx="380.6" cy="557.0" r="1.43" fill="#e028ff" opacity="0.68"/>
<circle cx="95.1" cy="507.7" r="1.54" fill="#4a10f8" opacity="0.96"/>
<circle cx="209.5" cy="534.0" r="1.81" fill="#4810f0" opacity="0.66"/>
<circle cx="212.7" cy="516.4" r="1.01" fill="#e028ff" opacity="0.83"/>
<circle cx="304.0" cy="553.2" r="1.81" fill="#5818ff" opacity="0.62"/>
<circle cx="1088.9" cy="470.5" r="1.06" fill="#6a18ff" opacity="0.61"/>
<circle cx="76.3" cy="514.2" r="0.82" fill="#3c08f0" opacity="0.64"/>
<circle cx="906.3" cy="496.4" r="1.34" fill="#5818ff" opacity="0.63"/>
<circle cx="458.4" cy="574.6" r="0.93" fill="#6a18ff" opacity="0.74"/>
<circle cx="1011.8" cy="483.4" r="1.04" fill="#5818ff" opacity="1.00"/>
<circle cx="357.7" cy="540.7" r="1.06" fill="#e028ff" opacity="0.96"/>
<circle cx="497.6" cy="611.1" r="1.79" fill="#d010f0" opacity="0.87"/>
<circle cx="1104.1" cy="507.3" r="1.53" fill="#5818ff" opacity="0.68"/>
<circle cx="1043.2" cy="483.0" r="1.12" fill="#e848ff" opacity="0.91"/>
<circle cx="41.4" cy="529.6" r="0.93" fill="#d010f0" opacity="0.62"/>
<circle cx="788.4" cy="554.6" r="1.47" fill="#3c08f0" opacity="0.88"/>
<circle cx="261.9" cy="556.1" r="1.76" fill="#6a18ff" opacity="0.78"/>
<circle cx="229.4" cy="533.5" r="1.68" fill="#6a18ff" opacity="0.70"/>
<circle cx="871.4" cy="550.7" r="1.30" fill="#c010e8" opacity="0.60"/>
<circle cx="840.9" cy="513.4" r="1.15" fill="#6a18ff" opacity="0.99"/>
<circle cx="106.7" cy="542.5" r="1.46" fill="#e848ff" opacity="0.85"/>
<circle cx="622.5" cy="603.3" r="1.47" fill="#e848ff" opacity="0.65"/>
<circle cx="482.4" cy="589.4" r="0.90" fill="#e028ff" opacity="0.94"/>
<circle cx="699.1" cy="607.4" r="0.91" fill="#e028ff" opacity="0.76"/>
<circle cx="926.7" cy="485.5" r="1.13" fill="#4a10f8" opacity="0.76"/>
<circle cx="309.6" cy="558.5" r="1.62" fill="#6a18ff" opacity="0.63"/>
<circle cx="986.9" cy="464.8" r="0.94" fill="#5818ff" opacity="0.89"/>
<circle cx="453.0" cy="603.6" r="1.33" fill="#5818ff" opacity="0.64"/>
<circle cx="171.6" cy="510.3" r="1.20" fill="#4a10f8" opacity="0.73"/>
<circle cx="189.2" cy="522.4" r="1.25" fill="#c010e8" opacity="0.76"/>
<circle cx="656.2" cy="620.6" r="1.37" fill="#e848ff" opacity="0.97"/>
<circle cx="68.7" cy="539.6" r="1.66" fill="#6a18ff" opacity="0.69"/>
<circle cx="285.2" cy="558.8" r="1.61" fill="#e848ff" opacity="0.99"/>
<circle cx="401.1" cy="597.0" r="1.57" fill="#e028ff" opacity="0.66"/>
<circle cx="470.6" cy="600.4" r="1.17" fill="#e028ff" opacity="0.98"/>
<circle cx="324.7" cy="533.9" r="1.74" fill="#3c08f0" opacity="0.81"/>
<circle cx="1103.5" cy="545.4" r="1.70" fill="#c010e8" opacity="0.69"/>
<circle cx="753.2" cy="607.1" r="1.39" fill="#c010e8" opacity="0.71"/>
<circle cx="906.5" cy="493.9" r="0.84" fill="#c010e8" opacity="0.71"/>
<circle cx="261.7" cy="525.5" r="0.87" fill="#6a18ff" opacity="0.62"/>
<circle cx="116.3" cy="545.3" r="1.37" fill="#3c08f0" opacity="0.81"/>
<circle cx="78.3" cy="512.2" r="1.45" fill="#4a10f8" opacity="0.86"/>
<circle cx="1090.3" cy="554.7" r="1.37" fill="#5818ff" opacity="0.76"/>
<circle cx="638.2" cy="628.0" r="1.97" fill="#c010e8" opacity="0.69"/>
<circle cx="152.1" cy="509.4" r="1.15" fill="#c010e8" opacity="0.78"/>
<circle cx="829.4" cy="570.7" r="1.62" fill="#e848ff" opacity="0.73"/>
<circle cx="742.6" cy="592.7" r="0.95" fill="#c010e8" opacity="0.87"/>
<circle cx="849.2" cy="560.5" r="1.27" fill="#3c08f0" opacity="0.81"/>
<circle cx="939.8" cy="469.8" r="0.86" fill="#5818ff" opacity="0.84"/>
<circle cx="494.7" cy="588.0" r="0.83" fill="#e848ff" opacity="0.71"/>
<circle cx="599.8" cy="613.7" r="1.04" fill="#6a18ff" opacity="0.77"/>
<circle cx="159.0" cy="504.0" r="1.62" fill="#e028ff" opacity="0.72"/>
<circle cx="40.9" cy="530.7" r="1.62" fill="#5818ff" opacity="0.79"/>
<circle cx="235.7" cy="529.3" r="1.38" fill="#e028ff" opacity="0.75"/>
<circle cx="866.7" cy="558.1" r="1.10" fill="#3c08f0" opacity="0.97"/>
<circle cx="943.3" cy="471.0" r="0.79" fill="#3c08f0" opacity="0.87"/>
<circle cx="793.5" cy="540.5" r="0.88" fill="#5818ff" opacity="0.65"/>
<circle cx="761.8" cy="559.9" r="1.68" fill="#6a18ff" opacity="0.94"/>
<circle cx="868.9" cy="547.8" r="1.09" fill="#d010f0" opacity="0.74"/>
<circle cx="774.6" cy="546.8" r="1.07" fill="#e848ff" opacity="0.78"/>
<circle cx="551.5" cy="624.9" r="1.37" fill="#4810f0" opacity="0.91"/>
<circle cx="793.0" cy="563.8" r="1.75" fill="#3c08f0" opacity="0.85"/>
<circle cx="1027.5" cy="491.2" r="1.10" fill="#4810f0" opacity="0.98"/>
<circle cx="786.8" cy="541.4" r="1.00" fill="#6a18ff" opacity="0.71"/>
<circle cx="563.5" cy="622.1" r="1.39" fill="#4810f0" opacity="0.83"/>
<circle cx="1067.9" cy="495.5" r="1.43" fill="#d010f0" opacity="0.87"/>
<circle cx="66.1" cy="529.3" r="1.39" fill="#c010e8" opacity="0.86"/>
<circle cx="149.6" cy="508.4" r="1.12" fill="#e848ff" opacity="0.94"/>
<circle cx="995.4" cy="520.5" r="1.52" fill="#5818ff" opacity="0.85"/>
<circle cx="195.1" cy="516.9" r="1.40" fill="#3c08f0" opacity="0.95"/>
<circle cx="704.4" cy="616.0" r="1.33" fill="#e028ff" opacity="0.62"/>
<circle cx="740.9" cy="591.2" r="0.95" fill="#d010f0" opacity="0.99"/>
<circle cx="805.3" cy="535.6" r="0.78" fill="#5818ff" opacity="0.69"/>
<circle cx="576.4" cy="616.0" r="1.50" fill="#5818ff" opacity="0.98"/>
<circle cx="471.7" cy="595.1" r="1.47" fill="#e848ff" opacity="0.65"/>
<circle cx="603.5" cy="601.9" r="0.86" fill="#4810f0" opacity="0.83"/>
<circle cx="343.9" cy="566.9" r="1.38" fill="#5818ff" opacity="0.61"/>
<circle cx="359.7" cy="535.4" r="0.82" fill="#3c08f0" opacity="0.68"/>
<circle cx="270.8" cy="518.7" r="0.86" fill="#4810f0" opacity="0.74"/>
<circle cx="312.7" cy="524.8" r="0.96" fill="#3c08f0" opacity="0.83"/>
<circle cx="624.4" cy="601.6" r="1.67" fill="#3c08f0" opacity="0.65"/>
<circle cx="621.7" cy="608.4" r="1.42" fill="#4810f0" opacity="0.74"/>
<circle cx="115.2" cy="521.6" r="1.74" fill="#4a10f8" opacity="0.76"/>
<circle cx="982.5" cy="494.9" r="1.43" fill="#6a18ff" opacity="0.85"/>
<circle cx="950.4" cy="511.0" r="1.45" fill="#6a18ff" opacity="0.82"/>
<circle cx="13.0" cy="537.7" r="1.48" fill="#4810f0" opacity="0.78"/>
<circle cx="794.7" cy="561.5" r="1.71" fill="#3c08f0" opacity="0.72"/>
<circle cx="200.2" cy="515.7" r="1.31" fill="#4a10f8" opacity="0.79"/>
<circle cx="1063.1" cy="533.4" r="1.05" fill="#4810f0" opacity="0.81"/>
<circle cx="843.5" cy="550.7" r="2.03" fill="#4a10f8" opacity="0.75"/>
<circle cx="1042.0" cy="536.6" r="1.55" fill="#c010e8" opacity="0.74"/>
<circle cx="767.9" cy="543.0" r="2.02" fill="#e848ff" opacity="0.56"/>
<circle cx="1083.9" cy="503.9" r="1.06" fill="#d010f0" opacity="0.81"/>
<circle cx="1057.4" cy="436.2" r="0.97" fill="#e028ff" opacity="1.00"/>
<circle cx="1011.5" cy="550.0" r="1.18" fill="#4a10f8" opacity="0.77"/>
<circle cx="1013.5" cy="487.4" r="1.37" fill="#c010e8" opacity="0.63"/>
<circle cx="950.6" cy="476.4" r="2.21" fill="#6a18ff" opacity="0.95"/>
<circle cx="1084.2" cy="435.7" r="0.93" fill="#4a10f8" opacity="0.84"/>
<circle cx="848.5" cy="573.1" r="1.80" fill="#3c08f0" opacity="0.91"/>
<circle cx="1006.5" cy="563.5" r="1.40" fill="#5818ff" opacity="0.95"/>
<circle cx="787.1" cy="553.6" r="2.33" fill="#c010e8" opacity="0.68"/>
<circle cx="923.0" cy="568.9" r="1.29" fill="#4a10f8" opacity="0.90"/>
<circle cx="1027.9" cy="531.4" r="1.72" fill="#e848ff" opacity="0.78"/>
<circle cx="885.6" cy="492.9" r="1.65" fill="#e028ff" opacity="0.94"/>
<circle cx="1079.0" cy="553.3" r="1.21" fill="#d010f0" opacity="0.96"/>
<circle cx="1052.7" cy="498.4" r="1.66" fill="#4a10f8" opacity="0.87"/>
<circle cx="1050.5" cy="537.0" r="1.19" fill="#c010e8" opacity="0.84"/>
<circle cx="820.0" cy="544.8" r="1.65" fill="#4a10f8" opacity="0.90"/>
<circle cx="1041.7" cy="452.9" r="1.23" fill="#d010f0" opacity="0.89"/>
<circle cx="895.2" cy="492.0" r="1.71" fill="#6a18ff" opacity="0.78"/>
<circle cx="886.6" cy="569.9" r="2.07" fill="#4810f0" opacity="0.56"/>
<circle cx="977.8" cy="468.0" r="0.73" fill="#d010f0" opacity="0.89"/>
<circle cx="852.7" cy="582.1" r="1.13" fill="#e028ff" opacity="0.87"/>
<circle cx="1038.0" cy="463.7" r="2.31" fill="#e028ff" opacity="0.71"/>
<circle cx="879.5" cy="519.1" r="2.59" fill="#6a18ff" opacity="0.74"/>
<circle cx="810.0" cy="553.0" r="1.62" fill="#4810f0" opacity="0.91"/>
<circle cx="928.7" cy="501.2" r="0.83" fill="#c010e8" opacity="0.68"/>
<circle cx="1056.7" cy="524.5" r="1.34" fill="#5818ff" opacity="0.83"/>
<circle cx="860.9" cy="522.8" r="1.49" fill="#6a18ff" opacity="0.98"/>
<circle cx="830.8" cy="536.3" r="1.43" fill="#e028ff" opacity="0.86"/>
<circle cx="1070.0" cy="484.3" r="2.23" fill="#6a18ff" opacity="0.70"/>
<circle cx="1002.4" cy="481.1" r="2.35" fill="#6a18ff" opacity="0.98"/>
<circle cx="864.8" cy="571.0" r="2.32" fill="#d010f0" opacity="0.93"/>
<circle cx="909.3" cy="552.8" r="1.42" fill="#d010f0" opacity="0.66"/>
<circle cx="1057.8" cy="451.2" r="1.42" fill="#5818ff" opacity="0.64"/>
<circle cx="947.6" cy="504.8" r="1.11" fill="#4810f0" opacity="0.81"/>
<circle cx="839.6" cy="542.8" r="1.02" fill="#c010e8" opacity="0.75"/>
<circle cx="1089.1" cy="553.6" r="1.22" fill="#e028ff" opacity="0.64"/>
<circle cx="857.0" cy="513.9" r="0.84" fill="#c010e8" opacity="0.78"/>
<circle cx="884.4" cy="489.3" r="1.22" fill="#6a18ff" opacity="0.75"/>
<circle cx="899.9" cy="551.4" r="2.56" fill="#d010f0" opacity="0.84"/>
<circle cx="917.6" cy="565.4" r="1.67" fill="#5818ff" opacity="0.79"/>
<circle cx="915.0" cy="495.6" r="2.76" fill="#3c08f0" opacity="0.61"/>
<circle cx="1092.1" cy="491.2" r="1.66" fill="#c010e8" opacity="0.57"/>
<circle cx="944.9" cy="510.0" r="1.46" fill="#4810f0" opacity="0.56"/>
<circle cx="1072.9" cy="545.7" r="1.49" fill="#4810f0" opacity="0.63"/>
<circle cx="906.5" cy="511.6" r="1.04" fill="#4a10f8" opacity="0.89"/>
<circle cx="981.0" cy="481.1" r="0.91" fill="#d010f0" opacity="0.96"/>
<circle cx="1000.5" cy="500.4" r="0.92" fill="#e028ff" opacity="0.61"/>
<circle cx="1008.3" cy="560.7" r="2.08" fill="#4810f0" opacity="0.62"/>
<circle cx="1029.6" cy="475.9" r="2.59" fill="#3c08f0" opacity="0.75"/>
<circle cx="1070.9" cy="519.8" r="1.29" fill="#4a10f8" opacity="0.79"/>
<circle cx="798.5" cy="540.4" r="2.22" fill="#e848ff" opacity="0.90"/>
<circle cx="828.1" cy="550.8" r="0.89" fill="#c010e8" opacity="0.98"/>
<circle cx="1032.8" cy="474.9" r="2.11" fill="#6a18ff" opacity="0.73"/>
<circle cx="1013.0" cy="485.7" r="1.83" fill="#3c08f0" opacity="0.78"/>
<circle cx="1077.3" cy="507.0" r="1.18" fill="#d010f0" opacity="0.71"/>
<circle cx="1027.4" cy="474.1" r="1.18" fill="#4a10f8" opacity="0.81"/>
<circle cx="1052.3" cy="439.7" r="1.32" fill="#c010e8" opacity="0.92"/>
<circle cx="984.5" cy="486.4" r="2.15" fill="#3c08f0" opacity="0.90"/>
<circle cx="920.7" cy="500.7" r="1.77" fill="#4a10f8" opacity="0.93"/>
<circle cx="794.6" cy="553.0" r="1.90" fill="#e848ff" opacity="0.60"/>
<circle cx="950.2" cy="476.0" r="0.81" fill="#6a18ff" opacity="0.87"/>
<circle cx="904.8" cy="537.1" r="1.91" fill="#e848ff" opacity="0.68"/>
<circle cx="941.2" cy="560.1" r="2.09" fill="#6a18ff" opacity="0.56"/>
<circle cx="1094.5" cy="538.8" r="1.92" fill="#d010f0" opacity="0.72"/>
<circle cx="995.0" cy="567.2" r="1.45" fill="#3c08f0" opacity="0.98"/>
<circle cx="1020.9" cy="515.1" r="1.56" fill="#6a18ff" opacity="0.73"/>
<circle cx="976.5" cy="511.6" r="1.49" fill="#d010f0" opacity="0.97"/>
<circle cx="870.2" cy="530.4" r="2.16" fill="#e848ff" opacity="0.56"/>
<circle cx="834.7" cy="569.6" r="1.23" fill="#4810f0" opacity="0.99"/>
<circle cx="859.1" cy="529.8" r="1.99" fill="#c010e8" opacity="0.78"/>
<circle cx="985.5" cy="496.9" r="1.36" fill="#4810f0" opacity="0.87"/>
<circle cx="998.0" cy="526.4" r="2.28" fill="#c010e8" opacity="0.74"/>
<circle cx="1012.7" cy="554.9" r="1.07" fill="#4a10f8" opacity="0.82"/>
<circle cx="1016.0" cy="446.2" r="0.73" fill="#5818ff" opacity="0.62"/>
<circle cx="973.3" cy="456.9" r="0.76" fill="#6a18ff" opacity="0.66"/>
<circle cx="1014.1" cy="532.4" r="1.21" fill="#3c08f0" opacity="0.86"/>
<circle cx="851.6" cy="562.9" r="1.10" fill="#4a10f8" opacity="0.99"/>
<circle cx="1096.6" cy="476.7" r="1.94" fill="#6a18ff" opacity="0.58"/>
<circle cx="952.5" cy="468.7" r="0.73" fill="#5818ff" opacity="0.71"/>
<circle cx="983.8" cy="459.2" r="1.28" fill="#e848ff" opacity="0.70"/>
<circle cx="1062.2" cy="460.7" r="1.87" fill="#c010e8" opacity="0.89"/>
<circle cx="896.7" cy="479.0" r="2.21" fill="#4810f0" opacity="0.57"/>
<circle cx="841.1" cy="565.5" r="1.16" fill="#4a10f8" opacity="0.69"/>
<circle cx="792.4" cy="542.5" r="1.13" fill="#e848ff" opacity="0.88"/>
<circle cx="861.9" cy="577.1" r="1.80" fill="#3c08f0" opacity="0.69"/>
<circle cx="964.5" cy="471.7" r="2.38" fill="#e028ff" opacity="0.82"/>
<circle cx="958.8" cy="518.8" r="0.92" fill="#6a18ff" opacity="0.57"/>
<circle cx="960.9" cy="518.8" r="1.72" fill="#4a10f8" opacity="1.00"/>
<circle cx="1059.3" cy="452.8" r="0.84" fill="#5818ff" opacity="0.89"/>
<circle cx="989.0" cy="516.6" r="1.09" fill="#e028ff" opacity="0.65"/>
<circle cx="1091.9" cy="479.4" r="1.60" fill="#4810f0" opacity="0.83"/>
<circle cx="971.6" cy="548.6" r="2.49" fill="#e028ff" opacity="0.97"/>
<circle cx="849.5" cy="562.2" r="1.42" fill="#4a10f8" opacity="0.85"/>
<circle cx="1086.5" cy="551.7" r="1.12" fill="#4a10f8" opacity="0.84"/>
<circle cx="987.8" cy="464.7" r="2.20" fill="#d010f0" opacity="0.99"/>
<circle cx="1017.4" cy="486.1" r="1.05" fill="#e028ff" opacity="0.65"/>
<circle cx="1044.7" cy="516.2" r="2.56" fill="#6a18ff" opacity="0.71"/>
<circle cx="949.3" cy="536.4" r="1.13" fill="#4810f0" opacity="0.99"/>
<circle cx="823.4" cy="573.8" r="1.87" fill="#d010f0" opacity="0.61"/>
<circle cx="800.9" cy="559.8" r="1.84" fill="#4a10f8" opacity="0.75"/>
<circle cx="1010.1" cy="520.5" r="2.22" fill="#d010f0" opacity="0.82"/>
<circle cx="864.9" cy="565.5" r="1.05" fill="#4810f0" opacity="0.61"/>
<circle cx="781.7" cy="562.3" r="2.50" fill="#4a10f8" opacity="0.83"/>
<circle cx="1070.2" cy="434.9" r="0.84" fill="#5818ff" opacity="0.68"/>
<circle cx="943.2" cy="506.4" r="2.52" fill="#e848ff" opacity="0.86"/>
<circle cx="781.8" cy="535.8" r="0.91" fill="#4a10f8" opacity="0.78"/>
<circle cx="867.3" cy="564.0" r="1.09" fill="#3c08f0" opacity="0.95"/>
<circle cx="914.6" cy="478.3" r="2.05" fill="#5818ff" opacity="0.88"/>
<circle cx="919.2" cy="564.3" r="2.42" fill="#4a10f8" opacity="0.90"/>
<circle cx="991.2" cy="493.7" r="1.57" fill="#6a18ff" opacity="0.63"/>
<circle cx="945.2" cy="541.5" r="1.59" fill="#5818ff" opacity="0.95"/>
<circle cx="1023.9" cy="505.7" r="0.93" fill="#c010e8" opacity="0.81"/>
<circle cx="882.4" cy="550.7" r="1.47" fill="#3c08f0" opacity="0.68"/>
<circle cx="835.1" cy="525.8" r="1.09" fill="#d010f0" opacity="0.99"/>
<circle cx="1037.6" cy="523.9" r="0.98" fill="#e848ff" opacity="0.97"/>
<circle cx="1002.7" cy="492.1" r="1.50" fill="#6a18ff" opacity="0.83"/>
<circle cx="1087.5" cy="557.5" r="2.99" fill="#6a18ff" opacity="0.55"/>
<circle cx="1040.7" cy="471.9" r="2.44" fill="#e028ff" opacity="0.80"/>
<circle cx="964.2" cy="566.9" r="2.56" fill="#4a10f8" opacity="0.62"/>
<circle cx="1019.2" cy="552.8" r="2.13" fill="#3c08f0" opacity="0.80"/>
<circle cx="925.1" cy="524.6" r="1.85" fill="#e848ff" opacity="0.89"/>
<circle cx="986.9" cy="496.0" r="2.02" fill="#4810f0" opacity="0.90"/>
<circle cx="1087.3" cy="492.5" r="1.02" fill="#d010f0" opacity="0.75"/>
<circle cx="1021.3" cy="457.0" r="1.99" fill="#4810f0" opacity="0.66"/>
<circle cx="897.1" cy="556.6" r="2.11" fill="#e848ff" opacity="0.82"/>
<circle cx="1100.6" cy="464.9" r="1.73" fill="#d010f0" opacity="0.79"/>
<circle cx="788.8" cy="538.6" r="1.04" fill="#c010e8" opacity="0.68"/>
<circle cx="992.5" cy="542.5" r="1.31" fill="#e848ff" opacity="0.62"/>
<circle cx="851.5" cy="576.1" r="1.23" fill="#3c08f0" opacity="0.97"/>
<circle cx="1043.7" cy="524.5" r="1.07" fill="#4810f0" opacity="0.99"/>
<circle cx="1026.6" cy="541.9" r="1.39" fill="#c010e8" opacity="0.84"/>
<circle cx="861.1" cy="554.4" r="1.07" fill="#3c08f0" opacity="0.64"/>
<circle cx="1073.8" cy="546.7" r="1.11" fill="#3c08f0" opacity="0.91"/>
<circle cx="1055.3" cy="536.4" r="1.46" fill="#6a18ff" opacity="0.70"/>
<circle cx="872.9" cy="558.1" r="1.88" fill="#4810f0" opacity="0.89"/>
<circle cx="970.8" cy="534.8" r="1.39" fill="#3c08f0" opacity="0.60"/>
<circle cx="1049.6" cy="504.0" r="2.26" fill="#5818ff" opacity="0.99"/>
<circle cx="1098.3" cy="449.0" r="2.17" fill="#5818ff" opacity="0.75"/>
<circle cx="1056.5" cy="527.1" r="2.99" fill="#e028ff" opacity="0.85"/>
<circle cx="1097.0" cy="504.7" r="2.16" fill="#6a18ff" opacity="0.71"/>
<circle cx="1073.3" cy="436.0" r="1.87" fill="#4810f0" opacity="0.78"/>
<circle cx="1027.8" cy="502.9" r="1.61" fill="#e848ff" opacity="0.67"/>
<circle cx="1033.6" cy="565.4" r="1.09" fill="#e848ff" opacity="0.84"/>
<circle cx="870.1" cy="564.4" r="1.14" fill="#6a18ff" opacity="0.62"/>
<circle cx="1034.7" cy="484.5" r="2.76" fill="#5818ff" opacity="0.82"/>
<circle cx="974.0" cy="478.4" r="1.82" fill="#3c08f0" opacity="0.95"/>
<circle cx="977.4" cy="515.1" r="0.91" fill="#3c08f0" opacity="0.55"/>
<circle cx="875.9" cy="515.8" r="0.82" fill="#3c08f0" opacity="0.65"/>
<circle cx="998.9" cy="478.4" r="1.41" fill="#3c08f0" opacity="0.82"/>
<circle cx="799.1" cy="571.5" r="1.00" fill="#6a18ff" opacity="0.81"/>
<circle cx="1099.8" cy="499.0" r="0.96" fill="#4a10f8" opacity="0.88"/>
<circle cx="966.4" cy="544.7" r="2.19" fill="#4810f0" opacity="0.70"/>
<circle cx="1008.3" cy="504.0" r="1.40" fill="#e848ff" opacity="0.85"/>
<circle cx="1025.9" cy="512.6" r="1.25" fill="#5818ff" opacity="0.98"/>
<circle cx="1071.3" cy="502.9" r="1.86" fill="#4810f0" opacity="0.74"/>
<circle cx="934.2" cy="515.2" r="1.42" fill="#e848ff" opacity="0.73"/>
<circle cx="783.1" cy="549.8" r="1.06" fill="#5818ff" opacity="0.85"/>
<circle cx="1039.9" cy="446.0" r="0.75" fill="#4a10f8" opacity="0.97"/>
<circle cx="1005.3" cy="497.3" r="1.11" fill="#d010f0" opacity="0.71"/>
<circle cx="1028.0" cy="483.6" r="1.91" fill="#5818ff" opacity="0.75"/>
<circle cx="989.7" cy="464.3" r="0.99" fill="#e028ff" opacity="0.73"/>
<circle cx="973.2" cy="561.9" r="1.20" fill="#4a10f8" opacity="0.60"/>
<circle cx="925.1" cy="544.1" r="1.01" fill="#4a10f8" opacity="0.79"/>
<circle cx="915.6" cy="492.7" r="1.66" fill="#4810f0" opacity="0.66"/>
<circle cx="1037.8" cy="507.3" r="1.89" fill="#e848ff" opacity="0.72"/>
<circle cx="869.8" cy="556.7" r="2.57" fill="#6a18ff" opacity="0.91"/>
<circle cx="1051.9" cy="432.4" r="0.70" fill="#3c08f0" opacity="0.95"/>
<circle cx="1032.8" cy="546.4" r="1.11" fill="#e848ff" opacity="0.87"/>
<circle cx="881.2" cy="554.9" r="2.08" fill="#3c08f0" opacity="0.76"/>
<circle cx="945.4" cy="470.5" r="0.76" fill="#e028ff" opacity="0.89"/>
<circle cx="762.1" cy="596.2" r="1.57" fill="#c010e8" opacity="0.98"/>
<circle cx="1018.9" cy="462.1" r="1.83" fill="#5818ff" opacity="0.70"/>
<circle cx="1031.8" cy="526.1" r="1.87" fill="#5818ff" opacity="0.57"/>
<circle cx="892.2" cy="540.8" r="0.97" fill="#c010e8" opacity="0.85"/>
<circle cx="1089.0" cy="490.3" r="0.98" fill="#c010e8" opacity="0.66"/>
<circle cx="1104.4" cy="542.3" r="1.08" fill="#3c08f0" opacity="0.76"/>
<circle cx="843.0" cy="554.2" r="1.99" fill="#4a10f8" opacity="0.79"/>
<circle cx="1025.3" cy="493.0" r="2.30" fill="#d010f0" opacity="0.82"/>
<circle cx="1006.4" cy="537.4" r="1.03" fill="#e848ff" opacity="0.88"/>
<circle cx="1000.0" cy="537.4" r="2.22" fill="#d010f0" opacity="0.80"/>
<circle cx="1075.7" cy="437.2" r="1.90" fill="#4a10f8" opacity="0.87"/>
<circle cx="857.2" cy="544.5" r="0.99" fill="#4a10f8" opacity="1.00"/>
<circle cx="1065.4" cy="436.1" r="2.58" fill="#d010f0" opacity="0.90"/>
<circle cx="801.7" cy="535.3" r="2.33" fill="#3c08f0" opacity="0.68"/>
<circle cx="863.4" cy="551.2" r="1.40" fill="#4810f0" opacity="0.76"/>
<circle cx="958.8" cy="558.0" r="1.94" fill="#6a18ff" opacity="0.96"/>
<circle cx="963.5" cy="466.7" r="1.62" fill="#e028ff" opacity="0.56"/>
<circle cx="829.2" cy="541.7" r="2.19" fill="#6a18ff" opacity="0.89"/>
<circle cx="994.0" cy="511.2" r="0.93" fill="#e028ff" opacity="0.62"/>
<circle cx="961.4" cy="530.4" r="2.08" fill="#e848ff" opacity="0.68"/>
<circle cx="854.6" cy="526.3" r="0.84" fill="#6a18ff" opacity="0.81"/>
<circle cx="983.7" cy="493.2" r="1.61" fill="#c010e8" opacity="0.58"/>
<circle cx="941.5" cy="551.1" r="1.05" fill="#5818ff" opacity="0.64"/>
<circle cx="1046.6" cy="467.1" r="2.01" fill="#4810f0" opacity="0.92"/>
<circle cx="795.6" cy="585.9" r="1.27" fill="#3c08f0" opacity="0.72"/>
<circle cx="1005.8" cy="451.8" r="0.71" fill="#6a18ff" opacity="0.57"/>
<circle cx="1063.9" cy="508.2" r="0.96" fill="#4a10f8" opacity="0.59"/>
<circle cx="964.0" cy="492.0" r="1.86" fill="#5818ff" opacity="0.60"/>
<circle cx="968.7" cy="474.5" r="0.75" fill="#e848ff" opacity="0.70"/>
<circle cx="1096.5" cy="429.9" r="0.83" fill="#c010e8" opacity="0.64"/>
<circle cx="836.1" cy="575.3" r="2.01" fill="#4a10f8" opacity="0.63"/>
<circle cx="1036.2" cy="439.3" r="2.31" fill="#3c08f0" opacity="0.65"/>
<circle cx="1077.8" cy="517.8" r="1.01" fill="#4a10f8" opacity="0.93"/>
<circle cx="929.1" cy="567.2" r="1.60" fill="#4a10f8" opacity="0.65"/>
<circle cx="841.1" cy="539.7" r="0.93" fill="#4a10f8" opacity="0.90"/>
<circle cx="827.6" cy="555.8" r="1.81" fill="#4810f0" opacity="0.76"/>
<circle cx="962.0" cy="554.7" r="1.08" fill="#e848ff" opacity="0.93"/>
<circle cx="952.4" cy="496.2" r="1.31" fill="#6a18ff" opacity="0.63"/>
<circle cx="898.1" cy="508.3" r="1.23" fill="#e028ff" opacity="0.83"/>
<circle cx="947.1" cy="561.2" r="1.81" fill="#d010f0" opacity="0.66"/>
<circle cx="913.6" cy="511.2" r="2.55" fill="#c010e8" opacity="0.86"/>
<circle cx="1088.8" cy="528.9" r="1.36" fill="#5818ff" opacity="0.82"/>
<circle cx="1057.4" cy="548.1" r="1.12" fill="#3c08f0" opacity="0.61"/>
<circle cx="982.8" cy="466.7" r="1.01" fill="#4a10f8" opacity="0.99"/>
<circle cx="892.1" cy="494.5" r="0.75" fill="#c010e8" opacity="0.65"/>
<circle cx="1088.2" cy="517.4" r="1.09" fill="#4810f0" opacity="0.75"/>
<circle cx="1079.6" cy="486.9" r="2.56" fill="#d010f0" opacity="0.64"/>
<circle cx="859.3" cy="551.5" r="1.65" fill="#c010e8" opacity="0.61"/>
<circle cx="944.8" cy="462.9" r="1.20" fill="#4a10f8" opacity="0.78"/>
<circle cx="1067.4" cy="526.7" r="1.00" fill="#4810f0" opacity="0.66"/>
<circle cx="875.0" cy="562.4" r="2.12" fill="#4a10f8" opacity="0.93"/>
<circle cx="931.9" cy="536.6" r="2.83" fill="#5818ff" opacity="0.64"/>
<circle cx="877.3" cy="509.7" r="0.77" fill="#d010f0" opacity="0.88"/>
<circle cx="1069.8" cy="543.0" r="2.55" fill="#4810f0" opacity="0.83"/>
<circle cx="863.7" cy="520.8" r="0.96" fill="#e848ff" opacity="0.71"/>
<circle cx="796.5" cy="558.8" r="1.84" fill="#4810f0" opacity="0.95"/>
<circle cx="1105.0" cy="537.2" r="1.05" fill="#d010f0" opacity="0.89"/>
<circle cx="1016.6" cy="445.6" r="0.71" fill="#4a10f8" opacity="0.89"/>
<circle cx="906.4" cy="488.4" r="2.54" fill="#e848ff" opacity="0.60"/>
<circle cx="845.0" cy="544.1" r="1.21" fill="#e028ff" opacity="0.64"/>
<circle cx="884.8" cy="516.3" r="0.88" fill="#4810f0" opacity="0.92"/>
<circle cx="826.0" cy="567.7" r="2.85" fill="#6a18ff" opacity="0.85"/>
<circle cx="916.2" cy="542.1" r="1.87" fill="#e848ff" opacity="0.76"/>
<circle cx="1017.3" cy="467.2" r="1.19" fill="#d010f0" opacity="0.71"/>
<circle cx="992.3" cy="570.9" r="1.17" fill="#d010f0" opacity="0.73"/>
<circle cx="1069.6" cy="551.6" r="2.58" fill="#c010e8" opacity="0.92"/>
<circle cx="998.9" cy="484.3" r="2.15" fill="#5818ff" opacity="0.66"/>
<circle cx="1058.0" cy="485.5" r="1.51" fill="#4a10f8" opacity="0.85"/>
<circle cx="1096.5" cy="508.4" r="2.16" fill="#3c08f0" opacity="0.59"/>
<circle cx="1035.1" cy="514.6" r="0.95" fill="#d010f0" opacity="0.87"/>
<circle cx="1058.3" cy="557.2" r="2.16" fill="#c010e8" opacity="0.63"/>
<circle cx="1004.5" cy="506.9" r="1.47" fill="#4810f0" opacity="0.72"/>
<circle cx="992.5" cy="474.7" r="0.75" fill="#d010f0" opacity="0.94"/>
<circle cx="894.6" cy="518.1" r="1.22" fill="#4a10f8" opacity="0.55"/>
<circle cx="868.3" cy="544.1" r="1.18" fill="#5818ff" opacity="0.96"/>
<circle cx="1005.1" cy="565.7" r="1.11" fill="#5818ff" opacity="0.56"/>
<circle cx="1092.2" cy="514.7" r="1.01" fill="#5818ff" opacity="0.66"/>
<circle cx="874.3" cy="516.4" r="0.86" fill="#5818ff" opacity="0.62"/>
<circle cx="826.4" cy="544.9" r="1.93" fill="#5818ff" opacity="0.69"/>
<circle cx="895.2" cy="522.1" r="1.03" fill="#6a18ff" opacity="0.78"/>
<circle cx="931.5" cy="496.1" r="1.02" fill="#d010f0" opacity="0.96"/>
<circle cx="1048.0" cy="554.9" r="1.07" fill="#5818ff" opacity="0.82"/>
<circle cx="1020.3" cy="515.1" r="0.94" fill="#6a18ff" opacity="0.99"/>
<circle cx="1062.0" cy="499.9" r="1.86" fill="#e028ff" opacity="0.87"/>
<circle cx="972.4" cy="542.8" r="1.64" fill="#6a18ff" opacity="0.94"/>
<circle cx="838.6" cy="578.2" r="2.41" fill="#e028ff" opacity="0.90"/>
<circle cx="846.0" cy="580.2" r="2.22" fill="#5818ff" opacity="0.87"/>
<circle cx="883.3" cy="570.1" r="1.11" fill="#e028ff" opacity="0.80"/>
<circle cx="1019.1" cy="490.9" r="1.15" fill="#5818ff" opacity="0.97"/>
<circle cx="1070.5" cy="513.9" r="1.61" fill="#4810f0" opacity="0.72"/>
<circle cx="1096.8" cy="485.1" r="1.43" fill="#4a10f8" opacity="0.87"/>
<circle cx="1009.9" cy="486.0" r="1.45" fill="#4810f0" opacity="0.77"/>
<circle cx="1086.8" cy="526.7" r="1.71" fill="#e848ff" opacity="1.00"/>
<circle cx="978.6" cy="542.2" r="1.46" fill="#4810f0" opacity="0.79"/>
<circle cx="884.0" cy="508.4" r="2.01" fill="#4a10f8" opacity="0.58"/>
<circle cx="816.9" cy="570.1" r="1.77" fill="#6a18ff" opacity="0.66"/>
<circle cx="960.8" cy="564.7" r="1.54" fill="#6a18ff" opacity="0.60"/>
<circle cx="936.7" cy="474.8" r="1.86" fill="#d010f0" opacity="0.70"/>
<circle cx="932.9" cy="512.9" r="0.90" fill="#5818ff" opacity="0.62"/>
<circle cx="855.3" cy="520.5" r="1.37" fill="#4a10f8" opacity="0.71"/>
<circle cx="1005.6" cy="491.0" r="2.27" fill="#c010e8" opacity="0.81"/>
<circle cx="1086.9" cy="447.2" r="1.20" fill="#e848ff" opacity="0.71"/>
<circle cx="1000.3" cy="491.0" r="0.91" fill="#3c08f0" opacity="0.77"/>
<circle cx="1031.1" cy="537.2" r="1.75" fill="#e028ff" opacity="0.85"/>
<circle cx="816.6" cy="558.0" r="1.85" fill="#e848ff" opacity="0.92"/>
<circle cx="808.4" cy="536.4" r="0.97" fill="#3c08f0" opacity="0.94"/>
<circle cx="977.7" cy="474.5" r="0.76" fill="#4a10f8" opacity="0.64"/>
<circle cx="845.8" cy="515.2" r="1.21" fill="#c010e8" opacity="0.70"/>
<circle cx="894.7" cy="529.1" r="1.97" fill="#3c08f0" opacity="0.56"/>
<circle cx="1028.7" cy="441.2" r="0.70" fill="#c010e8" opacity="0.79"/>
<circle cx="931.9" cy="516.6" r="1.01" fill="#4a10f8" opacity="0.70"/>
<circle cx="861.8" cy="518.5" r="1.81" fill="#e848ff" opacity="0.81"/>
<circle cx="951.6" cy="480.8" r="1.04" fill="#e028ff" opacity="0.79"/>
<circle cx="886.6" cy="549.5" r="1.65" fill="#3c08f0" opacity="0.62"/>
<circle cx="771.2" cy="555.3" r="1.47" fill="#6a18ff" opacity="0.65"/>
<circle cx="785.6" cy="570.0" r="1.00" fill="#e848ff" opacity="0.80"/>
<circle cx="1061.4" cy="506.6" r="2.70" fill="#4a10f8" opacity="0.62"/>
<circle cx="876.3" cy="545.7" r="1.07" fill="#4810f0" opacity="0.62"/>
<circle cx="1023.8" cy="495.3" r="0.95" fill="#3c08f0" opacity="0.98"/>
<circle cx="1095.9" cy="467.6" r="0.87" fill="#e028ff" opacity="0.61"/>
<circle cx="1014.4" cy="529.5" r="1.02" fill="#4a10f8" opacity="0.68"/>
<circle cx="949.7" cy="517.8" r="1.76" fill="#3c08f0" opacity="0.65"/>
<circle cx="1005.5" cy="513.8" r="2.83" fill="#3c08f0" opacity="0.73"/>
<circle cx="886.9" cy="560.9" r="1.41" fill="#3c08f0" opacity="0.79"/>
<circle cx="825.9" cy="557.7" r="1.79" fill="#6a18ff" opacity="0.87"/>
<circle cx="1076.9" cy="567.4" r="2.14" fill="#e028ff" opacity="0.93"/>
<circle cx="954.3" cy="538.6" r="1.27" fill="#c010e8" opacity="0.97"/>
<circle cx="872.4" cy="500.7" r="0.73" fill="#6a18ff" opacity="0.91"/>
<circle cx="853.9" cy="567.0" r="1.70" fill="#e028ff" opacity="0.67"/>
<circle cx="864.4" cy="533.7" r="0.98" fill="#3c08f0" opacity="0.67"/>
<circle cx="938.4" cy="510.0" r="1.37" fill="#e848ff" opacity="0.90"/>
<circle cx="940.2" cy="556.5" r="2.77" fill="#5818ff" opacity="0.95"/>
<circle cx="1013.2" cy="471.2" r="1.81" fill="#6a18ff" opacity="0.87"/>
<circle cx="966.8" cy="519.0" r="0.90" fill="#d010f0" opacity="0.72"/>
<circle cx="919.0" cy="493.3" r="1.19" fill="#4810f0" opacity="0.97"/>
<circle cx="936.7" cy="499.7" r="1.84" fill="#e028ff" opacity="0.77"/>
<circle cx="913.3" cy="559.9" r="1.74" fill="#4a10f8" opacity="0.60"/>
<circle cx="1023.0" cy="450.2" r="0.74" fill="#6a18ff" opacity="0.84"/>
<circle cx="812.2" cy="541.4" r="1.05" fill="#4810f0" opacity="0.61"/>
<circle cx="1063.7" cy="550.1" r="1.24" fill="#3c08f0" opacity="0.86"/>
<circle cx="891.0" cy="563.1" r="1.94" fill="#e028ff" opacity="0.66"/>
<circle cx="960.8" cy="499.6" r="1.71" fill="#e848ff" opacity="0.90"/>
<circle cx="1036.1" cy="561.4" r="1.31" fill="#4810f0" opacity="0.76"/>
<circle cx="1059.0" cy="508.5" r="1.40" fill="#e028ff" opacity="0.57"/>
<circle cx="915.0" cy="547.3" r="2.84" fill="#5818ff" opacity="0.62"/>
<circle cx="1082.6" cy="516.9" r="2.58" fill="#e028ff" opacity="0.99"/>
<circle cx="999.1" cy="460.8" r="0.74" fill="#6a18ff" opacity="0.57"/>
<circle cx="1007.8" cy="563.6" r="1.21" fill="#e028ff" opacity="0.87"/>
<circle cx="1022.6" cy="485.8" r="1.34" fill="#4a10f8" opacity="0.91"/>
<circle cx="1104.2" cy="444.6" r="2.18" fill="#e028ff" opacity="0.96"/>
<circle cx="972.6" cy="495.8" r="2.30" fill="#d010f0" opacity="0.87"/>
<circle cx="903.4" cy="568.6" r="1.12" fill="#e848ff" opacity="0.73"/>
<circle cx="1095.6" cy="470.8" r="1.79" fill="#3c08f0" opacity="0.83"/>
<circle cx="906.6" cy="505.0" r="0.86" fill="#4a10f8" opacity="0.81"/>
<circle cx="950.2" cy="571.8" r="2.79" fill="#4810f0" opacity="0.81"/>
<circle cx="979.5" cy="549.5" r="2.00" fill="#3c08f0" opacity="0.60"/>
<circle cx="1010.1" cy="469.2" r="1.41" fill="#d010f0" opacity="0.62"/>
<circle cx="1078.0" cy="507.2" r="2.85" fill="#6a18ff" opacity="0.82"/>
<circle cx="1087.5" cy="523.2" r="1.00" fill="#5818ff" opacity="0.73"/>
<circle cx="825.4" cy="524.0" r="1.96" fill="#6a18ff" opacity="0.70"/>
<circle cx="1026.4" cy="526.2" r="2.70" fill="#6a18ff" opacity="0.85"/>
<circle cx="945.4" cy="511.3" r="1.55" fill="#3c08f0" opacity="0.74"/>
<circle cx="795.5" cy="532.1" r="0.73" fill="#e848ff" opacity="0.94"/>
<circle cx="857.6" cy="523.5" r="1.28" fill="#4810f0" opacity="0.78"/>
<circle cx="1019.3" cy="487.4" r="2.33" fill="#e028ff" opacity="1.00"/>
<circle cx="875.3" cy="548.2" r="0.97" fill="#4810f0" opacity="0.95"/>
<circle cx="866.6" cy="562.1" r="1.15" fill="#4a10f8" opacity="0.78"/>
<circle cx="965.6" cy="471.9" r="1.77" fill="#e028ff" opacity="0.93"/>
<circle cx="880.9" cy="534.2" r="2.74" fill="#4810f0" opacity="0.68"/>
<circle cx="807.4" cy="565.2" r="1.49" fill="#4a10f8" opacity="0.84"/>
<circle cx="1100.7" cy="518.2" r="1.42" fill="#e028ff" opacity="1.00"/>
<circle cx="1076.9" cy="428.0" r="2.71" fill="#4810f0" opacity="0.60"/>
<circle cx="1021.3" cy="532.0" r="2.29" fill="#5818ff" opacity="0.90"/>
<circle cx="1091.5" cy="530.7" r="2.72" fill="#4a10f8" opacity="0.77"/>
<circle cx="855.1" cy="562.1" r="1.85" fill="#6a18ff" opacity="0.84"/>
<circle cx="939.1" cy="522.3" r="1.15" fill="#e848ff" opacity="0.86"/>
<circle cx="904.1" cy="536.3" r="2.43" fill="#4a10f8" opacity="0.73"/>
<circle cx="820.4" cy="534.2" r="0.83" fill="#3c08f0" opacity="0.68"/>
<circle cx="809.9" cy="540.5" r="1.36" fill="#5818ff" opacity="0.83"/>
<circle cx="971.9" cy="557.8" r="2.81" fill="#4810f0" opacity="0.98"/>
<circle cx="1015.9" cy="514.6" r="0.92" fill="#4a10f8" opacity="0.73"/>
<circle cx="931.6" cy="539.8" r="2.51" fill="#6a18ff" opacity="0.63"/>
<circle cx="896.4" cy="518.8" r="0.91" fill="#4810f0" opacity="0.63"/>
<circle cx="1038.5" cy="545.5" r="1.82" fill="#d010f0" opacity="0.94"/>
<circle cx="922.8" cy="558.5" r="1.02" fill="#c010e8" opacity="0.65"/>
<circle cx="901.4" cy="483.1" r="1.01" fill="#3c08f0" opacity="0.97"/>
<circle cx="831.5" cy="542.9" r="0.89" fill="#d010f0" opacity="0.88"/>
<circle cx="973.4" cy="570.2" r="1.17" fill="#6a18ff" opacity="0.89"/>
<circle cx="813.5" cy="553.8" r="1.10" fill="#d010f0" opacity="0.74"/>
<circle cx="966.1" cy="504.9" r="1.28" fill="#c010e8" opacity="0.95"/>
<circle cx="915.3" cy="488.7" r="1.53" fill="#e028ff" opacity="0.55"/>
<circle cx="920.8" cy="520.9" r="1.10" fill="#4a10f8" opacity="0.61"/>
<circle cx="782.2" cy="579.1" r="1.15" fill="#4a10f8" opacity="0.67"/>
<circle cx="995.8" cy="543.0" r="1.85" fill="#4a10f8" opacity="0.79"/>
<circle cx="894.8" cy="538.6" r="0.99" fill="#6a18ff" opacity="0.76"/>
<circle cx="1091.4" cy="446.2" r="1.22" fill="#4810f0" opacity="0.67"/>
<circle cx="853.3" cy="512.3" r="1.81" fill="#3c08f0" opacity="0.92"/>
<circle cx="973.9" cy="542.4" r="1.74" fill="#e848ff" opacity="0.89"/>
<circle cx="881.3" cy="515.8" r="1.51" fill="#4a10f8" opacity="0.70"/>
<circle cx="1098.0" cy="482.5" r="0.90" fill="#d010f0" opacity="0.75"/>
<circle cx="866.5" cy="500.7" r="2.30" fill="#4810f0" opacity="0.88"/>
<circle cx="951.4" cy="550.0" r="1.87" fill="#d010f0" opacity="0.73"/>
<circle cx="883.2" cy="559.4" r="3.03" fill="#4810f0" opacity="0.56"/>
<circle cx="1018.5" cy="449.1" r="2.48" fill="#e848ff" opacity="0.86"/>
<circle cx="1011.2" cy="475.2" r="2.33" fill="#d010f0" opacity="0.74"/>
<circle cx="1094.2" cy="500.1" r="2.42" fill="#c010e8" opacity="0.97"/>
<circle cx="1022.0" cy="509.6" r="1.81" fill="#e848ff" opacity="0.67"/>
<circle cx="1038.8" cy="523.9" r="1.31" fill="#e028ff" opacity="0.73"/>
<circle cx="925.5" cy="505.1" r="0.86" fill="#3c08f0" opacity="0.58"/>
<circle cx="1051.9" cy="463.8" r="2.45" fill="#4a10f8" opacity="0.73"/>
<circle cx="1029.8" cy="556.8" r="1.46" fill="#c010e8" opacity="0.67"/>
<circle cx="1092.8" cy="546.3" r="1.39" fill="#4810f0" opacity="0.65"/>
<circle cx="954.3" cy="552.8" r="1.08" fill="#4810f0" opacity="0.79"/>
<circle cx="896.6" cy="524.0" r="1.44" fill="#e848ff" opacity="0.59"/>
<circle cx="927.1" cy="532.9" r="1.99" fill="#4810f0" opacity="0.99"/>
<circle cx="1037.4" cy="540.0" r="1.20" fill="#c010e8" opacity="0.68"/>
<circle cx="1012.5" cy="504.9" r="0.90" fill="#d010f0" opacity="0.68"/>
<circle cx="803.5" cy="577.0" r="2.14" fill="#4a10f8" opacity="0.64"/>
<circle cx="984.5" cy="475.6" r="0.79" fill="#6a18ff" opacity="0.57"/>
<circle cx="1077.2" cy="446.7" r="0.82" fill="#d010f0" opacity="0.56"/>
<circle cx="1023.3" cy="452.0" r="0.76" fill="#e848ff" opacity="0.57"/>
<circle cx="1094.9" cy="449.1" r="0.86" fill="#4810f0" opacity="0.97"/>
<circle cx="928.8" cy="484.8" r="0.82" fill="#e028ff" opacity="0.62"/>
<circle cx="940.1" cy="570.1" r="1.32" fill="#d010f0" opacity="0.82"/>
<circle cx="1103.5" cy="520.6" r="2.14" fill="#5818ff" opacity="0.90"/>
<circle cx="1102.7" cy="445.8" r="2.67" fill="#d010f0" opacity="0.63"/>
<circle cx="810.9" cy="570.4" r="2.70" fill="#d010f0" opacity="0.71"/>
<circle cx="1083.0" cy="513.0" r="1.10" fill="#6a18ff" opacity="0.63"/>
<circle cx="988.8" cy="523.5" r="0.95" fill="#d010f0" opacity="0.57"/>
<circle cx="964.6" cy="493.9" r="1.57" fill="#e028ff" opacity="0.76"/>
<circle cx="1067.4" cy="462.6" r="2.15" fill="#d010f0" opacity="0.59"/>
<circle cx="977.9" cy="477.5" r="0.92" fill="#6a18ff" opacity="0.91"/>
<circle cx="796.6" cy="574.1" r="1.09" fill="#5818ff" opacity="0.98"/>
<circle cx="1022.2" cy="506.8" r="1.15" fill="#4a10f8" opacity="0.91"/>
<circle cx="1022.7" cy="534.7" r="1.15" fill="#d010f0" opacity="0.70"/>
<circle cx="855.9" cy="549.2" r="1.33" fill="#c010e8" opacity="0.79"/>
<circle cx="882.5" cy="537.0" r="0.98" fill="#e028ff" opacity="0.56"/>
<circle cx="1081.0" cy="511.0" r="1.79" fill="#6a18ff" opacity="0.75"/>
<circle cx="901.2" cy="479.9" r="1.54" fill="#e848ff" opacity="0.70"/>
<circle cx="913.0" cy="562.3" r="1.07" fill="#e848ff" opacity="0.69"/>
<circle cx="1002.1" cy="480.1" r="2.20" fill="#3c08f0" opacity="0.96"/>
<circle cx="873.4" cy="518.2" r="1.29" fill="#6a18ff" opacity="0.94"/>
<circle cx="849.9" cy="534.0" r="0.82" fill="#4a10f8" opacity="0.75"/>
<circle cx="848.7" cy="551.1" r="1.18" fill="#5818ff" opacity="0.88"/>
<circle cx="783.5" cy="562.8" r="0.97" fill="#6a18ff" opacity="0.95"/>
<circle cx="1049.6" cy="434.7" r="1.88" fill="#5818ff" opacity="0.67"/>
<circle cx="912.2" cy="469.7" r="2.44" fill="#5818ff" opacity="0.77"/>
<circle cx="896.4" cy="482.3" r="0.73" fill="#5818ff" opacity="0.82"/>
<circle cx="949.1" cy="522.1" r="1.94" fill="#e028ff" opacity="0.90"/>
<circle cx="1056.4" cy="501.5" r="2.81" fill="#e848ff" opacity="0.57"/>
<circle cx="992.3" cy="563.4" r="1.70" fill="#c010e8" opacity="0.77"/>
<circle cx="923.7" cy="468.5" r="0.84" fill="#e028ff" opacity="0.79"/>
<circle cx="1073.0" cy="482.2" r="0.86" fill="#d010f0" opacity="0.78"/>
<circle cx="816.6" cy="528.9" r="2.30" fill="#e848ff" opacity="0.75"/>
<circle cx="946.1" cy="536.4" r="1.72" fill="#3c08f0" opacity="0.61"/>
<circle cx="940.5" cy="535.4" r="2.26" fill="#6a18ff" opacity="0.61"/>
<circle cx="912.6" cy="482.9" r="1.66" fill="#6a18ff" opacity="0.55"/>
<circle cx="936.4" cy="501.1" r="1.68" fill="#4a10f8" opacity="0.90"/>
<circle cx="823.1" cy="553.5" r="1.73" fill="#4a10f8" opacity="0.97"/>
<circle cx="984.7" cy="549.0" r="1.84" fill="#e028ff" opacity="0.55"/>
<circle cx="1007.8" cy="486.6" r="0.89" fill="#d010f0" opacity="0.76"/>
<circle cx="1074.8" cy="442.0" r="2.58" fill="#c010e8" opacity="0.88"/>
<circle cx="1076.5" cy="432.5" r="0.72" fill="#c010e8" opacity="0.86"/>
<circle cx="1013.7" cy="551.8" r="1.45" fill="#4a10f8" opacity="0.93"/>
<circle cx="822.1" cy="533.8" r="1.09" fill="#6a18ff" opacity="0.83"/>
<circle cx="1097.9" cy="448.0" r="1.95" fill="#c010e8" opacity="0.70"/>
<circle cx="1079.5" cy="523.1" r="2.11" fill="#c010e8" opacity="0.84"/>
<circle cx="1012.3" cy="510.2" r="1.06" fill="#4a10f8" opacity="0.80"/>
<circle cx="927.1" cy="503.6" r="0.83" fill="#3c08f0" opacity="0.84"/>
<circle cx="825.8" cy="551.9" r="2.15" fill="#d010f0" opacity="0.59"/>
<circle cx="781.0" cy="547.6" r="1.60" fill="#6a18ff" opacity="0.72"/>
<circle cx="1090.1" cy="539.7" r="1.82" fill="#4810f0" opacity="0.74"/>
<circle cx="1068.3" cy="528.9" r="1.01" fill="#4810f0" opacity="0.63"/>
<circle cx="1033.3" cy="494.1" r="1.98" fill="#e848ff" opacity="0.71"/>
<circle cx="947.6" cy="486.8" r="0.87" fill="#6a18ff" opacity="0.62"/>
<circle cx="986.5" cy="531.1" r="2.52" fill="#4a10f8" opacity="0.56"/>
<circle cx="957.6" cy="469.4" r="0.85" fill="#5818ff" opacity="0.83"/>
<circle cx="837.6" cy="544.1" r="2.39" fill="#4810f0" opacity="0.93"/>
<circle cx="936.3" cy="494.3" r="2.58" fill="#5818ff" opacity="0.75"/>
<circle cx="1013.2" cy="530.4" r="2.39" fill="#6a18ff" opacity="0.73"/>
<circle cx="827.5" cy="566.8" r="1.05" fill="#5818ff" opacity="0.84"/>
<circle cx="871.0" cy="551.1" r="2.71" fill="#5818ff" opacity="0.87"/>
<circle cx="1040.2" cy="537.6" r="1.02" fill="#6a18ff" opacity="0.76"/>
<circle cx="1080.9" cy="547.2" r="1.27" fill="#e848ff" opacity="0.76"/>
<circle cx="1097.0" cy="515.2" r="0.99" fill="#c010e8" opacity="0.58"/>
<circle cx="953.0" cy="465.6" r="2.02" fill="#c010e8" opacity="0.90"/>
<circle cx="1063.4" cy="434.4" r="1.80" fill="#4a10f8" opacity="0.79"/>
<circle cx="1092.5" cy="501.5" r="1.63" fill="#3c08f0" opacity="0.78"/>
<circle cx="1025.7" cy="496.7" r="2.81" fill="#e028ff" opacity="0.82"/>
<circle cx="820.8" cy="544.9" r="1.81" fill="#d010f0" opacity="0.66"/>
<circle cx="1071.8" cy="431.8" r="0.71" fill="#e848ff" opacity="0.58"/>
<circle cx="958.8" cy="494.4" r="2.41" fill="#d010f0" opacity="0.92"/>
<circle cx="844.5" cy="573.8" r="2.46" fill="#4810f0" opacity="0.65"/>
<circle cx="1077.0" cy="550.5" r="1.71" fill="#5818ff" opacity="0.76"/>
<circle cx="1084.9" cy="542.8" r="2.20" fill="#d010f0" opacity="0.60"/>
<circle cx="1058.8" cy="517.1" r="2.10" fill="#5818ff" opacity="0.90"/>
<circle cx="857.5" cy="521.1" r="0.83" fill="#6a18ff" opacity="0.99"/>
<circle cx="874.9" cy="566.6" r="1.11" fill="#4810f0" opacity="0.72"/>
<circle cx="1020.8" cy="460.4" r="0.94" fill="#5818ff" opacity="0.86"/>
<circle cx="1020.7" cy="481.5" r="0.91" fill="#5818ff" opacity="0.63"/>
<circle cx="912.0" cy="507.1" r="0.87" fill="#c010e8" opacity="0.96"/>
<circle cx="967.1" cy="548.7" r="3.02" fill="#6a18ff" opacity="0.99"/>
<circle cx="980.1" cy="550.2" r="2.54" fill="#c010e8" opacity="0.69"/>
<circle cx="1004.0" cy="527.0" r="0.96" fill="#3c08f0" opacity="0.74"/>
<circle cx="1009.4" cy="457.4" r="2.33" fill="#4810f0" opacity="0.67"/>
<circle cx="850.8" cy="517.9" r="1.46" fill="#5818ff" opacity="0.99"/></g>
<g filter="url(#b1)"><circle cx="671.9" cy="618.5" r="2.55" fill="#4810f0" opacity="0.67"/>
<circle cx="956.3" cy="558.7" r="2.25" fill="#c010e8" opacity="0.82"/>
<circle cx="200.0" cy="551.0" r="2.43" fill="#4a10f8" opacity="0.94"/>
<circle cx="910.9" cy="570.6" r="1.31" fill="#4a10f8" opacity="0.86"/>
<circle cx="31.4" cy="553.4" r="1.88" fill="#5818ff" opacity="0.82"/>
<circle cx="341.7" cy="590.2" r="1.66" fill="#5818ff" opacity="0.97"/>
<circle cx="409.2" cy="599.6" r="1.73" fill="#d010f0" opacity="0.82"/>
<circle cx="451.1" cy="604.4" r="1.66" fill="#4a10f8" opacity="0.80"/>
<circle cx="835.6" cy="592.9" r="2.60" fill="#d010f0" opacity="0.92"/>
<circle cx="302.6" cy="574.7" r="1.83" fill="#5818ff" opacity="0.96"/>
<circle cx="67.8" cy="550.1" r="2.43" fill="#e848ff" opacity="0.79"/>
<circle cx="245.9" cy="564.6" r="1.73" fill="#e848ff" opacity="0.91"/>
<circle cx="1035.1" cy="571.1" r="2.68" fill="#5818ff" opacity="0.72"/>
<circle cx="491.4" cy="622.4" r="2.69" fill="#c010e8" opacity="0.76"/>
<circle cx="947.3" cy="557.3" r="1.81" fill="#e848ff" opacity="0.95"/>
<circle cx="131.1" cy="544.3" r="1.26" fill="#d010f0" opacity="0.68"/>
<circle cx="483.2" cy="621.8" r="2.22" fill="#6a18ff" opacity="0.95"/>
<circle cx="430.6" cy="607.6" r="2.23" fill="#6a18ff" opacity="0.95"/>
<circle cx="124.9" cy="546.8" r="1.64" fill="#d010f0" opacity="0.82"/>
<circle cx="547.3" cy="634.3" r="2.29" fill="#5818ff" opacity="0.97"/>
<circle cx="223.8" cy="564.0" r="1.23" fill="#6a18ff" opacity="0.69"/>
<circle cx="383.7" cy="577.7" r="1.28" fill="#e848ff" opacity="0.73"/>
<circle cx="448.8" cy="616.7" r="2.01" fill="#c010e8" opacity="0.74"/>
<circle cx="475.8" cy="634.4" r="1.91" fill="#e028ff" opacity="0.96"/>
<circle cx="83.7" cy="546.5" r="1.21" fill="#4a10f8" opacity="0.84"/>
<circle cx="354.0" cy="591.2" r="1.25" fill="#e848ff" opacity="0.74"/>
<circle cx="70.9" cy="553.1" r="2.31" fill="#6a18ff" opacity="0.86"/>
<circle cx="549.5" cy="639.9" r="2.08" fill="#e848ff" opacity="0.99"/>
<circle cx="469.6" cy="606.6" r="2.36" fill="#4a10f8" opacity="0.77"/>
<circle cx="756.3" cy="597.8" r="2.56" fill="#d010f0" opacity="0.86"/>
<circle cx="325.5" cy="590.9" r="1.81" fill="#5818ff" opacity="0.96"/>
<circle cx="206.7" cy="550.6" r="1.90" fill="#c010e8" opacity="0.89"/>
<circle cx="173.6" cy="544.5" r="2.53" fill="#d010f0" opacity="0.75"/>
<circle cx="976.0" cy="560.9" r="1.63" fill="#4810f0" opacity="0.75"/>
<circle cx="15.2" cy="549.1" r="1.70" fill="#e848ff" opacity="0.96"/>
<circle cx="668.1" cy="628.2" r="2.31" fill="#d010f0" opacity="0.79"/>
<circle cx="580.3" cy="635.5" r="1.21" fill="#e848ff" opacity="0.97"/>
<circle cx="731.8" cy="619.4" r="2.26" fill="#d010f0" opacity="0.93"/>
<circle cx="221.7" cy="554.7" r="2.43" fill="#4810f0" opacity="0.76"/>
<circle cx="623.2" cy="618.9" r="1.54" fill="#c010e8" opacity="0.83"/>
<circle cx="476.1" cy="615.4" r="1.27" fill="#6a18ff" opacity="0.96"/>
<circle cx="869.9" cy="567.3" r="2.27" fill="#5818ff" opacity="0.75"/>
<circle cx="148.7" cy="540.1" r="2.15" fill="#4a10f8" opacity="0.85"/>
<circle cx="523.4" cy="641.9" r="2.31" fill="#e028ff" opacity="0.81"/>
<circle cx="1071.8" cy="558.1" r="1.57" fill="#4a10f8" opacity="0.87"/>
<circle cx="454.6" cy="598.5" r="2.26" fill="#4810f0" opacity="0.87"/>
<circle cx="425.2" cy="615.7" r="1.50" fill="#c010e8" opacity="0.72"/>
<circle cx="918.5" cy="567.7" r="2.24" fill="#3c08f0" opacity="0.86"/>
<circle cx="803.7" cy="591.1" r="2.21" fill="#c010e8" opacity="0.73"/>
<circle cx="716.8" cy="630.4" r="2.15" fill="#c010e8" opacity="0.74"/>
<circle cx="682.6" cy="628.2" r="2.44" fill="#4a10f8" opacity="0.88"/>
<circle cx="454.9" cy="596.4" r="2.50" fill="#3c08f0" opacity="0.67"/>
<circle cx="1010.3" cy="578.6" r="2.19" fill="#e028ff" opacity="0.98"/>
<circle cx="681.8" cy="624.6" r="2.57" fill="#e848ff" opacity="0.85"/>
<circle cx="1082.0" cy="565.6" r="1.30" fill="#5818ff" opacity="0.71"/>
<circle cx="247.4" cy="567.9" r="2.42" fill="#e028ff" opacity="0.88"/>
<circle cx="557.9" cy="631.8" r="1.41" fill="#c010e8" opacity="0.81"/>
<circle cx="147.2" cy="545.7" r="1.70" fill="#c010e8" opacity="0.69"/>
<circle cx="950.6" cy="570.8" r="1.93" fill="#e028ff" opacity="0.71"/>
<circle cx="765.1" cy="611.8" r="1.24" fill="#e028ff" opacity="0.69"/>
<circle cx="954.6" cy="580.4" r="2.41" fill="#3c08f0" opacity="0.93"/>
<circle cx="651.5" cy="635.6" r="2.01" fill="#d010f0" opacity="0.88"/>
<circle cx="804.7" cy="578.6" r="1.69" fill="#c010e8" opacity="0.81"/>
<circle cx="937.9" cy="560.9" r="2.17" fill="#3c08f0" opacity="0.93"/>
<circle cx="417.8" cy="598.2" r="1.88" fill="#5818ff" opacity="1.00"/>
<circle cx="161.0" cy="540.0" r="1.35" fill="#6a18ff" opacity="0.67"/>
<circle cx="-1.5" cy="555.4" r="1.87" fill="#5818ff" opacity="0.83"/>
<circle cx="415.4" cy="601.3" r="2.31" fill="#d010f0" opacity="0.83"/>
<circle cx="216.8" cy="546.7" r="2.31" fill="#5818ff" opacity="0.72"/>
<circle cx="298.4" cy="575.3" r="1.22" fill="#4a10f8" opacity="0.95"/>
<circle cx="773.9" cy="589.5" r="2.00" fill="#d010f0" opacity="0.71"/>
<circle cx="198.9" cy="546.0" r="2.01" fill="#e848ff" opacity="0.82"/>
<circle cx="107.0" cy="549.9" r="1.76" fill="#5818ff" opacity="1.00"/>
<circle cx="243.1" cy="569.0" r="2.21" fill="#c010e8" opacity="0.90"/>
<circle cx="730.6" cy="629.8" r="1.50" fill="#e028ff" opacity="0.74"/>
<circle cx="941.8" cy="569.0" r="2.34" fill="#4a10f8" opacity="0.93"/>
<circle cx="1095.5" cy="560.2" r="2.13" fill="#4810f0" opacity="0.74"/>
<circle cx="943.9" cy="568.9" r="2.32" fill="#e028ff" opacity="0.79"/>
<circle cx="324.5" cy="572.4" r="2.14" fill="#e028ff" opacity="0.66"/>
<circle cx="331.9" cy="591.0" r="2.01" fill="#3c08f0" opacity="0.77"/>
<circle cx="450.4" cy="616.7" r="1.44" fill="#d010f0" opacity="0.82"/>
<circle cx="653.9" cy="632.6" r="1.79" fill="#e848ff" opacity="0.69"/>
<circle cx="984.4" cy="562.6" r="1.99" fill="#e028ff" opacity="0.90"/>
<circle cx="247.9" cy="560.9" r="1.64" fill="#e848ff" opacity="0.65"/>
<circle cx="103.2" cy="545.4" r="2.67" fill="#6a18ff" opacity="0.99"/>
<circle cx="311.3" cy="574.6" r="2.40" fill="#5818ff" opacity="0.73"/>
<circle cx="54.4" cy="547.4" r="2.70" fill="#4a10f8" opacity="0.69"/>
<circle cx="442.1" cy="610.1" r="1.71" fill="#4810f0" opacity="0.94"/>
<circle cx="148.9" cy="543.5" r="2.09" fill="#c010e8" opacity="0.85"/>
<circle cx="297.2" cy="578.4" r="2.66" fill="#4810f0" opacity="0.91"/>
<circle cx="276.6" cy="572.5" r="2.34" fill="#3c08f0" opacity="0.83"/>
<circle cx="5.6" cy="552.6" r="2.51" fill="#6a18ff" opacity="0.92"/>
<circle cx="497.1" cy="618.0" r="1.89" fill="#6a18ff" opacity="0.88"/>
<circle cx="239.7" cy="565.4" r="2.47" fill="#e848ff" opacity="0.69"/>
<circle cx="730.4" cy="607.2" r="2.11" fill="#4a10f8" opacity="0.77"/>
<circle cx="1059.6" cy="548.0" r="1.62" fill="#d010f0" opacity="0.68"/>
<circle cx="296.1" cy="579.3" r="1.48" fill="#e028ff" opacity="0.99"/>
<circle cx="895.7" cy="578.2" r="2.49" fill="#c010e8" opacity="0.96"/>
<circle cx="1091.2" cy="571.5" r="2.55" fill="#4a10f8" opacity="0.89"/>
<circle cx="439.4" cy="609.0" r="1.32" fill="#e028ff" opacity="0.90"/>
<circle cx="142.5" cy="535.3" r="2.08" fill="#e028ff" opacity="0.78"/>
<circle cx="987.6" cy="570.0" r="2.04" fill="#5818ff" opacity="0.69"/>
<circle cx="773.9" cy="589.2" r="1.55" fill="#5818ff" opacity="0.97"/>
<circle cx="199.4" cy="557.0" r="2.64" fill="#e028ff" opacity="0.89"/>
<circle cx="690.6" cy="609.3" r="1.84" fill="#5818ff" opacity="0.97"/>
<circle cx="715.3" cy="633.3" r="1.28" fill="#d010f0" opacity="0.69"/>
<circle cx="524.9" cy="628.4" r="2.38" fill="#5818ff" opacity="0.80"/>
<circle cx="883.7" cy="582.9" r="2.42" fill="#4a10f8" opacity="0.67"/>
<circle cx="270.7" cy="574.1" r="2.05" fill="#e848ff" opacity="0.99"/>
<circle cx="90.0" cy="547.4" r="2.49" fill="#4810f0" opacity="0.77"/>
<circle cx="635.2" cy="621.6" r="2.09" fill="#3c08f0" opacity="0.91"/>
<circle cx="914.0" cy="562.6" r="2.43" fill="#3c08f0" opacity="0.76"/>
<circle cx="161.8" cy="539.4" r="1.60" fill="#c010e8" opacity="0.89"/>
<circle cx="1102.4" cy="560.8" r="1.63" fill="#4810f0" opacity="0.77"/>
<circle cx="839.9" cy="569.2" r="1.50" fill="#3c08f0" opacity="0.85"/>
<circle cx="422.8" cy="614.3" r="1.47" fill="#e848ff" opacity="0.91"/>
<circle cx="329.0" cy="566.7" r="2.54" fill="#e028ff" opacity="0.88"/>
<circle cx="936.0" cy="561.1" r="2.37" fill="#e028ff" opacity="0.84"/>
<circle cx="979.6" cy="571.4" r="1.32" fill="#d010f0" opacity="0.77"/>
<circle cx="273.7" cy="574.0" r="1.39" fill="#e028ff" opacity="0.83"/>
<circle cx="695.5" cy="625.3" r="1.44" fill="#d010f0" opacity="0.84"/>
<circle cx="748.8" cy="600.9" r="1.93" fill="#e848ff" opacity="0.75"/>
<circle cx="988.3" cy="554.0" r="2.08" fill="#5818ff" opacity="0.70"/>
<circle cx="1092.4" cy="550.1" r="2.61" fill="#4a10f8" opacity="0.85"/>
<circle cx="1062.5" cy="548.7" r="2.00" fill="#3c08f0" opacity="0.70"/>
<circle cx="89.2" cy="547.9" r="2.33" fill="#e848ff" opacity="0.75"/>
<circle cx="278.2" cy="579.8" r="1.49" fill="#6a18ff" opacity="0.89"/>
<circle cx="1058.2" cy="559.8" r="2.44" fill="#e028ff" opacity="0.84"/>
<circle cx="453.6" cy="612.8" r="1.31" fill="#5818ff" opacity="0.85"/>
<circle cx="586.2" cy="641.8" r="2.03" fill="#e028ff" opacity="0.74"/>
<circle cx="606.6" cy="636.1" r="1.81" fill="#e028ff" opacity="0.80"/>
<circle cx="237.0" cy="565.2" r="2.03" fill="#e028ff" opacity="0.67"/>
<circle cx="660.8" cy="622.3" r="1.46" fill="#e848ff" opacity="0.94"/>
<circle cx="890.3" cy="560.3" r="1.70" fill="#4810f0" opacity="0.70"/>
<circle cx="1086.0" cy="568.3" r="2.26" fill="#c010e8" opacity="0.78"/>
<circle cx="608.6" cy="635.4" r="1.74" fill="#c010e8" opacity="0.77"/>
<circle cx="508.5" cy="631.4" r="1.92" fill="#4810f0" opacity="0.69"/>
<circle cx="244.8" cy="563.5" r="2.62" fill="#6a18ff" opacity="1.00"/>
<circle cx="65.5" cy="550.8" r="2.21" fill="#6a18ff" opacity="0.94"/>
<circle cx="398.6" cy="616.9" r="2.37" fill="#d010f0" opacity="0.91"/>
<circle cx="338.2" cy="581.8" r="2.35" fill="#c010e8" opacity="0.72"/>
<circle cx="73.0" cy="550.9" r="1.76" fill="#3c08f0" opacity="0.67"/>
<circle cx="1098.7" cy="568.5" r="2.26" fill="#d010f0" opacity="0.87"/>
<circle cx="90.4" cy="548.1" r="1.38" fill="#4810f0" opacity="0.79"/>
<circle cx="1010.8" cy="583.2" r="1.73" fill="#e848ff" opacity="0.85"/>
<circle cx="536.5" cy="626.4" r="2.12" fill="#e848ff" opacity="0.88"/>
<circle cx="345.6" cy="595.3" r="1.86" fill="#c010e8" opacity="0.75"/>
<circle cx="410.9" cy="609.2" r="2.36" fill="#c010e8" opacity="0.87"/>
<circle cx="589.7" cy="638.8" r="1.78" fill="#e848ff" opacity="0.97"/>
<circle cx="58.4" cy="545.4" r="2.66" fill="#3c08f0" opacity="0.92"/>
<circle cx="720.3" cy="620.2" r="1.60" fill="#4a10f8" opacity="0.76"/>
<circle cx="99.2" cy="544.9" r="2.36" fill="#c010e8" opacity="0.66"/>
<circle cx="665.3" cy="622.8" r="2.48" fill="#3c08f0" opacity="0.86"/>
<circle cx="916.2" cy="560.8" r="1.93" fill="#4a10f8" opacity="0.87"/>
<circle cx="599.2" cy="626.3" r="1.94" fill="#e028ff" opacity="0.99"/>
<circle cx="4.3" cy="546.0" r="1.77" fill="#d010f0" opacity="0.80"/>
<circle cx="410.9" cy="601.2" r="2.44" fill="#4a10f8" opacity="0.83"/>
<circle cx="935.6" cy="577.4" r="2.63" fill="#4a10f8" opacity="0.82"/>
<circle cx="512.9" cy="632.7" r="1.27" fill="#e028ff" opacity="0.88"/>
<circle cx="764.2" cy="588.9" r="1.62" fill="#4a10f8" opacity="0.89"/>
<circle cx="302.0" cy="583.7" r="1.51" fill="#e028ff" opacity="0.79"/>
<circle cx="196.2" cy="547.0" r="2.32" fill="#d010f0" opacity="0.72"/>
<circle cx="702.4" cy="631.6" r="1.23" fill="#e028ff" opacity="0.75"/>
<circle cx="819.2" cy="578.5" r="1.50" fill="#3c08f0" opacity="0.77"/>
<circle cx="685.7" cy="634.9" r="2.42" fill="#d010f0" opacity="0.74"/>
<circle cx="215.8" cy="556.7" r="2.19" fill="#d010f0" opacity="0.93"/>
<circle cx="175.6" cy="543.7" r="2.23" fill="#d010f0" opacity="0.99"/>
<circle cx="641.6" cy="621.8" r="1.73" fill="#c010e8" opacity="0.85"/>
<circle cx="42.7" cy="552.9" r="2.05" fill="#e028ff" opacity="0.67"/>
<circle cx="658.8" cy="638.8" r="1.94" fill="#4a10f8" opacity="0.75"/>
<circle cx="646.5" cy="621.3" r="2.39" fill="#4a10f8" opacity="0.78"/>
<circle cx="485.9" cy="612.9" r="2.32" fill="#c010e8" opacity="0.83"/>
<circle cx="823.2" cy="583.3" r="1.61" fill="#e848ff" opacity="0.79"/>
<circle cx="635.7" cy="631.2" r="1.85" fill="#e848ff" opacity="0.82"/>
<circle cx="293.9" cy="577.5" r="2.39" fill="#6a18ff" opacity="0.88"/>
<circle cx="9.7" cy="551.4" r="1.63" fill="#4a10f8" opacity="0.95"/>
<circle cx="99.7" cy="549.3" r="2.28" fill="#3c08f0" opacity="0.74"/>
<circle cx="441.2" cy="606.5" r="1.81" fill="#e028ff" opacity="0.97"/>
<circle cx="957.6" cy="570.3" r="1.41" fill="#d010f0" opacity="1.00"/>
<circle cx="321.3" cy="581.5" r="1.43" fill="#5818ff" opacity="0.74"/>
<circle cx="1088.2" cy="549.9" r="2.57" fill="#5818ff" opacity="0.91"/>
<circle cx="390.4" cy="592.0" r="2.54" fill="#4810f0" opacity="0.67"/>
<circle cx="1046.2" cy="544.9" r="1.41" fill="#e028ff" opacity="0.73"/>
<circle cx="652.1" cy="619.7" r="2.24" fill="#e028ff" opacity="0.83"/>
<circle cx="81.1" cy="547.3" r="1.44" fill="#e028ff" opacity="0.92"/>
<circle cx="770.8" cy="599.7" r="1.34" fill="#e028ff" opacity="0.82"/>
<circle cx="579.0" cy="628.3" r="2.16" fill="#4810f0" opacity="0.99"/>
<circle cx="232.9" cy="565.6" r="1.67" fill="#6a18ff" opacity="0.93"/>
<circle cx="25.6" cy="555.1" r="1.94" fill="#e848ff" opacity="0.89"/>
<circle cx="212.2" cy="558.6" r="2.69" fill="#e028ff" opacity="0.89"/>
<circle cx="1075.6" cy="563.3" r="1.20" fill="#c010e8" opacity="0.74"/>
<circle cx="928.9" cy="575.7" r="2.61" fill="#5818ff" opacity="0.73"/>
<circle cx="653.5" cy="641.1" r="1.69" fill="#5818ff" opacity="0.93"/>
<circle cx="492.6" cy="618.7" r="1.71" fill="#6a18ff" opacity="0.86"/>
<circle cx="40.8" cy="542.5" r="1.33" fill="#d010f0" opacity="0.77"/>
<circle cx="44.3" cy="546.6" r="2.16" fill="#5818ff" opacity="0.98"/>
<circle cx="907.6" cy="576.5" r="1.50" fill="#5818ff" opacity="0.80"/>
<circle cx="602.7" cy="638.6" r="2.16" fill="#4a10f8" opacity="0.99"/>
<circle cx="399.9" cy="595.2" r="1.21" fill="#6a18ff" opacity="0.88"/>
<circle cx="421.5" cy="591.1" r="2.23" fill="#4810f0" opacity="0.86"/>
<circle cx="19.4" cy="547.7" r="1.64" fill="#e848ff" opacity="0.70"/>
<circle cx="321.5" cy="590.0" r="2.68" fill="#e848ff" opacity="0.90"/>
<circle cx="907.5" cy="574.8" r="2.22" fill="#6a18ff" opacity="0.96"/>
<circle cx="923.0" cy="574.5" r="1.66" fill="#5818ff" opacity="0.78"/>
<circle cx="819.1" cy="586.5" r="2.06" fill="#d010f0" opacity="0.95"/>
<circle cx="210.2" cy="551.3" r="2.09" fill="#6a18ff" opacity="0.99"/>
<circle cx="20.0" cy="553.4" r="1.57" fill="#6a18ff" opacity="0.80"/>
<circle cx="83.4" cy="549.3" r="2.43" fill="#c010e8" opacity="0.99"/>
<circle cx="164.2" cy="543.9" r="1.63" fill="#3c08f0" opacity="0.87"/>
<circle cx="219.4" cy="553.5" r="1.40" fill="#e028ff" opacity="0.79"/>
<circle cx="879.9" cy="566.1" r="1.36" fill="#e848ff" opacity="0.89"/>
<circle cx="316.9" cy="576.6" r="2.62" fill="#5818ff" opacity="0.96"/>
<circle cx="748.1" cy="617.0" r="2.09" fill="#6a18ff" opacity="0.66"/>
<circle cx="753.5" cy="601.0" r="1.78" fill="#3c08f0" opacity="0.67"/>
<circle cx="259.8" cy="570.6" r="1.25" fill="#c010e8" opacity="0.79"/>
<circle cx="266.3" cy="570.1" r="2.59" fill="#4810f0" opacity="0.90"/>
<circle cx="301.5" cy="581.0" r="1.61" fill="#e028ff" opacity="0.96"/>
<circle cx="996.4" cy="579.6" r="2.16" fill="#c010e8" opacity="0.78"/>
<circle cx="160.5" cy="543.7" r="1.69" fill="#e028ff" opacity="1.00"/>
<circle cx="913.2" cy="564.9" r="2.02" fill="#4a10f8" opacity="0.76"/>
<circle cx="103.1" cy="541.8" r="2.23" fill="#4810f0" opacity="0.69"/>
<circle cx="649.1" cy="635.8" r="1.46" fill="#e848ff" opacity="0.73"/>
<circle cx="705.8" cy="630.6" r="2.48" fill="#3c08f0" opacity="0.84"/>
<circle cx="508.1" cy="624.7" r="2.55" fill="#5818ff" opacity="0.92"/>
<circle cx="1005.8" cy="548.1" r="2.43" fill="#e028ff" opacity="0.92"/>
<circle cx="700.4" cy="628.8" r="1.74" fill="#e028ff" opacity="0.95"/>
<circle cx="671.6" cy="615.9" r="1.97" fill="#e028ff" opacity="0.71"/>
<circle cx="988.2" cy="583.2" r="1.54" fill="#e848ff" opacity="0.98"/>
<circle cx="11.3" cy="555.4" r="1.74" fill="#5818ff" opacity="0.68"/>
<circle cx="591.9" cy="635.9" r="2.31" fill="#4a10f8" opacity="0.97"/>
<circle cx="613.9" cy="630.1" r="2.17" fill="#3c08f0" opacity="0.99"/>
<circle cx="463.8" cy="613.6" r="1.52" fill="#6a18ff" opacity="0.70"/>
<circle cx="330.8" cy="578.1" r="1.49" fill="#c010e8" opacity="0.90"/>
<circle cx="254.5" cy="576.1" r="1.97" fill="#4a10f8" opacity="0.99"/>
<circle cx="514.7" cy="622.9" r="1.66" fill="#e028ff" opacity="0.92"/>
<circle cx="961.5" cy="575.5" r="2.32" fill="#5818ff" opacity="0.84"/>
<circle cx="1076.7" cy="554.2" r="2.18" fill="#e028ff" opacity="0.97"/>
<circle cx="426.1" cy="609.7" r="1.58" fill="#e848ff" opacity="0.68"/>
<circle cx="920.8" cy="564.4" r="2.36" fill="#e848ff" opacity="0.94"/>
<circle cx="171.9" cy="556.9" r="2.20" fill="#d010f0" opacity="0.68"/>
<circle cx="329.9" cy="585.9" r="1.36" fill="#4810f0" opacity="0.79"/>
<circle cx="119.9" cy="550.4" r="1.50" fill="#e848ff" opacity="0.93"/>
<circle cx="606.7" cy="635.0" r="1.20" fill="#3c08f0" opacity="0.78"/>
<circle cx="799.8" cy="592.3" r="1.23" fill="#4810f0" opacity="0.68"/>
<circle cx="1030.3" cy="552.9" r="2.46" fill="#3c08f0" opacity="0.78"/>
<circle cx="669.2" cy="638.2" r="1.58" fill="#6a18ff" opacity="0.80"/>
<circle cx="867.4" cy="582.6" r="2.43" fill="#4a10f8" opacity="0.70"/>
<circle cx="532.2" cy="635.3" r="2.31" fill="#c010e8" opacity="0.69"/>
<circle cx="53.3" cy="550.1" r="1.79" fill="#e028ff" opacity="0.87"/>
<circle cx="550.1" cy="634.3" r="1.60" fill="#d010f0" opacity="0.76"/>
<circle cx="465.7" cy="591.7" r="1.32" fill="#c010e8" opacity="0.83"/>
<circle cx="918.1" cy="565.7" r="1.44" fill="#d010f0" opacity="0.76"/>
<circle cx="396.7" cy="603.3" r="2.33" fill="#4810f0" opacity="0.90"/>
<circle cx="133.1" cy="541.5" r="2.24" fill="#e848ff" opacity="0.74"/>
<circle cx="873.1" cy="574.1" r="1.99" fill="#e848ff" opacity="0.66"/>
<circle cx="313.4" cy="577.3" r="1.46" fill="#e028ff" opacity="0.84"/>
<circle cx="661.3" cy="638.2" r="2.44" fill="#e028ff" opacity="0.98"/>
<circle cx="360.7" cy="586.3" r="1.72" fill="#5818ff" opacity="0.92"/>
<circle cx="727.3" cy="611.7" r="1.89" fill="#e028ff" opacity="0.97"/>
<circle cx="945.3" cy="577.3" r="1.88" fill="#e028ff" opacity="0.96"/>
<circle cx="100.1" cy="548.7" r="1.42" fill="#e028ff" opacity="0.66"/>
<circle cx="1003.8" cy="575.0" r="2.67" fill="#6a18ff" opacity="0.66"/>
<circle cx="617.6" cy="633.7" r="2.59" fill="#4a10f8" opacity="0.65"/>
<circle cx="736.4" cy="617.1" r="2.38" fill="#c010e8" opacity="0.70"/>
<circle cx="781.5" cy="584.5" r="1.85" fill="#e028ff" opacity="0.89"/>
<circle cx="232.9" cy="566.6" r="1.69" fill="#c010e8" opacity="0.85"/>
<circle cx="224.3" cy="559.6" r="2.40" fill="#e848ff" opacity="0.98"/>
<circle cx="291.5" cy="584.2" r="2.42" fill="#e848ff" opacity="0.90"/>
<circle cx="1016.0" cy="560.2" r="1.47" fill="#4a10f8" opacity="0.95"/>
<circle cx="116.0" cy="550.2" r="2.27" fill="#e028ff" opacity="0.70"/>
<circle cx="-4.8" cy="549.4" r="1.32" fill="#c010e8" opacity="0.70"/>
<circle cx="1039.1" cy="573.3" r="1.80" fill="#e848ff" opacity="0.73"/>
<circle cx="306.3" cy="577.2" r="2.18" fill="#e028ff" opacity="0.68"/>
<circle cx="1045.3" cy="551.1" r="2.08" fill="#3c08f0" opacity="0.75"/>
<circle cx="471.9" cy="614.5" r="2.68" fill="#4810f0" opacity="0.72"/>
<circle cx="110.5" cy="542.3" r="2.35" fill="#e848ff" opacity="0.70"/>
<circle cx="-1.0" cy="547.4" r="2.06" fill="#e028ff" opacity="0.82"/>
<circle cx="258.7" cy="569.3" r="2.38" fill="#3c08f0" opacity="0.98"/>
<circle cx="492.0" cy="612.5" r="1.94" fill="#5818ff" opacity="0.74"/>
<circle cx="442.1" cy="610.0" r="2.07" fill="#e028ff" opacity="0.78"/>
<circle cx="949.6" cy="567.8" r="1.49" fill="#4a10f8" opacity="0.78"/>
<circle cx="285.7" cy="575.7" r="1.91" fill="#c010e8" opacity="0.90"/>
<circle cx="278.3" cy="581.9" r="1.69" fill="#d010f0" opacity="0.89"/>
<circle cx="607.8" cy="624.2" r="2.61" fill="#e028ff" opacity="0.69"/>
<circle cx="687.7" cy="640.4" r="2.61" fill="#d010f0" opacity="0.69"/>
<circle cx="138.0" cy="545.6" r="2.13" fill="#5818ff" opacity="0.95"/>
<circle cx="203.1" cy="551.8" r="1.29" fill="#6a18ff" opacity="0.99"/>
<circle cx="285.7" cy="574.0" r="1.81" fill="#e028ff" opacity="0.66"/>
<circle cx="888.1" cy="584.9" r="2.18" fill="#4a10f8" opacity="0.77"/>
<circle cx="54.9" cy="542.3" r="1.51" fill="#6a18ff" opacity="0.87"/>
<circle cx="511.8" cy="631.3" r="2.54" fill="#d010f0" opacity="0.67"/>
<circle cx="559.4" cy="648.8" r="2.65" fill="#d010f0" opacity="0.73"/>
<circle cx="373.4" cy="601.6" r="1.53" fill="#5818ff" opacity="0.79"/>
<circle cx="801.4" cy="594.0" r="1.42" fill="#4810f0" opacity="0.67"/>
<circle cx="1042.9" cy="555.5" r="1.74" fill="#d010f0" opacity="0.69"/>
<circle cx="390.3" cy="607.4" r="2.25" fill="#e848ff" opacity="0.96"/>
<circle cx="1022.5" cy="559.3" r="1.41" fill="#e848ff" opacity="0.96"/>
<circle cx="725.3" cy="620.1" r="1.45" fill="#e028ff" opacity="0.94"/>
<circle cx="166.6" cy="545.7" r="1.89" fill="#5818ff" opacity="0.80"/>
<circle cx="142.7" cy="550.5" r="1.69" fill="#c010e8" opacity="0.65"/>
<circle cx="478.2" cy="609.2" r="1.65" fill="#3c08f0" opacity="0.97"/>
<circle cx="350.2" cy="586.2" r="1.63" fill="#e848ff" opacity="0.79"/>
<circle cx="569.8" cy="627.6" r="2.39" fill="#e848ff" opacity="0.85"/>
<circle cx="398.0" cy="612.3" r="2.16" fill="#e028ff" opacity="0.73"/>
<circle cx="147.9" cy="540.5" r="1.77" fill="#3c08f0" opacity="0.92"/>
<circle cx="210.8" cy="559.0" r="1.81" fill="#e848ff" opacity="0.75"/>
<circle cx="145.2" cy="542.7" r="2.00" fill="#4810f0" opacity="0.92"/>
<circle cx="1051.8" cy="564.5" r="1.28" fill="#e028ff" opacity="0.79"/>
<circle cx="86.0" cy="552.6" r="2.03" fill="#6a18ff" opacity="0.65"/>
<circle cx="658.4" cy="636.9" r="1.47" fill="#4a10f8" opacity="0.78"/>
<circle cx="602.3" cy="638.4" r="1.76" fill="#d010f0" opacity="0.92"/>
<circle cx="510.4" cy="626.7" r="2.55" fill="#4a10f8" opacity="0.99"/>
<circle cx="182.6" cy="548.8" r="1.62" fill="#4810f0" opacity="0.81"/>
<circle cx="783.0" cy="595.5" r="2.47" fill="#4a10f8" opacity="0.69"/>
<circle cx="537.5" cy="627.7" r="1.79" fill="#6a18ff" opacity="0.74"/>
<circle cx="148.0" cy="543.8" r="1.47" fill="#4810f0" opacity="0.79"/>
<circle cx="282.7" cy="578.4" r="2.69" fill="#3c08f0" opacity="0.81"/>
<circle cx="684.3" cy="626.2" r="1.68" fill="#c010e8" opacity="0.97"/>
<circle cx="201.8" cy="549.0" r="1.26" fill="#6a18ff" opacity="0.83"/>
<circle cx="996.9" cy="554.7" r="1.68" fill="#6a18ff" opacity="0.98"/>
<circle cx="210.3" cy="555.0" r="2.59" fill="#3c08f0" opacity="0.75"/>
<circle cx="167.8" cy="543.2" r="1.66" fill="#5818ff" opacity="0.66"/>
<circle cx="597.8" cy="629.0" r="2.04" fill="#d010f0" opacity="0.72"/>
<circle cx="565.6" cy="635.7" r="2.53" fill="#5818ff" opacity="0.98"/>
<circle cx="495.1" cy="627.8" r="1.33" fill="#c010e8" opacity="0.82"/>
<circle cx="482.6" cy="628.7" r="1.80" fill="#c010e8" opacity="0.87"/>
<circle cx="319.2" cy="581.3" r="1.40" fill="#d010f0" opacity="0.94"/>
<circle cx="840.1" cy="575.0" r="2.64" fill="#6a18ff" opacity="0.90"/>
<circle cx="98.7" cy="540.5" r="2.52" fill="#e848ff" opacity="0.97"/>
<circle cx="510.1" cy="643.2" r="1.99" fill="#3c08f0" opacity="0.78"/>
<circle cx="168.4" cy="546.1" r="1.43" fill="#e028ff" opacity="0.68"/>
<circle cx="150.9" cy="542.6" r="2.16" fill="#4a10f8" opacity="0.90"/>
<circle cx="623.1" cy="631.0" r="1.53" fill="#e028ff" opacity="0.66"/>
<circle cx="230.2" cy="565.0" r="2.62" fill="#3c08f0" opacity="0.82"/>
<circle cx="419.7" cy="597.7" r="1.32" fill="#6a18ff" opacity="0.81"/>
<circle cx="472.4" cy="600.2" r="2.29" fill="#e848ff" opacity="0.86"/>
<circle cx="818.5" cy="566.9" r="1.81" fill="#e848ff" opacity="0.91"/>
<circle cx="28.9" cy="545.6" r="1.30" fill="#c010e8" opacity="0.72"/>
<circle cx="391.6" cy="596.1" r="2.34" fill="#5818ff" opacity="0.66"/>
<circle cx="1085.9" cy="562.2" r="1.58" fill="#c010e8" opacity="0.97"/>
<circle cx="722.5" cy="620.5" r="1.54" fill="#4810f0" opacity="0.70"/>
<circle cx="67.4" cy="548.0" r="2.13" fill="#e028ff" opacity="0.90"/>
<circle cx="87.3" cy="544.3" r="1.40" fill="#e028ff" opacity="0.84"/>
<circle cx="252.7" cy="568.2" r="2.57" fill="#6a18ff" opacity="0.80"/>
<circle cx="322.3" cy="570.4" r="2.40" fill="#6a18ff" opacity="0.77"/>
<circle cx="351.2" cy="607.9" r="2.39" fill="#e028ff" opacity="0.93"/>
<circle cx="405.2" cy="600.8" r="2.42" fill="#3c08f0" opacity="0.68"/>
<circle cx="830.7" cy="579.0" r="2.16" fill="#4a10f8" opacity="0.66"/>
<circle cx="397.7" cy="599.2" r="1.72" fill="#e028ff" opacity="0.86"/>
<circle cx="974.1" cy="575.9" r="1.73" fill="#e848ff" opacity="0.90"/>
<circle cx="873.0" cy="566.9" r="2.53" fill="#e028ff" opacity="0.79"/>
<circle cx="473.3" cy="619.4" r="2.43" fill="#d010f0" opacity="0.72"/>
<circle cx="366.7" cy="596.1" r="2.52" fill="#e028ff" opacity="0.91"/>
<circle cx="553.2" cy="645.5" r="1.47" fill="#3c08f0" opacity="0.68"/>
<circle cx="822.7" cy="583.7" r="1.29" fill="#e848ff" opacity="0.91"/>
<circle cx="67.5" cy="550.1" r="1.93" fill="#c010e8" opacity="0.87"/>
<circle cx="22.8" cy="550.4" r="1.37" fill="#e848ff" opacity="0.74"/>
<circle cx="987.2" cy="562.8" r="2.34" fill="#c010e8" opacity="0.88"/>
<circle cx="140.5" cy="544.8" r="2.35" fill="#3c08f0" opacity="0.80"/>
<circle cx="468.5" cy="611.7" r="2.49" fill="#4810f0" opacity="0.88"/>
<circle cx="423.2" cy="611.3" r="1.66" fill="#e848ff" opacity="0.72"/>
<circle cx="921.3" cy="559.1" r="2.10" fill="#4810f0" opacity="0.96"/>
<circle cx="986.4" cy="565.0" r="2.47" fill="#4a10f8" opacity="0.90"/>
<circle cx="27.1" cy="546.5" r="1.32" fill="#4a10f8" opacity="0.88"/>
<circle cx="312.1" cy="581.7" r="1.76" fill="#4a10f8" opacity="0.79"/>
<circle cx="779.8" cy="603.7" r="1.34" fill="#e028ff" opacity="0.87"/>
<circle cx="434.2" cy="593.2" r="1.57" fill="#d010f0" opacity="0.82"/>
<circle cx="746.9" cy="597.4" r="2.61" fill="#e028ff" opacity="0.82"/>
<circle cx="866.0" cy="573.2" r="2.53" fill="#c010e8" opacity="0.71"/>
<circle cx="928.0" cy="595.5" r="1.97" fill="#3c08f0" opacity="0.77"/>
<circle cx="587.5" cy="655.9" r="2.31" fill="#c010e8" opacity="0.76"/>
<circle cx="364.1" cy="590.4" r="2.17" fill="#d010f0" opacity="0.78"/>
<circle cx="869.2" cy="571.7" r="1.96" fill="#d010f0" opacity="0.68"/>
<circle cx="1100.0" cy="548.7" r="2.36" fill="#e028ff" opacity="0.93"/>
<circle cx="626.7" cy="626.5" r="2.62" fill="#e028ff" opacity="0.76"/>
<circle cx="299.4" cy="580.6" r="1.84" fill="#5818ff" opacity="0.84"/>
<circle cx="581.1" cy="637.1" r="2.58" fill="#5818ff" opacity="0.91"/>
<circle cx="1054.6" cy="564.6" r="1.45" fill="#e028ff" opacity="0.68"/>
<circle cx="702.9" cy="626.0" r="1.78" fill="#3c08f0" opacity="0.89"/>
<circle cx="542.3" cy="631.7" r="1.39" fill="#e848ff" opacity="0.99"/></g>
<g filter="url(#b1)"><circle cx="872.3" cy="318.4" r="2.0" fill="#5020f0" opacity="0.65"/>
<circle cx="977.6" cy="228.2" r="0.8" fill="#b040ff" opacity="0.46"/>
<circle cx="879.5" cy="350.5" r="1.2" fill="#b040ff" opacity="0.72"/>
<circle cx="864.8" cy="244.0" r="1.2" fill="#6a30ff" opacity="0.55"/>
<circle cx="952.2" cy="429.6" r="1.5" fill="#6a30ff" opacity="0.90"/>
<circle cx="919.3" cy="199.0" r="1.5" fill="#8a40ff" opacity="0.65"/>
<circle cx="972.6" cy="274.4" r="0.8" fill="#8a40ff" opacity="0.45"/>
<circle cx="859.2" cy="367.4" r="1.0" fill="#5020f0" opacity="0.58"/>
<circle cx="897.7" cy="355.8" r="1.5" fill="#6a30ff" opacity="0.68"/>
<circle cx="967.2" cy="250.3" r="2.0" fill="#5020f0" opacity="0.66"/>
<circle cx="920.6" cy="333.9" r="1.2" fill="#5020f0" opacity="0.64"/>
<circle cx="936.1" cy="188.3" r="2.0" fill="#6a30ff" opacity="0.66"/>
<circle cx="968.5" cy="289.9" r="1.5" fill="#b040ff" opacity="0.88"/>
<circle cx="1060.8" cy="309.8" r="0.8" fill="#5020f0" opacity="0.67"/>
<circle cx="1052.6" cy="427.6" r="1.2" fill="#8a40ff" opacity="0.76"/>
<circle cx="894.1" cy="158.3" r="1.2" fill="#5020f0" opacity="0.51"/>
<circle cx="940.5" cy="363.8" r="1.2" fill="#b040ff" opacity="0.80"/>
<circle cx="920.4" cy="184.4" r="1.0" fill="#6a30ff" opacity="0.71"/>
<circle cx="922.2" cy="179.0" r="2.0" fill="#5020f0" opacity="0.49"/>
<circle cx="1019.8" cy="198.1" r="1.5" fill="#b040ff" opacity="0.61"/>
<circle cx="1065.8" cy="408.8" r="1.2" fill="#6a30ff" opacity="0.84"/>
<circle cx="864.6" cy="245.1" r="1.0" fill="#b040ff" opacity="0.66"/>
<circle cx="1012.3" cy="378.3" r="2.0" fill="#5020f0" opacity="0.83"/>
<circle cx="985.4" cy="292.1" r="1.0" fill="#6a30ff" opacity="0.65"/>
<circle cx="885.9" cy="361.3" r="1.5" fill="#8a40ff" opacity="0.75"/>
<circle cx="861.1" cy="390.7" r="0.8" fill="#8a40ff" opacity="0.79"/>
<circle cx="966.0" cy="253.0" r="1.5" fill="#8a40ff" opacity="0.48"/>
<circle cx="930.9" cy="236.4" r="1.2" fill="#5020f0" opacity="0.69"/>
<circle cx="1038.2" cy="272.9" r="1.5" fill="#5020f0" opacity="0.57"/>
<circle cx="1085.2" cy="402.0" r="1.2" fill="#5020f0" opacity="0.54"/>
<circle cx="982.9" cy="306.6" r="0.8" fill="#8a40ff" opacity="0.43"/>
<circle cx="1097.3" cy="359.7" r="1.2" fill="#5020f0" opacity="0.84"/>
<circle cx="1065.6" cy="243.8" r="1.2" fill="#b040ff" opacity="0.89"/>
<circle cx="927.5" cy="254.4" r="2.0" fill="#5020f0" opacity="0.70"/>
<circle cx="1028.8" cy="334.5" r="1.0" fill="#6a30ff" opacity="0.74"/>
<circle cx="917.7" cy="279.5" r="1.5" fill="#b040ff" opacity="0.88"/>
<circle cx="908.0" cy="150.1" r="2.0" fill="#6a30ff" opacity="0.48"/>
<circle cx="937.8" cy="270.3" r="1.0" fill="#8a40ff" opacity="0.77"/>
<circle cx="970.6" cy="341.5" r="1.5" fill="#5020f0" opacity="0.87"/>
<circle cx="866.0" cy="232.9" r="1.0" fill="#8a40ff" opacity="0.42"/>
<circle cx="902.2" cy="276.0" r="0.8" fill="#5020f0" opacity="0.83"/>
<circle cx="924.8" cy="228.3" r="1.5" fill="#8a40ff" opacity="0.44"/>
<circle cx="944.7" cy="350.1" r="0.8" fill="#8a40ff" opacity="0.59"/>
<circle cx="1002.8" cy="302.2" r="2.0" fill="#5020f0" opacity="0.70"/>
<circle cx="1001.0" cy="180.5" r="2.0" fill="#b040ff" opacity="0.82"/>
<circle cx="218.0" cy="475.8" r="1.1" fill="#b040ff" opacity="0.43"/>
<circle cx="428.0" cy="261.3" r="1.4" fill="#b040ff" opacity="0.51"/>
<circle cx="810.0" cy="485.3" r="1.8" fill="#b040ff" opacity="0.52"/>
<circle cx="916.9" cy="219.8" r="1.4" fill="#8a40ff" opacity="0.50"/>
<circle cx="223.4" cy="478.2" r="1.4" fill="#b040ff" opacity="0.72"/>
<circle cx="261.4" cy="540.9" r="0.9" fill="#5020f0" opacity="0.79"/>
<circle cx="193.1" cy="365.8" r="1.1" fill="#5020f0" opacity="0.57"/>
<circle cx="1005.8" cy="245.4" r="2.3" fill="#5020f0" opacity="0.86"/>
<circle cx="755.3" cy="287.8" r="1.1" fill="#8a40ff" opacity="0.60"/>
<circle cx="111.0" cy="372.8" r="1.8" fill="#8a40ff" opacity="0.70"/>
<circle cx="946.5" cy="525.3" r="1.1" fill="#8a40ff" opacity="0.54"/>
<circle cx="200.1" cy="314.2" r="2.3" fill="#5020f0" opacity="0.62"/>
<circle cx="165.9" cy="282.7" r="1.1" fill="#8a40ff" opacity="0.60"/>
<circle cx="785.7" cy="230.6" r="2.3" fill="#6a30ff" opacity="0.85"/>
<circle cx="317.7" cy="241.5" r="1.4" fill="#5020f0" opacity="0.77"/>
<circle cx="720.2" cy="276.8" r="1.1" fill="#8a40ff" opacity="0.73"/>
<circle cx="8.9" cy="496.7" r="1.8" fill="#6a30ff" opacity="0.80"/>
<circle cx="388.4" cy="342.6" r="0.9" fill="#8a40ff" opacity="0.43"/>
<circle cx="92.8" cy="380.7" r="1.8" fill="#8a40ff" opacity="0.87"/>
<circle cx="153.5" cy="516.4" r="2.3" fill="#6a30ff" opacity="0.72"/>
<circle cx="881.8" cy="338.5" r="1.1" fill="#b040ff" opacity="0.84"/>
<circle cx="256.7" cy="300.7" r="0.9" fill="#5020f0" opacity="0.48"/>
<circle cx="1036.4" cy="338.7" r="2.3" fill="#6a30ff" opacity="0.66"/>
<circle cx="67.5" cy="491.3" r="1.8" fill="#b040ff" opacity="0.65"/>
<circle cx="96.8" cy="314.2" r="0.9" fill="#8a40ff" opacity="0.62"/>
<circle cx="640.3" cy="344.9" r="0.9" fill="#b040ff" opacity="0.90"/>
<circle cx="276.5" cy="399.8" r="0.9" fill="#5020f0" opacity="0.42"/>
<circle cx="504.6" cy="266.6" r="2.3" fill="#8a40ff" opacity="0.71"/>
<circle cx="348.7" cy="180.2" r="1.4" fill="#6a30ff" opacity="0.59"/>
<circle cx="817.0" cy="375.6" r="1.1" fill="#5020f0" opacity="0.71"/>
<circle cx="671.4" cy="553.5" r="2.3" fill="#5020f0" opacity="0.64"/>
<circle cx="289.3" cy="342.7" r="1.1" fill="#8a40ff" opacity="0.84"/>
<circle cx="907.3" cy="263.4" r="1.1" fill="#8a40ff" opacity="0.72"/>
<circle cx="783.7" cy="236.3" r="1.4" fill="#b040ff" opacity="0.51"/>
<circle cx="445.7" cy="448.5" r="1.1" fill="#6a30ff" opacity="0.82"/>
<circle cx="825.8" cy="270.6" r="1.4" fill="#5020f0" opacity="0.47"/>
<circle cx="187.5" cy="406.5" r="1.8" fill="#8a40ff" opacity="0.63"/>
<circle cx="118.4" cy="247.6" r="1.1" fill="#5020f0" opacity="0.66"/>
<circle cx="987.0" cy="264.9" r="2.3" fill="#b040ff" opacity="0.65"/>
<circle cx="162.5" cy="182.6" r="2.3" fill="#5020f0" opacity="0.82"/>
<circle cx="1077.7" cy="263.7" r="1.4" fill="#6a30ff" opacity="0.58"/>
<circle cx="833.4" cy="317.6" r="1.4" fill="#b040ff" opacity="0.80"/>
<circle cx="727.6" cy="540.9" r="0.9" fill="#6a30ff" opacity="0.77"/>
<circle cx="693.3" cy="290.4" r="1.1" fill="#6a30ff" opacity="0.65"/>
<circle cx="658.6" cy="283.5" r="0.9" fill="#b040ff" opacity="0.59"/>
<circle cx="935.9" cy="451.8" r="2.3" fill="#5020f0" opacity="0.53"/>
<circle cx="69.2" cy="239.5" r="1.4" fill="#5020f0" opacity="0.62"/>
<circle cx="796.7" cy="383.2" r="1.4" fill="#5020f0" opacity="0.67"/>
<circle cx="528.6" cy="301.9" r="1.4" fill="#8a40ff" opacity="0.81"/>
<circle cx="178.4" cy="359.1" r="1.1" fill="#8a40ff" opacity="0.43"/>
<circle cx="598.5" cy="386.7" r="1.8" fill="#b040ff" opacity="0.54"/>
<circle cx="640.4" cy="463.0" r="2.3" fill="#6a30ff" opacity="0.66"/>
<circle cx="495.9" cy="270.3" r="1.4" fill="#b040ff" opacity="0.48"/>
<circle cx="152.1" cy="219.2" r="1.8" fill="#b040ff" opacity="0.68"/>
<circle cx="90.7" cy="253.4" r="2.3" fill="#5020f0" opacity="0.70"/>
<circle cx="601.5" cy="408.9" r="1.1" fill="#b040ff" opacity="0.41"/>
<circle cx="1057.7" cy="492.4" r="1.1" fill="#6a30ff" opacity="0.87"/>
<circle cx="1001.9" cy="410.0" r="2.3" fill="#6a30ff" opacity="0.86"/>
<circle cx="884.0" cy="314.1" r="1.1" fill="#5020f0" opacity="0.46"/>
<circle cx="594.1" cy="388.6" r="1.1" fill="#5020f0" opacity="0.42"/></g>
</svg>
<div class="bottom"></div>

<span class="t title" style="left:158.0px;transform:scaleX(0.949)">AI</span><span class="t title" style="left:207.0px;transform:scaleX(0.989)">Lead</span><span class="t title" style="left:314.0px;transform:scaleX(0.987)">Capture</span><span class="t title" style="left:481.0px;transform:scaleX(0.952)">&amp;</span><span class="t title" style="left:520.0px;transform:scaleX(1.0)">Qualification</span><span class="t title" style="left:776.9px;transform:scaleX(1.062)">System</span>
<span class="t sub" style="left:205.0px;transform:scaleX(1.056)">Automatic</span><span class="t sub" style="left:336.5px;transform:scaleX(0.971)">lead</span><span class="t sub" style="left:392.6px;transform:scaleX(0.996)">capture,</span><span class="t sub" style="left:493.5px;transform:scaleX(1.052)">qualification,</span><span class="t sub" style="left:655.5px;transform:scaleX(0.984)">and</span><span class="t sub" style="left:706.1px;transform:scaleX(0.895)">CRM</span><span class="t sub" style="left:766.3px;transform:scaleX(1.037)">integration</span>
<span class="t foot" style="left:106.6px;transform:scaleX(0.979)">Capture</span><span class="t foot" style="left:193.0px;transform:scaleX(0.969)">leads</span><span class="t foot" style="left:252.0px;transform:scaleX(1.04)">from</span><span class="t foot" style="left:305.8px;transform:scaleX(0.986)">website,</span><span class="t foot" style="left:395.8px;transform:scaleX(0.982)">WhatsApp,</span><span class="t foot" style="left:512.2px;transform:scaleX(0.968)">and</span><span class="t foot" style="left:556.0px;transform:scaleX(0.997)">Instagram,</span><span class="t foot" style="left:670.2px;transform:scaleX(1.062)">qualify</span><span class="t foot" style="left:746.9px;transform:scaleX(1.046)">automatically,</span><span class="t foot" style="left:898.2px;transform:scaleX(0.995)">and</span>

<!-- lines -->
<svg class="layer" width="1100" height="733" viewBox="0 0 1100 733">
<defs>
 <filter id="lg" x="-20%" y="-20%" width="140%" height="140%"><feGaussianBlur stdDeviation="3"/></filter>
 <filter id="lg2" x="-20%" y="-20%" width="140%" height="140%"><feGaussianBlur stdDeviation="7"/></filter>
 <radialGradient id="dg" cx="0.5" cy="0.5" r="0.5"><stop offset="0" stop-color="#d060ff" stop-opacity="1"/><stop offset="0.3" stop-color="#a020ff" stop-opacity="0.75"/><stop offset="0.6" stop-color="#8010ff" stop-opacity="0.3"/><stop offset="1" stop-color="#7010ff" stop-opacity="0"/></radialGradient>
</defs>
<g fill="none" stroke-linecap="round">
 <g stroke="#6a00d8" stroke-width="26" opacity="0.36" filter="url(#lg2)">
  <use href="#p1"/><use href="#p2"/><use href="#p3"/><use href="#p4"/><use href="#p5"/><use href="#p6"/><use href="#p7"/><use href="#p8"/><use href="#p9"/><use href="#p10"/>
 </g>
 <g stroke="#8a10f0" stroke-width="6" opacity="0.8" filter="url(#lg)">
  <use href="#p1"/><use href="#p2"/><use href="#p3"/><use href="#p4"/><use href="#p5"/><use href="#p6"/><use href="#p7"/><use href="#p8"/><use href="#p9"/><use href="#p10"/>
 </g>
 <g stroke="#ecc8ff" stroke-width="1.9">
  <path id="p1" d="M295 235 L497 237"/>
  <path id="p2" d="M619 236 L817 236"/>
  <path id="p3" d="M500 300.5 L438 300.5 Q416.5 300.5 416.5 322 L416.5 362 Q416.5 383.5 395 383.5 L295 383"/>
  <path id="p4" d="M554 302 Q558.5 306 558.5 314 L558.5 333 Q558.5 349 542 349 L524 349 Q503 349 503 369"/>
  <path id="p5" d="M563 302 Q558.5 306 558.5 314 L558.5 333 Q558.5 349 575 349 L595 349 Q615 349 615 369"/>
  <path id="p6" d="M618 301 L676 301 Q698 301 698 323 L698 368"/>
  <path id="p7" d="M293 444.5 L335 444.5 Q355.5 444.5 355.5 465 L355.5 487 Q355.5 507.5 370 507.5"/>
  <path id="p8" d="M295 521.5 L362 521.5 Q382 521.5 382 501 L382 493 Q382 472.5 402 472.5 L439 472.5"/>
  <path id="p9" d="M618 516 L618 536 Q618 548 605 548 L488 548 Q469.5 548 469.5 567"/>
  <path id="p10" d="M618 516 L618 536 Q618 548 631 548 L750 548 Q767 548 767 564.5"/>
 </g>
</g>
<circle cx="469.5" cy="571" r="14" fill="url(#dg)"/><circle cx="469.5" cy="572" r="4" fill="#fdf6ff"/>
</svg>

<!-- left nodes -->
<div class="node ln" style="left:162.5px;top:185.5px;width:131px;height:129px">
 <div class="lbl" style="top:92px;left:1px;font-size:22px;letter-spacing:0.2px">Website</div>
</div>
<div class="node ln" style="left:162.5px;top:340.5px;width:131px;height:127px">
 <div class="lbl" style="top:91px;left:6px;font-size:22px;letter-spacing:-0.05px">WhatsApp</div>
</div>
<div class="node ln" style="left:162.5px;top:480.5px;width:131px;height:124px">
 <div class="lbl" style="top:89.5px;left:5px;font-size:22px;letter-spacing:0.2px">Instagram</div>
</div>

<div class="node" style="left:499.5px;top:198px;width:120px;height:105.5px;border-radius:11px;border:2px solid #c4a6ff;background:linear-gradient(160deg,#4c00b8 0%,#3a009e 40%,#26007e 100%);box-shadow:0 0 9px rgba(160,90,255,0.55), inset 0 0 6px rgba(180,120,255,0.35)"></div>

<div class="node" style="left:819px;top:186.5px;width:117.5px;height:152.5px;border-radius:12px;border:2px solid #7c30ea;background:linear-gradient(180deg,#2c0088 0%,#220070 60%,#200064 100%);box-shadow:0 0 7px rgba(130,50,240,0.5), inset 0 0 5px rgba(140,60,255,0.35)">
 <div class="lbl" style="-webkit-text-stroke:0.25px #f2eefa;top:97.5px;left:3.4px;font-size:18px;line-height:21.5px;letter-spacing:0.45px">Calendiar<br>Antegration</div>
</div>

<div class="node mn" style="left:450px;top:372px;width:103px;height:139.5px">
 <div class="lbl" style="-webkit-text-stroke:0.25px #f2eefa;top:82.5px;left:3.5px;font-size:18px;line-height:20px;letter-spacing:0.2px">Qualify<br>Prospects</div>
</div>
<div class="node mn" style="left:567.5px;top:372.5px;width:104px;height:139px">
 <div class="lbl" style="-webkit-text-stroke:0.25px #f2eefa;top:82px;left:-1px;font-size:18px;line-height:20px">Filter<br>Leads</div>
</div>
<div class="node mn" style="left:683.5px;top:373.5px;width:99px;height:138px">
 <div class="lbl" style="-webkit-text-stroke:0.25px #f2eefa;top:81px;font-size:18px;line-height:20px">CRM<br>Integration</div>
</div>

<!-- pills -->
<div class="pill" style="left:409px;width:97px;padding-right:3px;border-radius:13px 2px 13px 2px;border:1.5px solid #3a20c4;background:linear-gradient(170deg,#2c0890,#200070 70%,#1e006a);color:#f2d88e">Cold<br><span style="color:#efe2c6">Lead</span></div>
<div class="pill" style="left:516px;width:97px;border-radius:14px 3px 13px 2px;border:1.5px solid #5438e4;background:linear-gradient(160deg,#4620d0,#3404ac 50%,#3000a4);">Warm<br><span>Lead</span></div>
<div class="pill" style="left:623px;top:570.5px;height:58.5px;padding-top:8.3px;width:98px;border-radius:14px 1px 13px 2px;border:1.5px solid #9a30e0;background:linear-gradient(200deg,#a432d2 0%,#7a10c2 30%,#5000a0 80%,#4e009e 100%);box-shadow:0 0 6px rgba(180,40,230,0.35)">Hot<br><span>Lead</span></div>
<div class="pill" style="left:731px;width:96px;padding-left:3px;border-radius:14px 8px 14px 3px;border:1.5px solid #3c22c6;background:linear-gradient(170deg,#320ca4,#28007e 70%,#26007a);color:#f4de94">Qualified<br><span style="color:#f0eaf6">Lead</span></div>

<!-- icons & dots overlay -->
<svg class="layer" width="1100" height="733" viewBox="0 0 1100 733">
<defs>
 <linearGradient id="wb" x1="0" x2="1"><stop offset="0" stop-color="#7418d4"/><stop offset="1" stop-color="#9a34e6"/></linearGradient>
 <linearGradient id="wbody" x1="0" x2="1"><stop offset="0" stop-color="#2e00a6"/><stop offset="1" stop-color="#4204c0"/></linearGradient>
 <linearGradient id="aib" x1="0" y1="0" x2="0" y2="1"><stop offset="0" stop-color="#5430e4"/><stop offset="1" stop-color="#3e00c8"/></linearGradient>
 <linearGradient id="calf" x1="0" y1="0" x2="0" y2="1"><stop offset="0" stop-color="#4a00c2"/><stop offset="0.3" stop-color="#4000b6"/><stop offset="1" stop-color="#3400a6"/></linearGradient>
 <linearGradient id="wag" x1="0" y1="0" x2="0" y2="1"><stop offset="0" stop-color="#62e474"/><stop offset="1" stop-color="#20bc3a"/></linearGradient>
 <linearGradient id="igb" x1="0" y1="0" x2="1" y2="0.6"><stop offset="0" stop-color="#6a2ae0"/><stop offset="0.55" stop-color="#a81aa8"/><stop offset="1" stop-color="#d01ab8"/></linearGradient>
 <radialGradient id="igg" cx="0.22" cy="1.02" r="0.95">
  <stop offset="0" stop-color="#ffc83a" stop-opacity="1"/><stop offset="0.22" stop-color="#f7962a" stop-opacity="1"/><stop offset="0.5" stop-color="#e2306a" stop-opacity="0.85"/><stop offset="1" stop-color="#c02080" stop-opacity="0"/>
 </radialGradient>
 <linearGradient id="mg" x1="0" y1="0" x2="1" y2="1"><stop offset="0" stop-color="#f8d0ff"/><stop offset="0.45" stop-color="#e078f6"/><stop offset="1" stop-color="#c050ec"/></linearGradient>
 <linearGradient id="flf" x1="0" y1="0" x2="0.6" y2="1"><stop offset="0" stop-color="#5418e0"/><stop offset="1" stop-color="#3a00b8"/></linearGradient>
 <linearGradient id="crmf" x1="0" y1="0" x2="0" y2="1"><stop offset="0" stop-color="#5010d6"/><stop offset="1" stop-color="#3c00b2"/></linearGradient>
 <filter id="sg" x="-30%" y="-30%" width="160%" height="160%"><feGaussianBlur stdDeviation="1.5"/></filter>
</defs>

<!-- website icon -->
<g>
 <path d="M222.9 259.5 L237.6 259.5 L230 265.8 Z" fill="#7a30e0"/>
 <rect x="194" y="203.4" width="70" height="57" rx="5" fill="#4a18d0"/>
 <path d="M194 215.5 L194 208.4 Q194 203.4 199 203.4 L259 203.4 Q264 203.4 264 208.4 L264 215.5 Z" fill="url(#wb)"/>
 <rect x="194.8" y="215.5" width="68.4" height="36.5" fill="url(#wbody)" stroke="#e070ea" stroke-width="1.3"/>
 <rect x="195" y="252.6" width="68" height="7.6" fill="#5020d8"/>
 <circle cx="200.6" cy="210.3" r="2.2" fill="#fff"/><circle cx="206.5" cy="210.3" r="2.2" fill="#fff"/><circle cx="212.6" cy="210.3" r="2.2" fill="#fff"/>
 <g stroke-linecap="round">
  <line x1="223" y1="224.5" x2="255.7" y2="224.5" stroke="#fff" stroke-width="3.2"/>
  <line x1="223" y1="231.2" x2="255.7" y2="231.2" stroke="#fff" stroke-width="3.2"/>
  <line x1="222.5" y1="238.1" x2="246.8" y2="238.1" stroke="#e040d8" stroke-width="2.2"/>
  <line x1="222.5" y1="244" x2="235.8" y2="244" stroke="#d83ad6" stroke-width="1.9"/>
  <line x1="243.5" y1="244" x2="255.5" y2="244" stroke="#b030d0" stroke-width="1.5"/>
 </g>
</g>

<!-- AI icon -->
<g>
 <rect x="532.2" y="226.4" width="51.5" height="46.3" rx="5" fill="url(#aib)" stroke="#6a4af0" stroke-width="1"/>
 <text x="535.6" y="264" font-family="Liberation Sans" font-weight="700" font-size="42" fill="#fff" textLength="42.5" lengthAdjust="spacingAndGlyphs">AI</text>
 <g stroke="#b446e6" stroke-width="3" stroke-linecap="round"><line x1="531.0" y1="221.0" x2="525.8" y2="215.4"/><line x1="564.4" y1="219.1" x2="566.0" y2="211.7"/><line x1="587.1" y1="222.1" x2="592.5" y2="216.9"/><line x1="522.3" y1="241.7" x2="514.9" y2="239.9"/><line x1="592.6" y1="241.3" x2="600.0" y2="239.5"/><line x1="523.2" y1="263.6" x2="516.2" y2="266.4"/><line x1="588.1" y1="257.1" x2="595.5" y2="258.9"/><line x1="538.1" y1="279.8" x2="533.9" y2="286.2"/><line x1="561.2" y1="280.4" x2="562.0" y2="288.0"/><line x1="583.2" y1="278.1" x2="588.2" y2="283.7"/></g>
</g>

<!-- calendar icon -->
<g>
 <rect x="837.5" y="202.6" width="81.5" height="72.3" rx="7" fill="url(#calf)" stroke="#8a40f0" stroke-width="1.6"/>
 <line x1="838.5" y1="222" x2="918" y2="222" stroke="#e040d0" stroke-width="1.6"/>
 <rect x="851.7" y="197.4" width="5" height="15" rx="2.5" fill="#ecc8ff"/>
 <rect x="898.9" y="197.4" width="5" height="15" rx="2.5" fill="#ecc8ff"/>
 <g stroke="#9a52e6" stroke-width="1.6" stroke-linecap="round">
  <line x1="863.5" y1="230.5" x2="863.5" y2="234.5"/><line x1="878.8" y1="230" x2="878.8" y2="234.5"/><line x1="894.5" y1="230.5" x2="894.5" y2="234.5"/>
  <line x1="851" y1="238" x2="857.5" y2="238"/><line x1="850.6" y1="245.7" x2="857.8" y2="245.7"/><line x1="850.6" y1="252.4" x2="857.8" y2="252.4"/><line x1="853" y1="259.3" x2="857" y2="259.3"/>
  <line x1="900.2" y1="238" x2="907" y2="238"/><line x1="900.2" y1="245.7" x2="907" y2="245.7"/><line x1="900.2" y1="252.4" x2="907" y2="252.4"/><line x1="901" y1="259.3" x2="905" y2="259.3"/>
 </g>
 <path d="M870.2 250.3 L877.6 256.9 L890.9 242.2" fill="none" stroke="#f6eef2" stroke-width="4" stroke-linecap="round" stroke-linejoin="round"/>
</g>

<!-- whatsapp -->
<g>
 <path d="M233.6 354 A31 31 0 1 1 219.5 411.6 L200.8 416.3 L206 400 A31 31 0 0 1 233.6 354 Z" fill="#f2f2f2"/>
 <path d="M233.6 359.5 A25.5 25.5 0 1 1 220.3 406.3 L208.8 409.3 L211.8 398.6 A25.5 25.5 0 0 1 233.6 359.5 Z" fill="url(#wag)"/>
 <path d="M222.5 372 C224.5 370.3 227.3 370.8 228.4 373 L231 378.8 C231.6 380.4 231 382 229.8 383 L228.2 384.4 C230.2 389.2 234 393 238.8 395.2 L240.3 393.5 C241.3 392.3 243 392 244.5 392.6 L249.6 395 C251.6 396 252.2 398.5 250.8 400.2 L249.2 401.8 C246.5 404.5 242.2 405 238.5 403.4 C228.8 399.2 221.2 391.6 218 382 C216.9 378.3 218 374.5 220.5 373 Z" fill="#f6f6f6"/>
</g>

<!-- instagram -->
<g>
 <rect x="198" y="492.8" width="68" height="65.6" rx="16" fill="url(#igb)"/><rect x="198" y="492.8" width="68" height="65.6" rx="16" fill="url(#igg)"/>
 <rect x="208.7" y="503" width="46.6" height="45" rx="11" fill="none" stroke="#f8f0f6" stroke-width="5.2"/>
 <circle cx="232.1" cy="525.7" r="11.8" fill="none" stroke="#f8f0f6" stroke-width="5"/>
 <circle cx="246.8" cy="511.4" r="3.3" fill="#f8f0f6"/>
</g>

<!-- magnifier -->
<g>
 <line x1="518" y1="425" x2="531.8" y2="440.8" stroke="#a846ee" stroke-width="7" stroke-linecap="round"/>
 <line x1="513" y1="419" x2="519" y2="426" stroke="#9a3ce0" stroke-width="4"/>
 <circle cx="502.2" cy="406.7" r="16.4" fill="#2c0a9c" stroke="url(#mg)" stroke-width="4.4"/>
 <circle cx="502.2" cy="406.7" r="12.1" fill="#2a0a94" stroke="#f6e6ff" stroke-width="2.6"/>
</g>

<!-- filter icon -->
<g>
 <rect x="592" y="389" width="55" height="55.6" rx="7" fill="url(#flf)" stroke="#7a44ee" stroke-width="0.8"/>
 <g fill="none" stroke="#fbf6ff" stroke-width="2.3" stroke-linecap="round" stroke-linejoin="round">
  <path d="M600.5 398.6 Q598.8 398.6 599 402.1 Q599.5 406.1 603.5 406.3 Q608.5 406.3 608.8 402.1"/><path d="M601.5 401.1 L604 404.1 L610 396.6"/><path d="M600.5 413.8 Q598.8 413.8 599 417.3 Q599.5 421.3 603.5 421.5 Q608.5 421.5 608.8 417.3"/><path d="M601.5 416.3 L604 419.3 L610 411.8"/><path d="M600.5 429.0 Q598.8 429.0 599 432.5 Q599.5 436.5 603.5 436.7 Q608.5 436.7 608.8 432.5"/><path d="M601.5 431.5 L604 434.5 L610 427.0"/>
 </g>
 <g stroke="#fbf6ff" stroke-width="3" stroke-linecap="round">
  <line x1="615" y1="404.2" x2="634" y2="404.2"/><line x1="615" y1="418.3" x2="637.5" y2="418.3"/><line x1="615" y1="432.1" x2="637.5" y2="432.1"/>
 </g>
 <path d="M632.5 399.5 L638.5 404.2 L632.5 408.9 Z" fill="#fbf6ff"/>
</g>

<!-- CRM icon -->
<g>
 <rect x="700.3" y="388.7" width="65" height="57.5" rx="7" fill="url(#crmf)" stroke="#9a38e6" stroke-width="1"/>
 <path d="M701 405 L701 395.7 Q701 389.4 707.3 389.4 L758.3 389.4 Q764.6 389.4 764.6 395.7 L764.6 405 Z" fill="#5a10d8"/>
 <circle cx="708.8" cy="396.8" r="2" fill="#fff"/><circle cx="715.3" cy="396.8" r="2" fill="#fff"/><circle cx="722" cy="396.8" r="1.9" fill="#f0b0f0"/>
 <line x1="702.5" y1="407" x2="763.5" y2="407" stroke="#fff" stroke-width="3.5"/>
 <line x1="712.2" y1="415.4" x2="747.3" y2="415.4" stroke="#f4f0ff" stroke-width="3"/>
 <text x="711.6" y="437.9" font-family="Liberation Sans" font-weight="700" font-size="20.5" fill="#fff" textLength="44.6" lengthAdjust="spacingAndGlyphs">CRM</text>
</g>

<!-- dots -->
<circle cx="295" cy="234.5" r="14.0" fill="url(#dg)"/><circle cx="295" cy="234.5" r="3.9" fill="#fdf6ff"/><circle cx="497.5" cy="236.5" r="14.0" fill="url(#dg)"/><circle cx="497.5" cy="236.5" r="3.9" fill="#fdf6ff"/><circle cx="619.5" cy="236" r="14.0" fill="url(#dg)"/><circle cx="619.5" cy="236" r="3.9" fill="#fdf6ff"/><circle cx="817" cy="236" r="14.0" fill="url(#dg)"/><circle cx="817" cy="236" r="3.9" fill="#fdf6ff"/><circle cx="295" cy="383" r="14.0" fill="url(#dg)"/><circle cx="295" cy="383" r="3.9" fill="#fdf6ff"/><circle cx="503" cy="369.5" r="14.0" fill="url(#dg)"/><circle cx="503" cy="369.5" r="3.9" fill="#fdf6ff"/><circle cx="615" cy="369.5" r="14.0" fill="url(#dg)"/><circle cx="615" cy="369.5" r="3.9" fill="#fdf6ff"/><circle cx="698" cy="368.5" r="14.0" fill="url(#dg)"/><circle cx="698" cy="368.5" r="3.9" fill="#fdf6ff"/><circle cx="295" cy="521.5" r="14.0" fill="url(#dg)"/><circle cx="295" cy="521.5" r="3.9" fill="#fdf6ff"/><circle cx="439" cy="472.5" r="14.0" fill="url(#dg)"/><circle cx="439" cy="472.5" r="3.9" fill="#fdf6ff"/><circle cx="560" cy="418.5" r="14.0" fill="url(#dg)"/><circle cx="560" cy="418.5" r="3.9" fill="#fdf6ff"/><circle cx="675.5" cy="418.5" r="14.0" fill="url(#dg)"/><circle cx="675.5" cy="418.5" r="3.9" fill="#fdf6ff"/><circle cx="618" cy="516" r="14.0" fill="url(#dg)"/><circle cx="618" cy="516" r="3.9" fill="#fdf6ff"/><circle cx="767" cy="564.5" r="14.0" fill="url(#dg)"/><circle cx="767" cy="564.5" r="3.9" fill="#fdf6ff"/>
</svg>

</body></html>
